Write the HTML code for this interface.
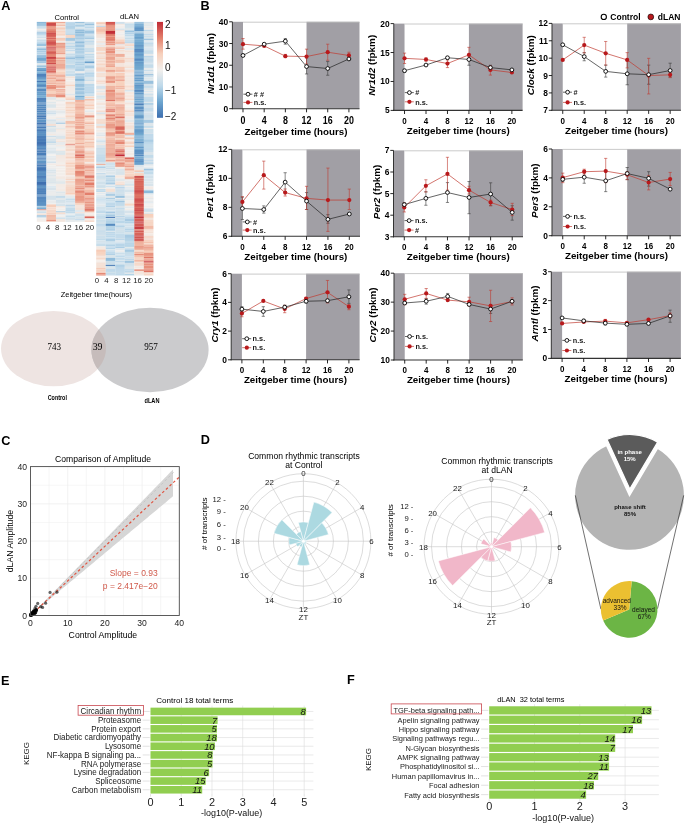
<!DOCTYPE html><html><head><meta charset="utf-8"><style>html,body{margin:0;padding:0;background:#fff;}svg{display:block;will-change:transform;}</style></head><body><svg width="685" height="825" viewBox="0 0 685 825" font-family='"Liberation Sans", sans-serif'>
<rect width="685" height="825" fill="#fff"/>
<text x="1.30" y="10.10" font-size="12.7" font-weight="bold" text-anchor="start" fill="#000">A</text>
<text x="66.80" y="20.00" font-size="7.6" text-anchor="middle" fill="#000">Control</text>
<text x="129.60" y="19.00" font-size="7.6" text-anchor="middle" fill="#000">dLAN</text>
<rect x="36.80" y="21.90" width="9.63" height="1.05" fill="#86b5d7"/>
<rect x="36.80" y="22.90" width="9.63" height="3.05" fill="#9cc3de"/>
<rect x="36.80" y="25.90" width="9.63" height="2.05" fill="#c7ddea"/>
<rect x="36.80" y="27.90" width="9.63" height="1.05" fill="#d4e2eb"/>
<rect x="36.80" y="28.90" width="9.63" height="1.55" fill="#f2eeea"/>
<rect x="36.80" y="30.40" width="9.63" height="2.05" fill="#d6e3eb"/>
<rect x="36.80" y="32.40" width="9.63" height="1.05" fill="#8ebada"/>
<rect x="36.80" y="33.40" width="9.63" height="1.05" fill="#a9cbe3"/>
<rect x="36.80" y="34.40" width="9.63" height="1.05" fill="#b2d1e6"/>
<rect x="36.80" y="35.40" width="9.63" height="1.05" fill="#d0e1eb"/>
<rect x="36.80" y="36.40" width="9.63" height="2.05" fill="#d1e1eb"/>
<rect x="36.80" y="38.40" width="9.63" height="1.05" fill="#e9ebec"/>
<rect x="36.80" y="39.40" width="9.63" height="2.05" fill="#c8ddea"/>
<rect x="36.80" y="41.40" width="9.63" height="2.05" fill="#c1daea"/>
<rect x="36.80" y="43.40" width="9.63" height="3.05" fill="#9bc3de"/>
<rect x="36.80" y="46.40" width="9.63" height="1.05" fill="#eaecec"/>
<rect x="36.80" y="47.40" width="9.63" height="1.05" fill="#accee4"/>
<rect x="36.80" y="48.40" width="9.63" height="2.05" fill="#90bcdb"/>
<rect x="36.80" y="50.40" width="9.63" height="1.05" fill="#b4d2e7"/>
<rect x="36.80" y="51.40" width="9.63" height="1.05" fill="#8ab8d8"/>
<rect x="36.80" y="52.40" width="9.63" height="1.05" fill="#bcd7e9"/>
<rect x="36.80" y="53.40" width="9.63" height="1.05" fill="#98c1dd"/>
<rect x="36.80" y="54.40" width="9.63" height="1.05" fill="#c0daea"/>
<rect x="36.80" y="55.40" width="9.63" height="1.05" fill="#6ea6cf"/>
<rect x="36.80" y="56.40" width="9.63" height="1.05" fill="#7aadd3"/>
<rect x="36.80" y="57.40" width="9.63" height="3.05" fill="#71a8d0"/>
<rect x="36.80" y="60.40" width="9.63" height="1.05" fill="#598fc2"/>
<rect x="36.80" y="61.40" width="9.63" height="2.05" fill="#a2c7e1"/>
<rect x="36.80" y="63.40" width="9.63" height="2.05" fill="#e1e8eb"/>
<rect x="36.80" y="65.40" width="9.63" height="1.55" fill="#92bddb"/>
<rect x="36.80" y="66.90" width="9.63" height="1.05" fill="#c8ddea"/>
<rect x="36.80" y="67.90" width="9.63" height="1.05" fill="#6ca4ce"/>
<rect x="36.80" y="68.90" width="9.63" height="1.05" fill="#6aa2cd"/>
<rect x="36.80" y="69.90" width="9.63" height="1.55" fill="#6096c6"/>
<rect x="36.80" y="71.40" width="9.63" height="1.55" fill="#82b3d6"/>
<rect x="36.80" y="72.90" width="9.63" height="1.05" fill="#76abd2"/>
<rect x="36.80" y="73.90" width="9.63" height="3.05" fill="#4e82bb"/>
<rect x="36.80" y="76.90" width="9.63" height="2.05" fill="#6097c6"/>
<rect x="36.80" y="78.90" width="9.63" height="1.05" fill="#71a8d0"/>
<rect x="36.80" y="79.90" width="9.63" height="1.05" fill="#83b3d6"/>
<rect x="36.80" y="80.90" width="9.63" height="1.05" fill="#3d6fb0"/>
<rect x="36.80" y="81.90" width="9.63" height="2.05" fill="#74aad1"/>
<rect x="36.80" y="83.90" width="9.63" height="1.05" fill="#6198c7"/>
<rect x="36.80" y="84.90" width="9.63" height="2.05" fill="#558abf"/>
<rect x="36.80" y="86.90" width="9.63" height="1.55" fill="#8fbbda"/>
<rect x="36.80" y="88.40" width="9.63" height="3.05" fill="#578cc0"/>
<rect x="36.80" y="91.40" width="9.63" height="1.55" fill="#6299c8"/>
<rect x="36.80" y="92.90" width="9.63" height="1.05" fill="#6ea6cf"/>
<rect x="36.80" y="93.90" width="9.63" height="1.05" fill="#6197c7"/>
<rect x="36.80" y="94.90" width="9.63" height="1.05" fill="#7fb1d5"/>
<rect x="36.80" y="95.90" width="9.63" height="1.05" fill="#71a8d0"/>
<rect x="36.80" y="96.90" width="9.63" height="1.05" fill="#83b3d6"/>
<rect x="36.80" y="97.90" width="9.63" height="1.05" fill="#497cb8"/>
<rect x="36.80" y="98.90" width="9.63" height="2.05" fill="#5084bc"/>
<rect x="36.80" y="100.90" width="9.63" height="1.55" fill="#578cc0"/>
<rect x="36.80" y="102.40" width="9.63" height="1.05" fill="#578cc1"/>
<rect x="36.80" y="103.40" width="9.63" height="1.05" fill="#558abf"/>
<rect x="36.80" y="104.40" width="9.63" height="2.05" fill="#5489bf"/>
<rect x="36.80" y="106.40" width="9.63" height="2.05" fill="#558abf"/>
<rect x="36.80" y="108.40" width="9.63" height="2.05" fill="#5185bc"/>
<rect x="36.80" y="110.40" width="9.63" height="2.05" fill="#5287be"/>
<rect x="36.80" y="112.40" width="9.63" height="2.05" fill="#5a90c2"/>
<rect x="36.80" y="114.40" width="9.63" height="1.05" fill="#497cb7"/>
<rect x="36.80" y="115.40" width="9.63" height="2.05" fill="#477bb7"/>
<rect x="36.80" y="117.40" width="9.63" height="2.05" fill="#5084bc"/>
<rect x="36.80" y="119.40" width="9.63" height="3.05" fill="#5e94c5"/>
<rect x="36.80" y="122.40" width="9.63" height="2.05" fill="#4477b5"/>
<rect x="36.80" y="124.40" width="9.63" height="1.05" fill="#5084bc"/>
<rect x="36.80" y="125.40" width="9.63" height="1.05" fill="#568bc0"/>
<rect x="36.80" y="126.40" width="9.63" height="2.05" fill="#487bb7"/>
<rect x="36.80" y="128.40" width="9.63" height="1.55" fill="#598ec2"/>
<rect x="36.80" y="129.90" width="9.63" height="1.05" fill="#4476b4"/>
<rect x="36.80" y="130.90" width="9.63" height="1.05" fill="#5489bf"/>
<rect x="36.80" y="131.90" width="9.63" height="2.05" fill="#5a8fc2"/>
<rect x="36.80" y="133.90" width="9.63" height="2.05" fill="#598fc2"/>
<rect x="36.80" y="135.90" width="9.63" height="3.05" fill="#497db8"/>
<rect x="36.80" y="138.90" width="9.63" height="3.05" fill="#477ab6"/>
<rect x="36.80" y="141.90" width="9.63" height="3.05" fill="#4072b2"/>
<rect x="36.80" y="144.90" width="9.63" height="1.05" fill="#4679b5"/>
<rect x="36.80" y="145.90" width="9.63" height="2.05" fill="#598ec2"/>
<rect x="36.80" y="147.90" width="9.63" height="1.55" fill="#5388be"/>
<rect x="36.80" y="149.40" width="9.63" height="1.05" fill="#3d6fb0"/>
<rect x="36.80" y="150.40" width="9.63" height="2.05" fill="#4d81ba"/>
<rect x="36.80" y="152.40" width="9.63" height="3.05" fill="#497db8"/>
<rect x="36.80" y="155.40" width="9.63" height="1.05" fill="#4c80ba"/>
<rect x="36.80" y="156.40" width="9.63" height="1.05" fill="#659cca"/>
<rect x="36.80" y="157.40" width="9.63" height="1.05" fill="#568bc0"/>
<rect x="36.80" y="158.40" width="9.63" height="1.05" fill="#4072b2"/>
<rect x="36.80" y="159.40" width="9.63" height="1.05" fill="#5c92c4"/>
<rect x="36.80" y="160.40" width="9.63" height="3.05" fill="#5f95c5"/>
<rect x="36.80" y="163.40" width="9.63" height="1.05" fill="#4073b2"/>
<rect x="36.80" y="164.40" width="9.63" height="2.05" fill="#4e82bb"/>
<rect x="36.80" y="166.40" width="9.63" height="1.55" fill="#497db8"/>
<rect x="36.80" y="167.90" width="9.63" height="3.05" fill="#4376b4"/>
<rect x="36.80" y="170.90" width="9.63" height="2.05" fill="#578cc0"/>
<rect x="36.80" y="172.90" width="9.63" height="3.05" fill="#578dc1"/>
<rect x="36.80" y="175.90" width="9.63" height="1.05" fill="#4578b5"/>
<rect x="36.80" y="176.90" width="9.63" height="1.05" fill="#487bb7"/>
<rect x="36.80" y="177.90" width="9.63" height="2.05" fill="#568bc0"/>
<rect x="36.80" y="179.90" width="9.63" height="2.05" fill="#568bc0"/>
<rect x="36.80" y="181.90" width="9.63" height="3.05" fill="#3d6fb0"/>
<rect x="36.80" y="184.90" width="9.63" height="1.05" fill="#5084bc"/>
<rect x="36.80" y="185.90" width="9.63" height="2.05" fill="#5c92c4"/>
<rect x="36.80" y="187.90" width="9.63" height="1.05" fill="#5185bc"/>
<rect x="36.80" y="188.90" width="9.63" height="2.05" fill="#4e82bb"/>
<rect x="36.80" y="190.90" width="9.63" height="2.05" fill="#4f83bb"/>
<rect x="36.80" y="192.90" width="9.63" height="1.55" fill="#4b7fb9"/>
<rect x="36.80" y="194.40" width="9.63" height="1.05" fill="#5387be"/>
<rect x="36.80" y="195.40" width="9.63" height="1.05" fill="#568bc0"/>
<rect x="36.80" y="196.40" width="9.63" height="1.55" fill="#4e82bb"/>
<rect x="36.80" y="197.90" width="9.63" height="2.05" fill="#5388be"/>
<rect x="36.80" y="199.90" width="9.63" height="3.05" fill="#578cc0"/>
<rect x="36.80" y="202.90" width="9.63" height="3.05" fill="#5c92c4"/>
<rect x="36.80" y="205.90" width="9.63" height="1.05" fill="#b0d0e5"/>
<rect x="36.80" y="206.90" width="9.63" height="1.05" fill="#98c1dd"/>
<rect x="36.80" y="207.90" width="9.63" height="1.55" fill="#79add3"/>
<rect x="36.80" y="209.40" width="9.63" height="1.05" fill="#e58a76"/>
<rect x="36.80" y="210.40" width="9.63" height="1.55" fill="#dbe5eb"/>
<rect x="36.80" y="211.90" width="9.63" height="1.55" fill="#cddfeb"/>
<rect x="36.80" y="213.40" width="9.63" height="2.05" fill="#f4e4db"/>
<rect x="36.80" y="215.40" width="9.63" height="1.05" fill="#8ebada"/>
<rect x="36.80" y="216.40" width="9.63" height="1.05" fill="#a9cce3"/>
<rect x="36.80" y="217.40" width="9.63" height="1.05" fill="#dde6eb"/>
<rect x="36.80" y="218.40" width="9.63" height="3.05" fill="#f2eeeb"/>
<rect x="36.80" y="221.40" width="9.63" height="0.45" fill="#f3e8e1"/>
<rect x="46.38" y="21.90" width="9.63" height="1.05" fill="#e68c78"/>
<rect x="46.38" y="22.90" width="9.63" height="3.05" fill="#ce4d4b"/>
<rect x="46.38" y="25.90" width="9.63" height="1.05" fill="#e7917d"/>
<rect x="46.38" y="26.90" width="9.63" height="2.05" fill="#ea9b87"/>
<rect x="46.38" y="28.90" width="9.63" height="1.05" fill="#e58975"/>
<rect x="46.38" y="29.90" width="9.63" height="1.05" fill="#e3816d"/>
<rect x="46.38" y="30.90" width="9.63" height="2.05" fill="#de7363"/>
<rect x="46.38" y="32.90" width="9.63" height="1.05" fill="#cd4949"/>
<rect x="46.38" y="33.90" width="9.63" height="3.05" fill="#d55d55"/>
<rect x="46.38" y="36.90" width="9.63" height="1.05" fill="#e58975"/>
<rect x="46.38" y="37.90" width="9.63" height="1.05" fill="#d45a54"/>
<rect x="46.38" y="38.90" width="9.63" height="1.05" fill="#e68a76"/>
<rect x="46.38" y="39.90" width="9.63" height="1.05" fill="#dc6e60"/>
<rect x="46.38" y="40.90" width="9.63" height="1.05" fill="#d7635a"/>
<rect x="46.38" y="41.90" width="9.63" height="3.05" fill="#d15450"/>
<rect x="46.38" y="44.90" width="9.63" height="1.55" fill="#e17b69"/>
<rect x="46.38" y="46.40" width="9.63" height="1.05" fill="#da6a5e"/>
<rect x="46.38" y="47.40" width="9.63" height="1.05" fill="#c83f42"/>
<rect x="46.38" y="48.40" width="9.63" height="1.05" fill="#d9665c"/>
<rect x="46.38" y="49.40" width="9.63" height="1.05" fill="#d55f57"/>
<rect x="46.38" y="50.40" width="9.63" height="1.55" fill="#dc7062"/>
<rect x="46.38" y="51.90" width="9.63" height="2.05" fill="#d55d55"/>
<rect x="46.38" y="53.90" width="9.63" height="2.05" fill="#e3826e"/>
<rect x="46.38" y="55.90" width="9.63" height="1.05" fill="#e58672"/>
<rect x="46.38" y="56.90" width="9.63" height="2.05" fill="#c94043"/>
<rect x="46.38" y="58.90" width="9.63" height="1.05" fill="#e27d6a"/>
<rect x="46.38" y="59.90" width="9.63" height="2.05" fill="#db6c5f"/>
<rect x="46.38" y="61.90" width="9.63" height="1.05" fill="#e37f6c"/>
<rect x="46.38" y="62.90" width="9.63" height="1.55" fill="#cf4f4d"/>
<rect x="46.38" y="64.40" width="9.63" height="1.05" fill="#e58773"/>
<rect x="46.38" y="65.40" width="9.63" height="1.05" fill="#e07a68"/>
<rect x="46.38" y="66.40" width="9.63" height="1.05" fill="#d9665c"/>
<rect x="46.38" y="67.40" width="9.63" height="1.05" fill="#cd4949"/>
<rect x="46.38" y="68.40" width="9.63" height="1.05" fill="#dd7062"/>
<rect x="46.38" y="69.40" width="9.63" height="1.05" fill="#cf504d"/>
<rect x="46.38" y="70.40" width="9.63" height="2.05" fill="#da6a5e"/>
<rect x="46.38" y="72.40" width="9.63" height="1.05" fill="#db6d60"/>
<rect x="46.38" y="73.40" width="9.63" height="1.05" fill="#f0b4a0"/>
<rect x="46.38" y="74.40" width="9.63" height="2.05" fill="#eeae9a"/>
<rect x="46.38" y="76.40" width="9.63" height="1.05" fill="#f0b29e"/>
<rect x="46.38" y="77.40" width="9.63" height="2.05" fill="#edaa96"/>
<rect x="46.38" y="79.40" width="9.63" height="3.05" fill="#f3c2ae"/>
<rect x="46.38" y="82.40" width="9.63" height="1.55" fill="#efb09c"/>
<rect x="46.38" y="83.90" width="9.63" height="1.05" fill="#f6d7c7"/>
<rect x="46.38" y="84.90" width="9.63" height="2.05" fill="#e8927e"/>
<rect x="46.38" y="86.90" width="9.63" height="2.05" fill="#e58975"/>
<rect x="46.38" y="88.90" width="9.63" height="2.05" fill="#f3bfab"/>
<rect x="46.38" y="90.90" width="9.63" height="3.05" fill="#f7d2bf"/>
<rect x="46.38" y="93.90" width="9.63" height="3.05" fill="#efb29e"/>
<rect x="46.38" y="96.90" width="9.63" height="3.05" fill="#e1e8eb"/>
<rect x="46.38" y="99.90" width="9.63" height="2.05" fill="#f1efec"/>
<rect x="46.38" y="101.90" width="9.63" height="1.05" fill="#dee7eb"/>
<rect x="46.38" y="102.90" width="9.63" height="1.05" fill="#ededec"/>
<rect x="46.38" y="103.90" width="9.63" height="1.05" fill="#e0e7eb"/>
<rect x="46.38" y="104.90" width="9.63" height="2.05" fill="#dae5eb"/>
<rect x="46.38" y="106.90" width="9.63" height="1.55" fill="#e1e8eb"/>
<rect x="46.38" y="108.40" width="9.63" height="2.05" fill="#f3ece7"/>
<rect x="46.38" y="110.40" width="9.63" height="2.05" fill="#d9e4eb"/>
<rect x="46.38" y="112.40" width="9.63" height="2.05" fill="#cfe0eb"/>
<rect x="46.38" y="114.40" width="9.63" height="1.05" fill="#e6eaec"/>
<rect x="46.38" y="115.40" width="9.63" height="1.05" fill="#e4e9eb"/>
<rect x="46.38" y="116.40" width="9.63" height="3.05" fill="#f2efec"/>
<rect x="46.38" y="119.40" width="9.63" height="1.55" fill="#d3e2eb"/>
<rect x="46.38" y="120.90" width="9.63" height="2.05" fill="#e0e7eb"/>
<rect x="46.38" y="122.90" width="9.63" height="1.05" fill="#dfe7eb"/>
<rect x="46.38" y="123.90" width="9.63" height="2.05" fill="#f5dfd4"/>
<rect x="46.38" y="125.90" width="9.63" height="1.05" fill="#c5dcea"/>
<rect x="46.38" y="126.90" width="9.63" height="1.05" fill="#e5eaec"/>
<rect x="46.38" y="127.90" width="9.63" height="1.05" fill="#e0e7eb"/>
<rect x="46.38" y="128.90" width="9.63" height="3.05" fill="#dae5eb"/>
<rect x="46.38" y="131.90" width="9.63" height="2.05" fill="#ececec"/>
<rect x="46.38" y="133.90" width="9.63" height="1.05" fill="#f3e7e0"/>
<rect x="46.38" y="134.90" width="9.63" height="1.05" fill="#efeeec"/>
<rect x="46.38" y="135.90" width="9.63" height="1.05" fill="#c8ddea"/>
<rect x="46.38" y="136.90" width="9.63" height="1.05" fill="#e7eaec"/>
<rect x="46.38" y="137.90" width="9.63" height="1.05" fill="#e5e9eb"/>
<rect x="46.38" y="138.90" width="9.63" height="1.05" fill="#d6e3eb"/>
<rect x="46.38" y="139.90" width="9.63" height="1.05" fill="#d9e4eb"/>
<rect x="46.38" y="140.90" width="9.63" height="1.05" fill="#ccdfeb"/>
<rect x="46.38" y="141.90" width="9.63" height="1.05" fill="#bcd8e9"/>
<rect x="46.38" y="142.90" width="9.63" height="1.05" fill="#e3e9eb"/>
<rect x="46.38" y="143.90" width="9.63" height="1.55" fill="#dde6eb"/>
<rect x="46.38" y="145.40" width="9.63" height="1.05" fill="#eaecec"/>
<rect x="46.38" y="146.40" width="9.63" height="1.05" fill="#e5eaec"/>
<rect x="46.38" y="147.40" width="9.63" height="2.05" fill="#e1e8eb"/>
<rect x="46.38" y="149.40" width="9.63" height="1.05" fill="#dae5eb"/>
<rect x="46.38" y="150.40" width="9.63" height="3.05" fill="#dae5eb"/>
<rect x="46.38" y="153.40" width="9.63" height="1.05" fill="#dde6eb"/>
<rect x="46.38" y="154.40" width="9.63" height="1.05" fill="#f2eeeb"/>
<rect x="46.38" y="155.40" width="9.63" height="1.05" fill="#efeeec"/>
<rect x="46.38" y="156.40" width="9.63" height="1.05" fill="#dae5eb"/>
<rect x="46.38" y="157.40" width="9.63" height="3.05" fill="#e6eaec"/>
<rect x="46.38" y="160.40" width="9.63" height="1.05" fill="#e8ebec"/>
<rect x="46.38" y="161.40" width="9.63" height="2.05" fill="#d4e2eb"/>
<rect x="46.38" y="163.40" width="9.63" height="2.05" fill="#f3ebe6"/>
<rect x="46.38" y="165.40" width="9.63" height="2.05" fill="#efeeec"/>
<rect x="46.38" y="167.40" width="9.63" height="2.05" fill="#ebecec"/>
<rect x="46.38" y="169.40" width="9.63" height="2.05" fill="#d9e5eb"/>
<rect x="46.38" y="171.40" width="9.63" height="1.55" fill="#dbe5eb"/>
<rect x="46.38" y="172.90" width="9.63" height="2.05" fill="#e7eaec"/>
<rect x="46.38" y="174.90" width="9.63" height="1.05" fill="#dce6eb"/>
<rect x="46.38" y="175.90" width="9.63" height="2.05" fill="#e7eaec"/>
<rect x="46.38" y="177.90" width="9.63" height="1.05" fill="#e0e7eb"/>
<rect x="46.38" y="178.90" width="9.63" height="3.05" fill="#dfe7eb"/>
<rect x="46.38" y="181.90" width="9.63" height="1.05" fill="#d9e4eb"/>
<rect x="46.38" y="182.90" width="9.63" height="1.55" fill="#e5eaec"/>
<rect x="46.38" y="184.40" width="9.63" height="1.05" fill="#e3e9eb"/>
<rect x="46.38" y="185.40" width="9.63" height="1.05" fill="#e9ebec"/>
<rect x="46.38" y="186.40" width="9.63" height="1.05" fill="#cddfeb"/>
<rect x="46.38" y="187.40" width="9.63" height="3.05" fill="#d9e4eb"/>
<rect x="46.38" y="190.40" width="9.63" height="1.55" fill="#e8ebec"/>
<rect x="46.38" y="191.90" width="9.63" height="3.05" fill="#ebecec"/>
<rect x="46.38" y="194.90" width="9.63" height="1.05" fill="#e6eaec"/>
<rect x="46.38" y="195.90" width="9.63" height="2.05" fill="#d3e2eb"/>
<rect x="46.38" y="197.90" width="9.63" height="1.05" fill="#d3e2eb"/>
<rect x="46.38" y="198.90" width="9.63" height="1.55" fill="#d9e4eb"/>
<rect x="46.38" y="200.40" width="9.63" height="3.05" fill="#e9ebec"/>
<rect x="46.38" y="203.40" width="9.63" height="1.05" fill="#eaecec"/>
<rect x="46.38" y="204.40" width="9.63" height="3.05" fill="#f6ceba"/>
<rect x="46.38" y="207.40" width="9.63" height="2.05" fill="#f5dccf"/>
<rect x="46.38" y="209.40" width="9.63" height="3.05" fill="#f6d7c8"/>
<rect x="46.38" y="212.40" width="9.63" height="1.55" fill="#f7ceba"/>
<rect x="46.38" y="213.90" width="9.63" height="1.05" fill="#f6d9ca"/>
<rect x="46.38" y="214.90" width="9.63" height="2.05" fill="#f1b9a5"/>
<rect x="46.38" y="216.90" width="9.63" height="3.05" fill="#f3c1ad"/>
<rect x="46.38" y="219.90" width="9.63" height="1.55" fill="#e8937f"/>
<rect x="46.38" y="221.40" width="9.63" height="0.45" fill="#f6d5c4"/>
<rect x="55.96" y="21.90" width="9.63" height="1.05" fill="#eca28e"/>
<rect x="55.96" y="22.90" width="9.63" height="2.05" fill="#f6d8c8"/>
<rect x="55.96" y="24.90" width="9.63" height="1.05" fill="#f2baa6"/>
<rect x="55.96" y="25.90" width="9.63" height="1.05" fill="#f3e7df"/>
<rect x="55.96" y="26.90" width="9.63" height="1.05" fill="#f5dacc"/>
<rect x="55.96" y="27.90" width="9.63" height="1.05" fill="#f6cbb7"/>
<rect x="55.96" y="28.90" width="9.63" height="1.05" fill="#f6d7c7"/>
<rect x="55.96" y="29.90" width="9.63" height="1.05" fill="#f4e0d5"/>
<rect x="55.96" y="30.90" width="9.63" height="1.55" fill="#f6d6c6"/>
<rect x="55.96" y="32.40" width="9.63" height="1.05" fill="#f7d1bd"/>
<rect x="55.96" y="33.40" width="9.63" height="2.05" fill="#f6d5c4"/>
<rect x="55.96" y="35.40" width="9.63" height="1.05" fill="#f6d6c5"/>
<rect x="55.96" y="36.40" width="9.63" height="1.55" fill="#f3ebe6"/>
<rect x="55.96" y="37.90" width="9.63" height="2.05" fill="#f5cab6"/>
<rect x="55.96" y="39.90" width="9.63" height="1.05" fill="#f7d2c0"/>
<rect x="55.96" y="40.90" width="9.63" height="1.05" fill="#f3eae4"/>
<rect x="55.96" y="41.90" width="9.63" height="1.05" fill="#f4e0d4"/>
<rect x="55.96" y="42.90" width="9.63" height="1.05" fill="#e89581"/>
<rect x="55.96" y="43.90" width="9.63" height="1.05" fill="#eca591"/>
<rect x="55.96" y="44.90" width="9.63" height="1.05" fill="#edaa96"/>
<rect x="55.96" y="45.90" width="9.63" height="2.05" fill="#eba08c"/>
<rect x="55.96" y="47.90" width="9.63" height="1.05" fill="#f0b4a0"/>
<rect x="55.96" y="48.90" width="9.63" height="2.05" fill="#f2bba7"/>
<rect x="55.96" y="50.90" width="9.63" height="1.55" fill="#f1baa6"/>
<rect x="55.96" y="52.40" width="9.63" height="2.05" fill="#eba28e"/>
<rect x="55.96" y="54.40" width="9.63" height="1.05" fill="#f6d4c3"/>
<rect x="55.96" y="55.40" width="9.63" height="1.05" fill="#f7d1bd"/>
<rect x="55.96" y="56.40" width="9.63" height="1.05" fill="#f6d4c2"/>
<rect x="55.96" y="57.40" width="9.63" height="1.55" fill="#e99985"/>
<rect x="55.96" y="58.90" width="9.63" height="1.05" fill="#f6ceba"/>
<rect x="55.96" y="59.90" width="9.63" height="1.05" fill="#eda995"/>
<rect x="55.96" y="60.90" width="9.63" height="3.05" fill="#f1baa6"/>
<rect x="55.96" y="63.90" width="9.63" height="3.05" fill="#eda995"/>
<rect x="55.96" y="66.90" width="9.63" height="1.05" fill="#eca591"/>
<rect x="55.96" y="67.90" width="9.63" height="1.55" fill="#f1b7a3"/>
<rect x="55.96" y="69.40" width="9.63" height="1.05" fill="#f4c2ae"/>
<rect x="55.96" y="70.40" width="9.63" height="1.05" fill="#f6d5c4"/>
<rect x="55.96" y="71.40" width="9.63" height="3.05" fill="#f7d2bf"/>
<rect x="55.96" y="74.40" width="9.63" height="3.05" fill="#f0b29e"/>
<rect x="55.96" y="77.40" width="9.63" height="1.05" fill="#f2bda9"/>
<rect x="55.96" y="78.40" width="9.63" height="1.05" fill="#f1b7a3"/>
<rect x="55.96" y="79.40" width="9.63" height="2.05" fill="#e99884"/>
<rect x="55.96" y="81.40" width="9.63" height="1.05" fill="#f0b5a1"/>
<rect x="55.96" y="82.40" width="9.63" height="2.05" fill="#f3beaa"/>
<rect x="55.96" y="84.40" width="9.63" height="1.05" fill="#f1b7a3"/>
<rect x="55.96" y="85.40" width="9.63" height="1.55" fill="#eca490"/>
<rect x="55.96" y="86.90" width="9.63" height="1.55" fill="#f0b29e"/>
<rect x="55.96" y="88.40" width="9.63" height="1.05" fill="#f5dfd3"/>
<rect x="55.96" y="89.40" width="9.63" height="1.05" fill="#e48672"/>
<rect x="55.96" y="90.40" width="9.63" height="2.05" fill="#f2bda9"/>
<rect x="55.96" y="92.40" width="9.63" height="2.05" fill="#f2bca8"/>
<rect x="55.96" y="94.40" width="9.63" height="3.05" fill="#e78e7a"/>
<rect x="55.96" y="97.40" width="9.63" height="1.05" fill="#f6d4c1"/>
<rect x="55.96" y="98.40" width="9.63" height="1.55" fill="#f1efec"/>
<rect x="55.96" y="99.90" width="9.63" height="1.05" fill="#e4e9eb"/>
<rect x="55.96" y="100.90" width="9.63" height="1.55" fill="#f2eeeb"/>
<rect x="55.96" y="102.40" width="9.63" height="1.05" fill="#f2efec"/>
<rect x="55.96" y="103.40" width="9.63" height="1.55" fill="#f2ece8"/>
<rect x="55.96" y="104.90" width="9.63" height="1.55" fill="#f2edea"/>
<rect x="55.96" y="106.40" width="9.63" height="2.05" fill="#f2ece7"/>
<rect x="55.96" y="108.40" width="9.63" height="2.05" fill="#f3e9e3"/>
<rect x="55.96" y="110.40" width="9.63" height="3.05" fill="#e5e9eb"/>
<rect x="55.96" y="113.40" width="9.63" height="1.05" fill="#e8ebec"/>
<rect x="55.96" y="114.40" width="9.63" height="1.05" fill="#eeedec"/>
<rect x="55.96" y="115.40" width="9.63" height="1.05" fill="#f2efec"/>
<rect x="55.96" y="116.40" width="9.63" height="2.05" fill="#f3ebe6"/>
<rect x="55.96" y="118.40" width="9.63" height="1.05" fill="#d7e4eb"/>
<rect x="55.96" y="119.40" width="9.63" height="1.05" fill="#f4e3d9"/>
<rect x="55.96" y="120.40" width="9.63" height="1.05" fill="#dfe7eb"/>
<rect x="55.96" y="121.40" width="9.63" height="1.55" fill="#d7e3eb"/>
<rect x="55.96" y="122.90" width="9.63" height="1.05" fill="#abcde4"/>
<rect x="55.96" y="123.90" width="9.63" height="1.05" fill="#f2efec"/>
<rect x="55.96" y="124.90" width="9.63" height="3.05" fill="#f2ede9"/>
<rect x="55.96" y="127.90" width="9.63" height="1.05" fill="#e3e9eb"/>
<rect x="55.96" y="128.90" width="9.63" height="1.05" fill="#f4e6dd"/>
<rect x="55.96" y="129.90" width="9.63" height="2.05" fill="#f2ece8"/>
<rect x="55.96" y="131.90" width="9.63" height="2.05" fill="#f0eeec"/>
<rect x="55.96" y="133.90" width="9.63" height="1.05" fill="#eeedec"/>
<rect x="55.96" y="134.90" width="9.63" height="1.05" fill="#eaebec"/>
<rect x="55.96" y="135.90" width="9.63" height="3.05" fill="#dae5eb"/>
<rect x="55.96" y="138.90" width="9.63" height="1.05" fill="#f3e6df"/>
<rect x="55.96" y="139.90" width="9.63" height="1.05" fill="#f3ece7"/>
<rect x="55.96" y="140.90" width="9.63" height="1.05" fill="#f4e4db"/>
<rect x="55.96" y="141.90" width="9.63" height="3.05" fill="#e7eaec"/>
<rect x="55.96" y="144.90" width="9.63" height="1.05" fill="#f3eae4"/>
<rect x="55.96" y="145.90" width="9.63" height="1.55" fill="#eeedec"/>
<rect x="55.96" y="147.40" width="9.63" height="1.05" fill="#e7ebec"/>
<rect x="55.96" y="148.40" width="9.63" height="1.05" fill="#ededec"/>
<rect x="55.96" y="149.40" width="9.63" height="1.55" fill="#f3ebe6"/>
<rect x="55.96" y="150.90" width="9.63" height="2.05" fill="#dee7eb"/>
<rect x="55.96" y="152.90" width="9.63" height="2.05" fill="#dce6eb"/>
<rect x="55.96" y="154.90" width="9.63" height="1.05" fill="#f3e6de"/>
<rect x="55.96" y="155.90" width="9.63" height="3.05" fill="#f3e8e1"/>
<rect x="55.96" y="158.90" width="9.63" height="3.05" fill="#f3eae5"/>
<rect x="55.96" y="161.90" width="9.63" height="1.05" fill="#f3ece7"/>
<rect x="55.96" y="162.90" width="9.63" height="1.55" fill="#f2eeea"/>
<rect x="55.96" y="164.40" width="9.63" height="2.05" fill="#f4e5dd"/>
<rect x="55.96" y="166.40" width="9.63" height="1.05" fill="#eaecec"/>
<rect x="55.96" y="167.40" width="9.63" height="2.05" fill="#f2eeea"/>
<rect x="55.96" y="169.40" width="9.63" height="3.05" fill="#f2ede9"/>
<rect x="55.96" y="172.40" width="9.63" height="3.05" fill="#f2eeea"/>
<rect x="55.96" y="175.40" width="9.63" height="1.55" fill="#f3ece7"/>
<rect x="55.96" y="176.90" width="9.63" height="2.05" fill="#f3e9e3"/>
<rect x="55.96" y="178.90" width="9.63" height="2.05" fill="#ededec"/>
<rect x="55.96" y="180.90" width="9.63" height="1.05" fill="#e4e9eb"/>
<rect x="55.96" y="181.90" width="9.63" height="2.05" fill="#e1e8eb"/>
<rect x="55.96" y="183.90" width="9.63" height="3.05" fill="#f3ebe5"/>
<rect x="55.96" y="186.90" width="9.63" height="2.05" fill="#f3ece7"/>
<rect x="55.96" y="188.90" width="9.63" height="2.05" fill="#f3eae4"/>
<rect x="55.96" y="190.90" width="9.63" height="1.05" fill="#ebecec"/>
<rect x="55.96" y="191.90" width="9.63" height="1.05" fill="#dce6eb"/>
<rect x="55.96" y="192.90" width="9.63" height="1.05" fill="#e7eaec"/>
<rect x="55.96" y="193.90" width="9.63" height="2.05" fill="#e6eaec"/>
<rect x="55.96" y="195.90" width="9.63" height="2.05" fill="#c4dbea"/>
<rect x="55.96" y="197.90" width="9.63" height="2.05" fill="#e1e8eb"/>
<rect x="55.96" y="199.90" width="9.63" height="2.05" fill="#d3e2eb"/>
<rect x="55.96" y="201.90" width="9.63" height="1.55" fill="#d8e4eb"/>
<rect x="55.96" y="203.40" width="9.63" height="1.55" fill="#d9e4eb"/>
<rect x="55.96" y="204.90" width="9.63" height="1.05" fill="#d0e1eb"/>
<rect x="55.96" y="205.90" width="9.63" height="1.55" fill="#f3e7e0"/>
<rect x="55.96" y="207.40" width="9.63" height="1.05" fill="#f3e8e2"/>
<rect x="55.96" y="208.40" width="9.63" height="2.05" fill="#f0eeec"/>
<rect x="55.96" y="210.40" width="9.63" height="1.05" fill="#f2ede9"/>
<rect x="55.96" y="211.40" width="9.63" height="1.05" fill="#98c0dd"/>
<rect x="55.96" y="212.40" width="9.63" height="2.05" fill="#f5ded1"/>
<rect x="55.96" y="214.40" width="9.63" height="1.05" fill="#e2e8eb"/>
<rect x="55.96" y="215.40" width="9.63" height="2.05" fill="#f1efec"/>
<rect x="55.96" y="217.40" width="9.63" height="1.55" fill="#cee0eb"/>
<rect x="55.96" y="218.90" width="9.63" height="2.95" fill="#f3e6de"/>
<rect x="65.54" y="21.90" width="9.63" height="1.05" fill="#bed9ea"/>
<rect x="65.54" y="22.90" width="9.63" height="1.05" fill="#b7d5e8"/>
<rect x="65.54" y="23.90" width="9.63" height="2.05" fill="#bad6e9"/>
<rect x="65.54" y="25.90" width="9.63" height="3.05" fill="#b3d2e6"/>
<rect x="65.54" y="28.90" width="9.63" height="1.55" fill="#c7ddea"/>
<rect x="65.54" y="30.40" width="9.63" height="1.05" fill="#b8d5e8"/>
<rect x="65.54" y="31.40" width="9.63" height="1.05" fill="#bad6e9"/>
<rect x="65.54" y="32.40" width="9.63" height="1.05" fill="#b9d6e8"/>
<rect x="65.54" y="33.40" width="9.63" height="1.55" fill="#b7d4e8"/>
<rect x="65.54" y="34.90" width="9.63" height="3.05" fill="#f6d7c6"/>
<rect x="65.54" y="37.90" width="9.63" height="3.05" fill="#a5c9e2"/>
<rect x="65.54" y="40.90" width="9.63" height="2.05" fill="#dde6eb"/>
<rect x="65.54" y="42.90" width="9.63" height="1.05" fill="#c3dbea"/>
<rect x="65.54" y="43.90" width="9.63" height="2.05" fill="#d8e4eb"/>
<rect x="65.54" y="45.90" width="9.63" height="1.05" fill="#b5d3e7"/>
<rect x="65.54" y="46.90" width="9.63" height="1.05" fill="#cee0eb"/>
<rect x="65.54" y="47.90" width="9.63" height="1.55" fill="#c6dcea"/>
<rect x="65.54" y="49.40" width="9.63" height="1.05" fill="#dae5eb"/>
<rect x="65.54" y="50.40" width="9.63" height="1.05" fill="#aecfe5"/>
<rect x="65.54" y="51.40" width="9.63" height="2.05" fill="#ebecec"/>
<rect x="65.54" y="53.40" width="9.63" height="2.05" fill="#c8ddea"/>
<rect x="65.54" y="55.40" width="9.63" height="2.05" fill="#c3dbea"/>
<rect x="65.54" y="57.40" width="9.63" height="1.55" fill="#91bcdb"/>
<rect x="65.54" y="58.90" width="9.63" height="1.05" fill="#c0daea"/>
<rect x="65.54" y="59.90" width="9.63" height="1.05" fill="#c4dcea"/>
<rect x="65.54" y="60.90" width="9.63" height="1.05" fill="#c3dbea"/>
<rect x="65.54" y="61.90" width="9.63" height="2.05" fill="#c7ddea"/>
<rect x="65.54" y="63.90" width="9.63" height="1.05" fill="#d9e4eb"/>
<rect x="65.54" y="64.90" width="9.63" height="3.05" fill="#b9d6e8"/>
<rect x="65.54" y="67.90" width="9.63" height="1.05" fill="#c5dcea"/>
<rect x="65.54" y="68.90" width="9.63" height="1.55" fill="#d6e3eb"/>
<rect x="65.54" y="70.40" width="9.63" height="3.05" fill="#d0e1eb"/>
<rect x="65.54" y="73.40" width="9.63" height="3.05" fill="#c3dbea"/>
<rect x="65.54" y="76.40" width="9.63" height="2.05" fill="#f4e4db"/>
<rect x="65.54" y="78.40" width="9.63" height="2.05" fill="#f2ece8"/>
<rect x="65.54" y="80.40" width="9.63" height="2.05" fill="#f2eeeb"/>
<rect x="65.54" y="82.40" width="9.63" height="1.05" fill="#f4e3da"/>
<rect x="65.54" y="83.40" width="9.63" height="1.55" fill="#f3e7e0"/>
<rect x="65.54" y="84.90" width="9.63" height="1.05" fill="#f7d3c0"/>
<rect x="65.54" y="85.90" width="9.63" height="2.05" fill="#f3e9e3"/>
<rect x="65.54" y="87.90" width="9.63" height="2.05" fill="#f3ebe6"/>
<rect x="65.54" y="89.90" width="9.63" height="2.05" fill="#f3ece7"/>
<rect x="65.54" y="91.90" width="9.63" height="2.05" fill="#f2eeea"/>
<rect x="65.54" y="93.90" width="9.63" height="1.05" fill="#dde6eb"/>
<rect x="65.54" y="94.90" width="9.63" height="1.55" fill="#f3eae5"/>
<rect x="65.54" y="96.40" width="9.63" height="1.05" fill="#f4e0d4"/>
<rect x="65.54" y="97.40" width="9.63" height="1.05" fill="#f6d5c3"/>
<rect x="65.54" y="98.40" width="9.63" height="1.55" fill="#f6ceba"/>
<rect x="65.54" y="99.90" width="9.63" height="2.05" fill="#f2ede9"/>
<rect x="65.54" y="101.90" width="9.63" height="2.05" fill="#f7d0bc"/>
<rect x="65.54" y="103.90" width="9.63" height="1.05" fill="#f5dbce"/>
<rect x="65.54" y="104.90" width="9.63" height="1.55" fill="#f4e0d4"/>
<rect x="65.54" y="106.40" width="9.63" height="2.05" fill="#f6d4c2"/>
<rect x="65.54" y="108.40" width="9.63" height="1.05" fill="#f5dbcd"/>
<rect x="65.54" y="109.40" width="9.63" height="2.05" fill="#f6d5c3"/>
<rect x="65.54" y="111.40" width="9.63" height="2.05" fill="#f5dacb"/>
<rect x="65.54" y="113.40" width="9.63" height="1.05" fill="#f5dacc"/>
<rect x="65.54" y="114.40" width="9.63" height="1.05" fill="#f4e0d5"/>
<rect x="65.54" y="115.40" width="9.63" height="1.55" fill="#f7d2bf"/>
<rect x="65.54" y="116.90" width="9.63" height="2.05" fill="#f4e0d4"/>
<rect x="65.54" y="118.90" width="9.63" height="2.05" fill="#f3e8e0"/>
<rect x="65.54" y="120.90" width="9.63" height="3.05" fill="#f3c1ad"/>
<rect x="65.54" y="123.90" width="9.63" height="1.05" fill="#f5dcce"/>
<rect x="65.54" y="124.90" width="9.63" height="1.55" fill="#f5dccf"/>
<rect x="65.54" y="126.40" width="9.63" height="1.05" fill="#eeac98"/>
<rect x="65.54" y="127.40" width="9.63" height="1.05" fill="#f6d4c2"/>
<rect x="65.54" y="128.40" width="9.63" height="1.05" fill="#f5dbcc"/>
<rect x="65.54" y="129.40" width="9.63" height="2.05" fill="#f5dcce"/>
<rect x="65.54" y="131.40" width="9.63" height="2.05" fill="#f6d8c8"/>
<rect x="65.54" y="133.40" width="9.63" height="3.05" fill="#f6d9ca"/>
<rect x="65.54" y="136.40" width="9.63" height="3.05" fill="#f7d2be"/>
<rect x="65.54" y="139.40" width="9.63" height="3.05" fill="#f5ddcf"/>
<rect x="65.54" y="142.40" width="9.63" height="2.05" fill="#f6d7c7"/>
<rect x="65.54" y="144.40" width="9.63" height="1.05" fill="#dc6f61"/>
<rect x="65.54" y="145.40" width="9.63" height="3.05" fill="#f5dfd3"/>
<rect x="65.54" y="148.40" width="9.63" height="3.05" fill="#f5dacb"/>
<rect x="65.54" y="151.40" width="9.63" height="1.05" fill="#f4e4db"/>
<rect x="65.54" y="152.40" width="9.63" height="3.05" fill="#f5ded1"/>
<rect x="65.54" y="155.40" width="9.63" height="1.05" fill="#f5dbcd"/>
<rect x="65.54" y="156.40" width="9.63" height="2.05" fill="#f6d4c3"/>
<rect x="65.54" y="158.40" width="9.63" height="1.05" fill="#f6d9ca"/>
<rect x="65.54" y="159.40" width="9.63" height="1.05" fill="#f4e4db"/>
<rect x="65.54" y="160.40" width="9.63" height="1.05" fill="#f5dacb"/>
<rect x="65.54" y="161.40" width="9.63" height="1.05" fill="#f5dcce"/>
<rect x="65.54" y="162.40" width="9.63" height="2.05" fill="#f7d1be"/>
<rect x="65.54" y="164.40" width="9.63" height="3.05" fill="#f6d7c7"/>
<rect x="65.54" y="167.40" width="9.63" height="3.05" fill="#f5dcce"/>
<rect x="65.54" y="170.40" width="9.63" height="1.05" fill="#f7d3c0"/>
<rect x="65.54" y="171.40" width="9.63" height="1.05" fill="#f7d2bf"/>
<rect x="65.54" y="172.40" width="9.63" height="3.05" fill="#f5dacb"/>
<rect x="65.54" y="175.40" width="9.63" height="1.55" fill="#f3e9e3"/>
<rect x="65.54" y="176.90" width="9.63" height="2.05" fill="#f4e4db"/>
<rect x="65.54" y="178.90" width="9.63" height="1.05" fill="#f6d3c1"/>
<rect x="65.54" y="179.90" width="9.63" height="1.05" fill="#f3eae4"/>
<rect x="65.54" y="180.90" width="9.63" height="2.05" fill="#f6d9ca"/>
<rect x="65.54" y="182.90" width="9.63" height="2.05" fill="#f4e2d8"/>
<rect x="65.54" y="184.90" width="9.63" height="2.05" fill="#f5dcce"/>
<rect x="65.54" y="186.90" width="9.63" height="2.05" fill="#f6d7c7"/>
<rect x="65.54" y="188.90" width="9.63" height="2.05" fill="#f6d5c4"/>
<rect x="65.54" y="190.90" width="9.63" height="2.05" fill="#f5d9ca"/>
<rect x="65.54" y="192.90" width="9.63" height="1.55" fill="#f7d0bc"/>
<rect x="65.54" y="194.40" width="9.63" height="1.05" fill="#f5dbcd"/>
<rect x="65.54" y="195.40" width="9.63" height="3.05" fill="#e5eaec"/>
<rect x="65.54" y="198.40" width="9.63" height="2.05" fill="#c7ddea"/>
<rect x="65.54" y="200.40" width="9.63" height="2.05" fill="#d3e2eb"/>
<rect x="65.54" y="202.40" width="9.63" height="1.05" fill="#d4e2eb"/>
<rect x="65.54" y="203.40" width="9.63" height="2.05" fill="#dae5eb"/>
<rect x="65.54" y="205.40" width="9.63" height="1.05" fill="#9fc5e0"/>
<rect x="65.54" y="206.40" width="9.63" height="1.05" fill="#d3e2eb"/>
<rect x="65.54" y="207.40" width="9.63" height="3.05" fill="#c2dbea"/>
<rect x="65.54" y="210.40" width="9.63" height="1.05" fill="#a4c8e1"/>
<rect x="65.54" y="211.40" width="9.63" height="2.05" fill="#c2dbea"/>
<rect x="65.54" y="213.40" width="9.63" height="1.05" fill="#dde6eb"/>
<rect x="65.54" y="214.40" width="9.63" height="1.05" fill="#e5eaec"/>
<rect x="65.54" y="215.40" width="9.63" height="2.05" fill="#c7ddea"/>
<rect x="65.54" y="217.40" width="9.63" height="1.55" fill="#d0e1eb"/>
<rect x="65.54" y="218.90" width="9.63" height="1.05" fill="#d3e2eb"/>
<rect x="65.54" y="219.90" width="9.63" height="1.05" fill="#e7eaec"/>
<rect x="65.54" y="220.90" width="9.63" height="0.95" fill="#e2e8eb"/>
<rect x="75.12" y="21.90" width="9.63" height="1.05" fill="#90bcdb"/>
<rect x="75.12" y="22.90" width="9.63" height="2.05" fill="#c9deea"/>
<rect x="75.12" y="24.90" width="9.63" height="1.05" fill="#a6cae2"/>
<rect x="75.12" y="25.90" width="9.63" height="1.55" fill="#bcd7e9"/>
<rect x="75.12" y="27.40" width="9.63" height="2.05" fill="#d8e4eb"/>
<rect x="75.12" y="29.40" width="9.63" height="2.05" fill="#97c0dd"/>
<rect x="75.12" y="31.40" width="9.63" height="2.05" fill="#8dbad9"/>
<rect x="75.12" y="33.40" width="9.63" height="3.05" fill="#9fc5e0"/>
<rect x="75.12" y="36.40" width="9.63" height="1.05" fill="#9ac2de"/>
<rect x="75.12" y="37.40" width="9.63" height="1.55" fill="#a2c7e1"/>
<rect x="75.12" y="38.90" width="9.63" height="1.55" fill="#bcd8e9"/>
<rect x="75.12" y="40.40" width="9.63" height="1.55" fill="#accde4"/>
<rect x="75.12" y="41.90" width="9.63" height="1.55" fill="#91bddb"/>
<rect x="75.12" y="43.40" width="9.63" height="1.05" fill="#a1c7e0"/>
<rect x="75.12" y="44.40" width="9.63" height="3.05" fill="#a2c7e1"/>
<rect x="75.12" y="47.40" width="9.63" height="2.05" fill="#b2d2e6"/>
<rect x="75.12" y="49.40" width="9.63" height="1.05" fill="#87b6d7"/>
<rect x="75.12" y="50.40" width="9.63" height="3.05" fill="#b0d0e5"/>
<rect x="75.12" y="53.40" width="9.63" height="1.05" fill="#a8cbe3"/>
<rect x="75.12" y="54.40" width="9.63" height="2.05" fill="#b3d2e6"/>
<rect x="75.12" y="56.40" width="9.63" height="1.55" fill="#90bcdb"/>
<rect x="75.12" y="57.90" width="9.63" height="2.05" fill="#b1d1e6"/>
<rect x="75.12" y="59.90" width="9.63" height="2.05" fill="#c2dbea"/>
<rect x="75.12" y="61.90" width="9.63" height="1.55" fill="#aecfe5"/>
<rect x="75.12" y="63.40" width="9.63" height="1.05" fill="#afd0e5"/>
<rect x="75.12" y="64.40" width="9.63" height="1.05" fill="#92bddb"/>
<rect x="75.12" y="65.40" width="9.63" height="1.55" fill="#bdd9ea"/>
<rect x="75.12" y="66.90" width="9.63" height="2.05" fill="#b8d5e8"/>
<rect x="75.12" y="68.90" width="9.63" height="1.05" fill="#a9cce3"/>
<rect x="75.12" y="69.90" width="9.63" height="1.55" fill="#aecfe5"/>
<rect x="75.12" y="71.40" width="9.63" height="2.05" fill="#ebecec"/>
<rect x="75.12" y="73.40" width="9.63" height="1.55" fill="#a6c9e2"/>
<rect x="75.12" y="74.90" width="9.63" height="1.05" fill="#bdd8ea"/>
<rect x="75.12" y="75.90" width="9.63" height="1.05" fill="#b0d0e5"/>
<rect x="75.12" y="76.90" width="9.63" height="2.05" fill="#accde4"/>
<rect x="75.12" y="78.90" width="9.63" height="2.05" fill="#86b6d7"/>
<rect x="75.12" y="80.90" width="9.63" height="3.05" fill="#bbd7e9"/>
<rect x="75.12" y="83.90" width="9.63" height="3.05" fill="#9bc3de"/>
<rect x="75.12" y="86.90" width="9.63" height="1.05" fill="#b9d6e8"/>
<rect x="75.12" y="87.90" width="9.63" height="1.05" fill="#98c1dd"/>
<rect x="75.12" y="88.90" width="9.63" height="1.55" fill="#98c1dd"/>
<rect x="75.12" y="90.40" width="9.63" height="1.55" fill="#a9cbe3"/>
<rect x="75.12" y="91.90" width="9.63" height="1.05" fill="#a0c6e0"/>
<rect x="75.12" y="92.90" width="9.63" height="1.05" fill="#9ac2de"/>
<rect x="75.12" y="93.90" width="9.63" height="2.05" fill="#b7d5e8"/>
<rect x="75.12" y="95.90" width="9.63" height="1.05" fill="#71a8d0"/>
<rect x="75.12" y="96.90" width="9.63" height="3.05" fill="#9fc6e0"/>
<rect x="75.12" y="99.90" width="9.63" height="2.05" fill="#efaf9b"/>
<rect x="75.12" y="101.90" width="9.63" height="2.05" fill="#f4c3af"/>
<rect x="75.12" y="103.90" width="9.63" height="1.05" fill="#f1b7a3"/>
<rect x="75.12" y="104.90" width="9.63" height="1.05" fill="#f2bda9"/>
<rect x="75.12" y="105.90" width="9.63" height="1.05" fill="#f1b9a5"/>
<rect x="75.12" y="106.90" width="9.63" height="1.05" fill="#eca591"/>
<rect x="75.12" y="107.90" width="9.63" height="2.05" fill="#f1b6a2"/>
<rect x="75.12" y="109.90" width="9.63" height="2.05" fill="#f4c4b0"/>
<rect x="75.12" y="111.90" width="9.63" height="2.05" fill="#f3bfab"/>
<rect x="75.12" y="113.90" width="9.63" height="3.05" fill="#efaf9b"/>
<rect x="75.12" y="116.90" width="9.63" height="1.05" fill="#e7917d"/>
<rect x="75.12" y="117.90" width="9.63" height="1.55" fill="#eead99"/>
<rect x="75.12" y="119.40" width="9.63" height="1.55" fill="#efb19d"/>
<rect x="75.12" y="120.90" width="9.63" height="1.05" fill="#f4c2ae"/>
<rect x="75.12" y="121.90" width="9.63" height="1.05" fill="#eca490"/>
<rect x="75.12" y="122.90" width="9.63" height="1.05" fill="#f4c2ae"/>
<rect x="75.12" y="123.90" width="9.63" height="1.05" fill="#eda894"/>
<rect x="75.12" y="124.90" width="9.63" height="1.05" fill="#f4c2ae"/>
<rect x="75.12" y="125.90" width="9.63" height="3.05" fill="#eca38f"/>
<rect x="75.12" y="128.90" width="9.63" height="1.55" fill="#f7d3c0"/>
<rect x="75.12" y="130.40" width="9.63" height="2.05" fill="#e68e7a"/>
<rect x="75.12" y="132.40" width="9.63" height="2.05" fill="#e68c78"/>
<rect x="75.12" y="134.40" width="9.63" height="1.05" fill="#eca38f"/>
<rect x="75.12" y="135.40" width="9.63" height="1.05" fill="#f3c0ac"/>
<rect x="75.12" y="136.40" width="9.63" height="1.05" fill="#edaa96"/>
<rect x="75.12" y="137.40" width="9.63" height="1.55" fill="#f0b5a1"/>
<rect x="75.12" y="138.90" width="9.63" height="1.05" fill="#f0b6a2"/>
<rect x="75.12" y="139.90" width="9.63" height="3.05" fill="#f6ccb8"/>
<rect x="75.12" y="142.90" width="9.63" height="1.55" fill="#eeae9a"/>
<rect x="75.12" y="144.40" width="9.63" height="1.05" fill="#f6cdb9"/>
<rect x="75.12" y="145.40" width="9.63" height="3.05" fill="#f0b5a1"/>
<rect x="75.12" y="148.40" width="9.63" height="1.05" fill="#f1b9a5"/>
<rect x="75.12" y="149.40" width="9.63" height="1.05" fill="#eda894"/>
<rect x="75.12" y="150.40" width="9.63" height="3.05" fill="#ea9e8a"/>
<rect x="75.12" y="153.40" width="9.63" height="1.05" fill="#eb9f8b"/>
<rect x="75.12" y="154.40" width="9.63" height="2.05" fill="#da6a5e"/>
<rect x="75.12" y="156.40" width="9.63" height="2.05" fill="#e4836f"/>
<rect x="75.12" y="158.40" width="9.63" height="2.05" fill="#f2bba7"/>
<rect x="75.12" y="160.40" width="9.63" height="1.05" fill="#efb29e"/>
<rect x="75.12" y="161.40" width="9.63" height="1.55" fill="#f3c0ac"/>
<rect x="75.12" y="162.90" width="9.63" height="2.05" fill="#f2bba7"/>
<rect x="75.12" y="164.90" width="9.63" height="2.05" fill="#e89581"/>
<rect x="75.12" y="166.90" width="9.63" height="2.05" fill="#e78f7b"/>
<rect x="75.12" y="168.90" width="9.63" height="1.05" fill="#f0b4a0"/>
<rect x="75.12" y="169.90" width="9.63" height="1.05" fill="#f2bca8"/>
<rect x="75.12" y="170.90" width="9.63" height="3.05" fill="#e48571"/>
<rect x="75.12" y="173.90" width="9.63" height="2.05" fill="#e78f7b"/>
<rect x="75.12" y="175.90" width="9.63" height="1.05" fill="#efb09c"/>
<rect x="75.12" y="176.90" width="9.63" height="1.05" fill="#f5c8b4"/>
<rect x="75.12" y="177.90" width="9.63" height="1.05" fill="#f4c3af"/>
<rect x="75.12" y="178.90" width="9.63" height="1.05" fill="#ea9b87"/>
<rect x="75.12" y="179.90" width="9.63" height="2.05" fill="#ea9e8a"/>
<rect x="75.12" y="181.90" width="9.63" height="2.05" fill="#eca591"/>
<rect x="75.12" y="183.90" width="9.63" height="1.55" fill="#eeab97"/>
<rect x="75.12" y="185.40" width="9.63" height="2.05" fill="#eda793"/>
<rect x="75.12" y="187.40" width="9.63" height="2.05" fill="#e7907c"/>
<rect x="75.12" y="189.40" width="9.63" height="1.05" fill="#eeab97"/>
<rect x="75.12" y="190.40" width="9.63" height="1.55" fill="#e4836f"/>
<rect x="75.12" y="191.90" width="9.63" height="1.05" fill="#e58975"/>
<rect x="75.12" y="192.90" width="9.63" height="3.05" fill="#eda692"/>
<rect x="75.12" y="195.90" width="9.63" height="3.05" fill="#e99783"/>
<rect x="75.12" y="198.90" width="9.63" height="2.05" fill="#e99884"/>
<rect x="75.12" y="200.90" width="9.63" height="2.05" fill="#edaa96"/>
<rect x="75.12" y="202.90" width="9.63" height="2.05" fill="#f7d3c1"/>
<rect x="75.12" y="204.90" width="9.63" height="3.05" fill="#f4e5dc"/>
<rect x="75.12" y="207.90" width="9.63" height="2.05" fill="#f4e2d8"/>
<rect x="75.12" y="209.90" width="9.63" height="1.55" fill="#e1e8eb"/>
<rect x="75.12" y="211.40" width="9.63" height="1.05" fill="#d4e2eb"/>
<rect x="75.12" y="212.40" width="9.63" height="1.05" fill="#f5dccf"/>
<rect x="75.12" y="213.40" width="9.63" height="2.05" fill="#d0e1eb"/>
<rect x="75.12" y="215.40" width="9.63" height="1.05" fill="#b9d6e8"/>
<rect x="75.12" y="216.40" width="9.63" height="3.05" fill="#d8e4eb"/>
<rect x="75.12" y="219.40" width="9.63" height="1.05" fill="#adcee4"/>
<rect x="75.12" y="220.40" width="9.63" height="1.45" fill="#e8ebec"/>
<rect x="84.70" y="21.90" width="9.63" height="1.05" fill="#cbdfeb"/>
<rect x="84.70" y="22.90" width="9.63" height="1.05" fill="#c2daea"/>
<rect x="84.70" y="23.90" width="9.63" height="1.55" fill="#9bc3de"/>
<rect x="84.70" y="25.40" width="9.63" height="1.05" fill="#c7ddea"/>
<rect x="84.70" y="26.40" width="9.63" height="2.05" fill="#bcd8e9"/>
<rect x="84.70" y="28.40" width="9.63" height="2.05" fill="#cfe0eb"/>
<rect x="84.70" y="30.40" width="9.63" height="3.05" fill="#9dc4df"/>
<rect x="84.70" y="33.40" width="9.63" height="1.05" fill="#a8cbe3"/>
<rect x="84.70" y="34.40" width="9.63" height="2.05" fill="#cee0eb"/>
<rect x="84.70" y="36.40" width="9.63" height="1.05" fill="#a9cce3"/>
<rect x="84.70" y="37.40" width="9.63" height="2.05" fill="#a7cae2"/>
<rect x="84.70" y="39.40" width="9.63" height="1.55" fill="#d7e4eb"/>
<rect x="84.70" y="40.90" width="9.63" height="1.05" fill="#bdd9ea"/>
<rect x="84.70" y="41.90" width="9.63" height="3.05" fill="#cfe0eb"/>
<rect x="84.70" y="44.90" width="9.63" height="3.05" fill="#e1e8eb"/>
<rect x="84.70" y="47.90" width="9.63" height="3.05" fill="#cbdfeb"/>
<rect x="84.70" y="50.90" width="9.63" height="1.05" fill="#bed9ea"/>
<rect x="84.70" y="51.90" width="9.63" height="2.05" fill="#e3e9eb"/>
<rect x="84.70" y="53.90" width="9.63" height="1.55" fill="#bfdaea"/>
<rect x="84.70" y="55.40" width="9.63" height="3.05" fill="#c9deea"/>
<rect x="84.70" y="58.40" width="9.63" height="3.05" fill="#c3dbea"/>
<rect x="84.70" y="61.40" width="9.63" height="2.05" fill="#689fcb"/>
<rect x="84.70" y="63.40" width="9.63" height="1.05" fill="#d3e2eb"/>
<rect x="84.70" y="64.40" width="9.63" height="1.05" fill="#c8ddea"/>
<rect x="84.70" y="65.40" width="9.63" height="3.05" fill="#abcde4"/>
<rect x="84.70" y="68.40" width="9.63" height="1.05" fill="#c6dcea"/>
<rect x="84.70" y="69.40" width="9.63" height="3.05" fill="#d9e4eb"/>
<rect x="84.70" y="72.40" width="9.63" height="1.55" fill="#b5d3e7"/>
<rect x="84.70" y="73.90" width="9.63" height="1.05" fill="#c3dbea"/>
<rect x="84.70" y="74.90" width="9.63" height="2.05" fill="#bed9ea"/>
<rect x="84.70" y="76.90" width="9.63" height="3.05" fill="#d8e4eb"/>
<rect x="84.70" y="79.90" width="9.63" height="1.05" fill="#c4dcea"/>
<rect x="84.70" y="80.90" width="9.63" height="3.05" fill="#e8ebec"/>
<rect x="84.70" y="83.90" width="9.63" height="2.05" fill="#bcd8e9"/>
<rect x="84.70" y="85.90" width="9.63" height="1.05" fill="#c5dcea"/>
<rect x="84.70" y="86.90" width="9.63" height="2.05" fill="#bdd9ea"/>
<rect x="84.70" y="88.90" width="9.63" height="3.05" fill="#bfd9ea"/>
<rect x="84.70" y="91.90" width="9.63" height="1.55" fill="#b7d5e8"/>
<rect x="84.70" y="93.40" width="9.63" height="1.05" fill="#bdd8ea"/>
<rect x="84.70" y="94.40" width="9.63" height="1.55" fill="#c6ddea"/>
<rect x="84.70" y="95.90" width="9.63" height="1.05" fill="#f3e7e0"/>
<rect x="84.70" y="96.90" width="9.63" height="1.05" fill="#f6d4c2"/>
<rect x="84.70" y="97.90" width="9.63" height="1.05" fill="#e6eaec"/>
<rect x="84.70" y="98.90" width="9.63" height="1.55" fill="#f3c1ad"/>
<rect x="84.70" y="100.40" width="9.63" height="1.05" fill="#f5c7b3"/>
<rect x="84.70" y="101.40" width="9.63" height="2.05" fill="#f4e0d5"/>
<rect x="84.70" y="103.40" width="9.63" height="1.05" fill="#f6d8c9"/>
<rect x="84.70" y="104.40" width="9.63" height="2.05" fill="#f6cdb9"/>
<rect x="84.70" y="106.40" width="9.63" height="1.05" fill="#f5dbcd"/>
<rect x="84.70" y="107.40" width="9.63" height="2.05" fill="#f6d4c2"/>
<rect x="84.70" y="109.40" width="9.63" height="1.05" fill="#f1efec"/>
<rect x="84.70" y="110.40" width="9.63" height="2.05" fill="#e6eaec"/>
<rect x="84.70" y="112.40" width="9.63" height="3.05" fill="#f4e5dd"/>
<rect x="84.70" y="115.40" width="9.63" height="1.55" fill="#e68c78"/>
<rect x="84.70" y="116.90" width="9.63" height="1.05" fill="#f2bda9"/>
<rect x="84.70" y="117.90" width="9.63" height="1.05" fill="#f5ded2"/>
<rect x="84.70" y="118.90" width="9.63" height="1.55" fill="#f5dbcd"/>
<rect x="84.70" y="120.40" width="9.63" height="1.05" fill="#f5ddd0"/>
<rect x="84.70" y="121.40" width="9.63" height="1.55" fill="#f7ceba"/>
<rect x="84.70" y="122.90" width="9.63" height="1.05" fill="#efb09c"/>
<rect x="84.70" y="123.90" width="9.63" height="1.05" fill="#f4e0d5"/>
<rect x="84.70" y="124.90" width="9.63" height="1.05" fill="#f7ceba"/>
<rect x="84.70" y="125.90" width="9.63" height="3.05" fill="#f6d8c9"/>
<rect x="84.70" y="128.90" width="9.63" height="2.05" fill="#f6cdb9"/>
<rect x="84.70" y="130.90" width="9.63" height="1.55" fill="#f5c9b5"/>
<rect x="84.70" y="132.40" width="9.63" height="2.05" fill="#eba28e"/>
<rect x="84.70" y="134.40" width="9.63" height="1.05" fill="#f3bfab"/>
<rect x="84.70" y="135.40" width="9.63" height="2.05" fill="#f5dbcd"/>
<rect x="84.70" y="137.40" width="9.63" height="1.05" fill="#f6cdb9"/>
<rect x="84.70" y="138.40" width="9.63" height="2.05" fill="#f5c9b5"/>
<rect x="84.70" y="140.40" width="9.63" height="1.55" fill="#f5dccf"/>
<rect x="84.70" y="141.90" width="9.63" height="1.05" fill="#f2beaa"/>
<rect x="84.70" y="142.90" width="9.63" height="3.05" fill="#f6d3c1"/>
<rect x="84.70" y="145.90" width="9.63" height="1.55" fill="#f5c9b5"/>
<rect x="84.70" y="147.40" width="9.63" height="1.05" fill="#f6ccb8"/>
<rect x="84.70" y="148.40" width="9.63" height="1.05" fill="#f4e1d7"/>
<rect x="84.70" y="149.40" width="9.63" height="2.05" fill="#f4e2d8"/>
<rect x="84.70" y="151.40" width="9.63" height="1.05" fill="#f3bfab"/>
<rect x="84.70" y="152.40" width="9.63" height="1.55" fill="#f3c1ad"/>
<rect x="84.70" y="153.90" width="9.63" height="1.05" fill="#f7d1be"/>
<rect x="84.70" y="154.90" width="9.63" height="1.05" fill="#f6d9ca"/>
<rect x="84.70" y="155.90" width="9.63" height="2.05" fill="#f4c5b1"/>
<rect x="84.70" y="157.90" width="9.63" height="1.05" fill="#f5ded1"/>
<rect x="84.70" y="158.90" width="9.63" height="3.05" fill="#f7cfbb"/>
<rect x="84.70" y="161.90" width="9.63" height="1.55" fill="#f3eae5"/>
<rect x="84.70" y="163.40" width="9.63" height="1.05" fill="#f7d1be"/>
<rect x="84.70" y="164.40" width="9.63" height="1.05" fill="#efae9a"/>
<rect x="84.70" y="165.40" width="9.63" height="2.05" fill="#eb9e8a"/>
<rect x="84.70" y="167.40" width="9.63" height="1.05" fill="#e27c6a"/>
<rect x="84.70" y="168.40" width="9.63" height="1.05" fill="#f1b6a2"/>
<rect x="84.70" y="169.40" width="9.63" height="2.05" fill="#eead99"/>
<rect x="84.70" y="171.40" width="9.63" height="1.05" fill="#f2bba7"/>
<rect x="84.70" y="172.40" width="9.63" height="1.05" fill="#eda793"/>
<rect x="84.70" y="173.40" width="9.63" height="1.05" fill="#f1b9a5"/>
<rect x="84.70" y="174.40" width="9.63" height="1.05" fill="#f0b5a1"/>
<rect x="84.70" y="175.40" width="9.63" height="1.55" fill="#dd7163"/>
<rect x="84.70" y="176.90" width="9.63" height="1.55" fill="#e48470"/>
<rect x="84.70" y="178.40" width="9.63" height="1.05" fill="#eeab97"/>
<rect x="84.70" y="179.40" width="9.63" height="2.05" fill="#e7907c"/>
<rect x="84.70" y="181.40" width="9.63" height="1.05" fill="#efb19d"/>
<rect x="84.70" y="182.40" width="9.63" height="3.05" fill="#e27d6a"/>
<rect x="84.70" y="185.40" width="9.63" height="2.05" fill="#ea9b87"/>
<rect x="84.70" y="187.40" width="9.63" height="1.05" fill="#eda692"/>
<rect x="84.70" y="188.40" width="9.63" height="1.05" fill="#f5c9b5"/>
<rect x="84.70" y="189.40" width="9.63" height="3.05" fill="#f2bba7"/>
<rect x="84.70" y="192.40" width="9.63" height="3.05" fill="#e37f6c"/>
<rect x="84.70" y="195.40" width="9.63" height="2.05" fill="#f2baa6"/>
<rect x="84.70" y="197.40" width="9.63" height="2.05" fill="#ea9b87"/>
<rect x="84.70" y="199.40" width="9.63" height="1.05" fill="#e68a76"/>
<rect x="84.70" y="200.40" width="9.63" height="1.05" fill="#eba08c"/>
<rect x="84.70" y="201.40" width="9.63" height="2.05" fill="#e99985"/>
<rect x="84.70" y="203.40" width="9.63" height="2.05" fill="#eba28e"/>
<rect x="84.70" y="205.40" width="9.63" height="1.05" fill="#e07a68"/>
<rect x="84.70" y="206.40" width="9.63" height="2.05" fill="#e99884"/>
<rect x="84.70" y="208.40" width="9.63" height="1.55" fill="#dd7263"/>
<rect x="84.70" y="209.90" width="9.63" height="1.05" fill="#e27d6a"/>
<rect x="84.70" y="210.90" width="9.63" height="1.55" fill="#f1baa6"/>
<rect x="84.70" y="212.40" width="9.63" height="1.05" fill="#f4e3d9"/>
<rect x="84.70" y="213.40" width="9.63" height="1.05" fill="#f2ece8"/>
<rect x="84.70" y="214.40" width="9.63" height="2.05" fill="#f3e6de"/>
<rect x="84.70" y="216.40" width="9.63" height="2.05" fill="#d8655b"/>
<rect x="84.70" y="218.40" width="9.63" height="2.05" fill="#f2eeea"/>
<rect x="84.70" y="220.40" width="9.63" height="1.45" fill="#f6d6c6"/>
<rect x="96.20" y="21.90" width="9.58" height="1.05" fill="#f6d6c5"/>
<rect x="96.20" y="22.90" width="9.58" height="1.05" fill="#f5c9b5"/>
<rect x="96.20" y="23.90" width="9.58" height="2.05" fill="#f4e3d9"/>
<rect x="96.20" y="25.90" width="9.58" height="1.05" fill="#c1daea"/>
<rect x="96.20" y="26.90" width="9.58" height="2.05" fill="#f5c7b3"/>
<rect x="96.20" y="28.90" width="9.58" height="3.05" fill="#f3c0ac"/>
<rect x="96.20" y="31.90" width="9.58" height="2.05" fill="#f7d1bd"/>
<rect x="96.20" y="33.90" width="9.58" height="1.05" fill="#f5ded2"/>
<rect x="96.20" y="34.90" width="9.58" height="2.05" fill="#f4e2d8"/>
<rect x="96.20" y="36.90" width="9.58" height="1.55" fill="#f4e5dc"/>
<rect x="96.20" y="38.40" width="9.58" height="1.55" fill="#f3ebe5"/>
<rect x="96.20" y="39.90" width="9.58" height="1.05" fill="#f2eeea"/>
<rect x="96.20" y="40.90" width="9.58" height="2.05" fill="#f4e5dc"/>
<rect x="96.20" y="42.90" width="9.58" height="2.05" fill="#e9ebec"/>
<rect x="96.20" y="44.90" width="9.58" height="1.05" fill="#f4e5dc"/>
<rect x="96.20" y="45.90" width="9.58" height="1.05" fill="#e9ebec"/>
<rect x="96.20" y="46.90" width="9.58" height="1.05" fill="#f6d5c4"/>
<rect x="96.20" y="47.90" width="9.58" height="1.05" fill="#f6d5c4"/>
<rect x="96.20" y="48.90" width="9.58" height="2.05" fill="#f6d6c5"/>
<rect x="96.20" y="50.90" width="9.58" height="1.05" fill="#f3ebe5"/>
<rect x="96.20" y="51.90" width="9.58" height="1.05" fill="#f5dccf"/>
<rect x="96.20" y="52.90" width="9.58" height="1.05" fill="#f6d4c2"/>
<rect x="96.20" y="53.90" width="9.58" height="2.05" fill="#f4e5dd"/>
<rect x="96.20" y="55.90" width="9.58" height="2.05" fill="#f4e1d7"/>
<rect x="96.20" y="57.90" width="9.58" height="1.05" fill="#f6d4c3"/>
<rect x="96.20" y="58.90" width="9.58" height="1.05" fill="#f3e8e1"/>
<rect x="96.20" y="59.90" width="9.58" height="1.05" fill="#f4e2d7"/>
<rect x="96.20" y="60.90" width="9.58" height="1.55" fill="#f5ded1"/>
<rect x="96.20" y="62.40" width="9.58" height="1.05" fill="#f4e1d6"/>
<rect x="96.20" y="63.40" width="9.58" height="1.55" fill="#f6d5c4"/>
<rect x="96.20" y="64.90" width="9.58" height="1.05" fill="#f4e1d6"/>
<rect x="96.20" y="65.90" width="9.58" height="1.05" fill="#f4e3d9"/>
<rect x="96.20" y="66.90" width="9.58" height="1.05" fill="#f6d7c7"/>
<rect x="96.20" y="67.90" width="9.58" height="3.05" fill="#f7d2c0"/>
<rect x="96.20" y="70.90" width="9.58" height="1.05" fill="#f5ddd0"/>
<rect x="96.20" y="71.90" width="9.58" height="1.05" fill="#eeedec"/>
<rect x="96.20" y="72.90" width="9.58" height="3.05" fill="#f4e1d6"/>
<rect x="96.20" y="75.90" width="9.58" height="1.05" fill="#f5dcce"/>
<rect x="96.20" y="76.90" width="9.58" height="1.55" fill="#f3ebe6"/>
<rect x="96.20" y="78.40" width="9.58" height="1.05" fill="#f3e6de"/>
<rect x="96.20" y="79.40" width="9.58" height="1.05" fill="#f4e5dd"/>
<rect x="96.20" y="80.40" width="9.58" height="2.05" fill="#f5dacc"/>
<rect x="96.20" y="82.40" width="9.58" height="1.55" fill="#f4e0d4"/>
<rect x="96.20" y="83.90" width="9.58" height="2.05" fill="#f0eeec"/>
<rect x="96.20" y="85.90" width="9.58" height="3.05" fill="#d7e3eb"/>
<rect x="96.20" y="88.90" width="9.58" height="1.55" fill="#f3e9e3"/>
<rect x="96.20" y="90.40" width="9.58" height="2.05" fill="#e4e9eb"/>
<rect x="96.20" y="92.40" width="9.58" height="3.05" fill="#f3e6de"/>
<rect x="96.20" y="95.40" width="9.58" height="1.55" fill="#d9e5eb"/>
<rect x="96.20" y="96.90" width="9.58" height="2.05" fill="#e0e8eb"/>
<rect x="96.20" y="98.90" width="9.58" height="1.55" fill="#f3e6de"/>
<rect x="96.20" y="100.40" width="9.58" height="2.05" fill="#efeeec"/>
<rect x="96.20" y="102.40" width="9.58" height="3.05" fill="#f4e5dc"/>
<rect x="96.20" y="105.40" width="9.58" height="1.55" fill="#f0eeec"/>
<rect x="96.20" y="106.90" width="9.58" height="1.05" fill="#f3e8e1"/>
<rect x="96.20" y="107.90" width="9.58" height="1.55" fill="#f2eeea"/>
<rect x="96.20" y="109.40" width="9.58" height="1.05" fill="#f2ece8"/>
<rect x="96.20" y="110.40" width="9.58" height="2.05" fill="#f5ddd1"/>
<rect x="96.20" y="112.40" width="9.58" height="1.55" fill="#d7e3eb"/>
<rect x="96.20" y="113.90" width="9.58" height="1.05" fill="#f4e3d9"/>
<rect x="96.20" y="114.90" width="9.58" height="1.05" fill="#f3e9e3"/>
<rect x="96.20" y="115.90" width="9.58" height="3.05" fill="#f1efec"/>
<rect x="96.20" y="118.90" width="9.58" height="3.05" fill="#f5ded1"/>
<rect x="96.20" y="121.90" width="9.58" height="2.05" fill="#f5dcce"/>
<rect x="96.20" y="123.90" width="9.58" height="2.05" fill="#e2e8eb"/>
<rect x="96.20" y="125.90" width="9.58" height="2.05" fill="#f6d7c7"/>
<rect x="96.20" y="127.90" width="9.58" height="1.55" fill="#eeedec"/>
<rect x="96.20" y="129.40" width="9.58" height="2.05" fill="#f2ede8"/>
<rect x="96.20" y="131.40" width="9.58" height="1.05" fill="#f3e9e2"/>
<rect x="96.20" y="132.40" width="9.58" height="2.05" fill="#e6eaec"/>
<rect x="96.20" y="134.40" width="9.58" height="2.05" fill="#dfe7eb"/>
<rect x="96.20" y="136.40" width="9.58" height="1.05" fill="#f3eae4"/>
<rect x="96.20" y="137.40" width="9.58" height="1.05" fill="#f4e2d7"/>
<rect x="96.20" y="138.40" width="9.58" height="1.05" fill="#e6eaec"/>
<rect x="96.20" y="139.40" width="9.58" height="1.05" fill="#dfe7eb"/>
<rect x="96.20" y="140.40" width="9.58" height="1.55" fill="#cee0eb"/>
<rect x="96.20" y="141.90" width="9.58" height="2.05" fill="#e5eaec"/>
<rect x="96.20" y="143.90" width="9.58" height="1.05" fill="#f3e8e2"/>
<rect x="96.20" y="144.90" width="9.58" height="1.05" fill="#dbe5eb"/>
<rect x="96.20" y="145.90" width="9.58" height="2.05" fill="#dae5eb"/>
<rect x="96.20" y="147.90" width="9.58" height="1.05" fill="#c8ddea"/>
<rect x="96.20" y="148.90" width="9.58" height="2.05" fill="#cee0eb"/>
<rect x="96.20" y="150.90" width="9.58" height="3.05" fill="#cee0eb"/>
<rect x="96.20" y="153.90" width="9.58" height="1.05" fill="#cadeea"/>
<rect x="96.20" y="154.90" width="9.58" height="2.05" fill="#c5dcea"/>
<rect x="96.20" y="156.90" width="9.58" height="3.05" fill="#c3dbea"/>
<rect x="96.20" y="159.90" width="9.58" height="2.05" fill="#bfd9ea"/>
<rect x="96.20" y="161.90" width="9.58" height="2.05" fill="#d6e3eb"/>
<rect x="96.20" y="163.90" width="9.58" height="1.05" fill="#eeab97"/>
<rect x="96.20" y="164.90" width="9.58" height="1.55" fill="#e1e8eb"/>
<rect x="96.20" y="166.40" width="9.58" height="2.05" fill="#afcfe5"/>
<rect x="96.20" y="168.40" width="9.58" height="2.05" fill="#dbe5eb"/>
<rect x="96.20" y="170.40" width="9.58" height="1.05" fill="#d6e3eb"/>
<rect x="96.20" y="171.40" width="9.58" height="1.05" fill="#d8e4eb"/>
<rect x="96.20" y="172.40" width="9.58" height="1.05" fill="#e8ebec"/>
<rect x="96.20" y="173.40" width="9.58" height="1.05" fill="#a9cbe3"/>
<rect x="96.20" y="174.40" width="9.58" height="1.55" fill="#dae5eb"/>
<rect x="96.20" y="175.90" width="9.58" height="3.05" fill="#d0e1eb"/>
<rect x="96.20" y="178.90" width="9.58" height="1.55" fill="#dae5eb"/>
<rect x="96.20" y="180.40" width="9.58" height="1.05" fill="#d3e2eb"/>
<rect x="96.20" y="181.40" width="9.58" height="3.05" fill="#d0e1eb"/>
<rect x="96.20" y="184.40" width="9.58" height="1.55" fill="#d1e1eb"/>
<rect x="96.20" y="185.90" width="9.58" height="2.05" fill="#cee0eb"/>
<rect x="96.20" y="187.90" width="9.58" height="1.05" fill="#f1efec"/>
<rect x="96.20" y="188.90" width="9.58" height="1.55" fill="#c5dcea"/>
<rect x="96.20" y="190.40" width="9.58" height="1.55" fill="#bad7e9"/>
<rect x="96.20" y="191.90" width="9.58" height="1.55" fill="#f0eeec"/>
<rect x="96.20" y="193.40" width="9.58" height="1.05" fill="#d4e2eb"/>
<rect x="96.20" y="194.40" width="9.58" height="1.05" fill="#f1eeec"/>
<rect x="96.20" y="195.40" width="9.58" height="1.05" fill="#d1e1eb"/>
<rect x="96.20" y="196.40" width="9.58" height="2.05" fill="#d9e4eb"/>
<rect x="96.20" y="198.40" width="9.58" height="1.05" fill="#c4dcea"/>
<rect x="96.20" y="199.40" width="9.58" height="1.05" fill="#c0daea"/>
<rect x="96.20" y="200.40" width="9.58" height="1.05" fill="#cadeea"/>
<rect x="96.20" y="201.40" width="9.58" height="1.05" fill="#cee0eb"/>
<rect x="96.20" y="202.40" width="9.58" height="1.05" fill="#d3e2eb"/>
<rect x="96.20" y="203.40" width="9.58" height="1.05" fill="#d6e3eb"/>
<rect x="96.20" y="204.40" width="9.58" height="2.05" fill="#e2e8eb"/>
<rect x="96.20" y="206.40" width="9.58" height="3.05" fill="#d2e2eb"/>
<rect x="96.20" y="209.40" width="9.58" height="1.05" fill="#c3dbea"/>
<rect x="96.20" y="210.40" width="9.58" height="1.55" fill="#c0daea"/>
<rect x="96.20" y="211.90" width="9.58" height="1.55" fill="#bfdaea"/>
<rect x="96.20" y="213.40" width="9.58" height="1.05" fill="#dee7eb"/>
<rect x="96.20" y="214.40" width="9.58" height="1.05" fill="#bbd7e9"/>
<rect x="96.20" y="215.40" width="9.58" height="1.55" fill="#c2dbea"/>
<rect x="96.20" y="216.90" width="9.58" height="2.05" fill="#c7ddea"/>
<rect x="96.20" y="218.90" width="9.58" height="1.05" fill="#d5e3eb"/>
<rect x="96.20" y="219.90" width="9.58" height="2.05" fill="#c9deea"/>
<rect x="96.20" y="221.90" width="9.58" height="2.05" fill="#d1e1eb"/>
<rect x="96.20" y="223.90" width="9.58" height="2.05" fill="#bfd9ea"/>
<rect x="96.20" y="225.90" width="9.58" height="1.05" fill="#cadeea"/>
<rect x="96.20" y="226.90" width="9.58" height="3.05" fill="#d3e2eb"/>
<rect x="96.20" y="229.90" width="9.58" height="1.05" fill="#cbdeea"/>
<rect x="96.20" y="230.90" width="9.58" height="1.05" fill="#c8ddea"/>
<rect x="96.20" y="231.90" width="9.58" height="3.05" fill="#cddfeb"/>
<rect x="96.20" y="234.90" width="9.58" height="1.05" fill="#d5e3eb"/>
<rect x="96.20" y="235.90" width="9.58" height="3.05" fill="#ccdfeb"/>
<rect x="96.20" y="238.90" width="9.58" height="1.55" fill="#c2dbea"/>
<rect x="96.20" y="240.40" width="9.58" height="2.05" fill="#d5e3eb"/>
<rect x="96.20" y="242.40" width="9.58" height="1.05" fill="#c8ddea"/>
<rect x="96.20" y="243.40" width="9.58" height="3.05" fill="#c7ddea"/>
<rect x="96.20" y="246.40" width="9.58" height="2.05" fill="#f3e9e2"/>
<rect x="96.20" y="248.40" width="9.58" height="1.55" fill="#f4e1d6"/>
<rect x="96.20" y="249.90" width="9.58" height="2.05" fill="#f6cbb7"/>
<rect x="96.20" y="251.90" width="9.58" height="1.05" fill="#f7d1bd"/>
<rect x="96.20" y="252.90" width="9.58" height="2.05" fill="#f7d3c0"/>
<rect x="96.20" y="254.90" width="9.58" height="1.55" fill="#f5dbce"/>
<rect x="96.20" y="256.40" width="9.58" height="1.05" fill="#f4e0d4"/>
<rect x="96.20" y="257.40" width="9.58" height="2.05" fill="#f6d9ca"/>
<rect x="96.20" y="259.40" width="9.58" height="1.05" fill="#f5dfd3"/>
<rect x="96.20" y="260.40" width="9.58" height="1.05" fill="#f2efec"/>
<rect x="96.20" y="261.40" width="9.58" height="1.55" fill="#f3e8e1"/>
<rect x="96.20" y="262.90" width="9.58" height="2.05" fill="#f4e1d7"/>
<rect x="96.20" y="264.90" width="9.58" height="3.05" fill="#f4e1d6"/>
<rect x="96.20" y="267.90" width="9.58" height="1.05" fill="#f5c8b4"/>
<rect x="96.20" y="268.90" width="9.58" height="1.05" fill="#f6d9ca"/>
<rect x="96.20" y="269.90" width="9.58" height="1.05" fill="#f7d2bf"/>
<rect x="96.20" y="270.90" width="9.58" height="2.05" fill="#f6d7c8"/>
<rect x="96.20" y="272.90" width="9.58" height="1.55" fill="#e58a76"/>
<rect x="96.20" y="274.40" width="9.58" height="1.15" fill="#e89480"/>
<rect x="105.73" y="21.90" width="9.58" height="2.05" fill="#d25651"/>
<rect x="105.73" y="23.90" width="9.58" height="1.05" fill="#d9675c"/>
<rect x="105.73" y="24.90" width="9.58" height="2.05" fill="#e8937f"/>
<rect x="105.73" y="26.90" width="9.58" height="2.05" fill="#ea9a86"/>
<rect x="105.73" y="28.90" width="9.58" height="2.05" fill="#e99985"/>
<rect x="105.73" y="30.90" width="9.58" height="3.05" fill="#c22e37"/>
<rect x="105.73" y="33.90" width="9.58" height="2.05" fill="#df7766"/>
<rect x="105.73" y="35.90" width="9.58" height="1.05" fill="#ea9c88"/>
<rect x="105.73" y="36.90" width="9.58" height="2.05" fill="#e4836f"/>
<rect x="105.73" y="38.90" width="9.58" height="1.05" fill="#de7364"/>
<rect x="105.73" y="39.90" width="9.58" height="1.55" fill="#e68a76"/>
<rect x="105.73" y="41.40" width="9.58" height="2.05" fill="#e89480"/>
<rect x="105.73" y="43.40" width="9.58" height="2.05" fill="#ea9b87"/>
<rect x="105.73" y="45.40" width="9.58" height="2.05" fill="#f6d6c5"/>
<rect x="105.73" y="47.40" width="9.58" height="1.05" fill="#e89480"/>
<rect x="105.73" y="48.40" width="9.58" height="2.05" fill="#e89480"/>
<rect x="105.73" y="50.40" width="9.58" height="3.05" fill="#e78f7b"/>
<rect x="105.73" y="53.40" width="9.58" height="1.55" fill="#eda793"/>
<rect x="105.73" y="54.90" width="9.58" height="2.05" fill="#f1b7a3"/>
<rect x="105.73" y="56.90" width="9.58" height="3.05" fill="#eca38f"/>
<rect x="105.73" y="59.90" width="9.58" height="1.05" fill="#f3c0ac"/>
<rect x="105.73" y="60.90" width="9.58" height="1.05" fill="#eda793"/>
<rect x="105.73" y="61.90" width="9.58" height="1.05" fill="#efb09c"/>
<rect x="105.73" y="62.90" width="9.58" height="1.05" fill="#f4c2ae"/>
<rect x="105.73" y="63.90" width="9.58" height="2.05" fill="#efb29e"/>
<rect x="105.73" y="65.90" width="9.58" height="1.05" fill="#ea9c88"/>
<rect x="105.73" y="66.90" width="9.58" height="3.05" fill="#f7d1bd"/>
<rect x="105.73" y="69.90" width="9.58" height="2.05" fill="#eca490"/>
<rect x="105.73" y="71.90" width="9.58" height="1.05" fill="#f7cfbb"/>
<rect x="105.73" y="72.90" width="9.58" height="3.05" fill="#f6d4c2"/>
<rect x="105.73" y="75.90" width="9.58" height="1.05" fill="#efaf9b"/>
<rect x="105.73" y="76.90" width="9.58" height="2.05" fill="#eb9f8b"/>
<rect x="105.73" y="78.90" width="9.58" height="2.05" fill="#f0b39f"/>
<rect x="105.73" y="80.90" width="9.58" height="2.05" fill="#e7917d"/>
<rect x="105.73" y="82.90" width="9.58" height="1.05" fill="#f7d3c1"/>
<rect x="105.73" y="83.90" width="9.58" height="2.05" fill="#f6d5c4"/>
<rect x="105.73" y="85.90" width="9.58" height="1.05" fill="#efb19d"/>
<rect x="105.73" y="86.90" width="9.58" height="3.05" fill="#f0b5a1"/>
<rect x="105.73" y="89.90" width="9.58" height="2.05" fill="#e58874"/>
<rect x="105.73" y="91.90" width="9.58" height="1.05" fill="#eda692"/>
<rect x="105.73" y="92.90" width="9.58" height="3.05" fill="#ea9a86"/>
<rect x="105.73" y="95.90" width="9.58" height="1.05" fill="#ea9d89"/>
<rect x="105.73" y="96.90" width="9.58" height="3.05" fill="#eca490"/>
<rect x="105.73" y="99.90" width="9.58" height="1.55" fill="#df7565"/>
<rect x="105.73" y="101.40" width="9.58" height="1.55" fill="#f6cab6"/>
<rect x="105.73" y="102.90" width="9.58" height="1.05" fill="#f4c4b0"/>
<rect x="105.73" y="103.90" width="9.58" height="1.05" fill="#f2bda9"/>
<rect x="105.73" y="104.90" width="9.58" height="1.55" fill="#f1b9a5"/>
<rect x="105.73" y="106.40" width="9.58" height="3.05" fill="#f2bba7"/>
<rect x="105.73" y="109.40" width="9.58" height="1.05" fill="#d45a54"/>
<rect x="105.73" y="110.40" width="9.58" height="2.05" fill="#e68d79"/>
<rect x="105.73" y="112.40" width="9.58" height="1.05" fill="#f6cbb7"/>
<rect x="105.73" y="113.40" width="9.58" height="1.05" fill="#f4c2ae"/>
<rect x="105.73" y="114.40" width="9.58" height="1.55" fill="#e07867"/>
<rect x="105.73" y="115.90" width="9.58" height="2.05" fill="#eeac98"/>
<rect x="105.73" y="117.90" width="9.58" height="1.05" fill="#e17a68"/>
<rect x="105.73" y="118.90" width="9.58" height="2.05" fill="#eda793"/>
<rect x="105.73" y="120.90" width="9.58" height="1.05" fill="#f4c5b1"/>
<rect x="105.73" y="121.90" width="9.58" height="2.05" fill="#efb09c"/>
<rect x="105.73" y="123.90" width="9.58" height="3.05" fill="#e99a86"/>
<rect x="105.73" y="126.90" width="9.58" height="1.05" fill="#e8937f"/>
<rect x="105.73" y="127.90" width="9.58" height="1.05" fill="#eeac98"/>
<rect x="105.73" y="128.90" width="9.58" height="2.05" fill="#f3beaa"/>
<rect x="105.73" y="130.90" width="9.58" height="1.05" fill="#f6ccb8"/>
<rect x="105.73" y="131.90" width="9.58" height="1.05" fill="#eca490"/>
<rect x="105.73" y="132.90" width="9.58" height="2.05" fill="#e99884"/>
<rect x="105.73" y="134.90" width="9.58" height="1.55" fill="#eca591"/>
<rect x="105.73" y="136.40" width="9.58" height="1.05" fill="#f0b5a1"/>
<rect x="105.73" y="137.40" width="9.58" height="1.55" fill="#f2bda9"/>
<rect x="105.73" y="138.90" width="9.58" height="1.05" fill="#f3bfab"/>
<rect x="105.73" y="139.90" width="9.58" height="1.05" fill="#f0b29e"/>
<rect x="105.73" y="140.90" width="9.58" height="1.05" fill="#f0b4a0"/>
<rect x="105.73" y="141.90" width="9.58" height="1.05" fill="#eeac98"/>
<rect x="105.73" y="142.90" width="9.58" height="1.05" fill="#f2bba7"/>
<rect x="105.73" y="143.90" width="9.58" height="2.05" fill="#eeac98"/>
<rect x="105.73" y="145.90" width="9.58" height="2.05" fill="#f0b39f"/>
<rect x="105.73" y="147.90" width="9.58" height="2.05" fill="#eead99"/>
<rect x="105.73" y="149.90" width="9.58" height="3.05" fill="#efb09c"/>
<rect x="105.73" y="152.90" width="9.58" height="3.05" fill="#eca38f"/>
<rect x="105.73" y="155.90" width="9.58" height="2.05" fill="#efb19d"/>
<rect x="105.73" y="157.90" width="9.58" height="2.05" fill="#f7d1bd"/>
<rect x="105.73" y="159.90" width="9.58" height="1.55" fill="#ea9c88"/>
<rect x="105.73" y="161.40" width="9.58" height="1.05" fill="#f3beaa"/>
<rect x="105.73" y="162.40" width="9.58" height="3.05" fill="#d0e1eb"/>
<rect x="105.73" y="165.40" width="9.58" height="1.55" fill="#ccdfeb"/>
<rect x="105.73" y="166.90" width="9.58" height="1.05" fill="#dce6eb"/>
<rect x="105.73" y="167.90" width="9.58" height="1.55" fill="#cadeea"/>
<rect x="105.73" y="169.40" width="9.58" height="2.05" fill="#dbe5eb"/>
<rect x="105.73" y="171.40" width="9.58" height="3.05" fill="#dee7eb"/>
<rect x="105.73" y="174.40" width="9.58" height="1.05" fill="#e0e7eb"/>
<rect x="105.73" y="175.40" width="9.58" height="2.05" fill="#adcee4"/>
<rect x="105.73" y="177.40" width="9.58" height="3.05" fill="#c5dcea"/>
<rect x="105.73" y="180.40" width="9.58" height="1.05" fill="#a0c6e0"/>
<rect x="105.73" y="181.40" width="9.58" height="2.05" fill="#c0daea"/>
<rect x="105.73" y="183.40" width="9.58" height="1.05" fill="#89b7d8"/>
<rect x="105.73" y="184.40" width="9.58" height="1.05" fill="#d4e2eb"/>
<rect x="105.73" y="185.40" width="9.58" height="1.05" fill="#e4e9eb"/>
<rect x="105.73" y="186.40" width="9.58" height="1.05" fill="#bcd8e9"/>
<rect x="105.73" y="187.40" width="9.58" height="1.55" fill="#f2eeea"/>
<rect x="105.73" y="188.90" width="9.58" height="3.05" fill="#f4e1d6"/>
<rect x="105.73" y="191.90" width="9.58" height="1.05" fill="#d6e3eb"/>
<rect x="105.73" y="192.90" width="9.58" height="1.05" fill="#d4e2eb"/>
<rect x="105.73" y="193.90" width="9.58" height="2.05" fill="#abcde4"/>
<rect x="105.73" y="195.90" width="9.58" height="2.05" fill="#dfe7eb"/>
<rect x="105.73" y="197.90" width="9.58" height="1.55" fill="#adcee4"/>
<rect x="105.73" y="199.40" width="9.58" height="2.05" fill="#cbdfeb"/>
<rect x="105.73" y="201.40" width="9.58" height="1.05" fill="#c5dcea"/>
<rect x="105.73" y="202.40" width="9.58" height="3.05" fill="#bfd9ea"/>
<rect x="105.73" y="205.40" width="9.58" height="2.05" fill="#b0d0e5"/>
<rect x="105.73" y="207.40" width="9.58" height="3.05" fill="#cfe0eb"/>
<rect x="105.73" y="210.40" width="9.58" height="1.05" fill="#d3e2eb"/>
<rect x="105.73" y="211.40" width="9.58" height="1.05" fill="#adcee4"/>
<rect x="105.73" y="212.40" width="9.58" height="1.05" fill="#85b4d7"/>
<rect x="105.73" y="213.40" width="9.58" height="1.05" fill="#cee0eb"/>
<rect x="105.73" y="214.40" width="9.58" height="1.55" fill="#a1c7e0"/>
<rect x="105.73" y="215.90" width="9.58" height="1.05" fill="#bdd8ea"/>
<rect x="105.73" y="216.90" width="9.58" height="1.05" fill="#3d6fb0"/>
<rect x="105.73" y="217.90" width="9.58" height="1.05" fill="#cfe0eb"/>
<rect x="105.73" y="218.90" width="9.58" height="2.05" fill="#bcd8e9"/>
<rect x="105.73" y="220.90" width="9.58" height="2.05" fill="#b4d3e7"/>
<rect x="105.73" y="222.90" width="9.58" height="1.05" fill="#aacce3"/>
<rect x="105.73" y="223.90" width="9.58" height="2.05" fill="#578cc0"/>
<rect x="105.73" y="225.90" width="9.58" height="3.05" fill="#b6d4e7"/>
<rect x="105.73" y="228.90" width="9.58" height="1.55" fill="#aecfe5"/>
<rect x="105.73" y="230.40" width="9.58" height="1.05" fill="#abcde4"/>
<rect x="105.73" y="231.40" width="9.58" height="1.05" fill="#dee7eb"/>
<rect x="105.73" y="232.40" width="9.58" height="1.05" fill="#9bc3de"/>
<rect x="105.73" y="233.40" width="9.58" height="1.05" fill="#c2dbea"/>
<rect x="105.73" y="234.40" width="9.58" height="1.05" fill="#a8cbe3"/>
<rect x="105.73" y="235.40" width="9.58" height="2.05" fill="#bed9ea"/>
<rect x="105.73" y="237.40" width="9.58" height="1.05" fill="#c6ddea"/>
<rect x="105.73" y="238.40" width="9.58" height="3.05" fill="#aecfe5"/>
<rect x="105.73" y="241.40" width="9.58" height="1.05" fill="#c5dcea"/>
<rect x="105.73" y="242.40" width="9.58" height="1.05" fill="#c5dcea"/>
<rect x="105.73" y="243.40" width="9.58" height="1.55" fill="#c5dcea"/>
<rect x="105.73" y="244.90" width="9.58" height="1.55" fill="#b3d2e6"/>
<rect x="105.73" y="246.40" width="9.58" height="1.05" fill="#bdd8ea"/>
<rect x="105.73" y="247.40" width="9.58" height="2.05" fill="#b7d5e8"/>
<rect x="105.73" y="249.40" width="9.58" height="1.05" fill="#dce6eb"/>
<rect x="105.73" y="250.40" width="9.58" height="1.05" fill="#bdd8ea"/>
<rect x="105.73" y="251.40" width="9.58" height="2.05" fill="#c0daea"/>
<rect x="105.73" y="253.40" width="9.58" height="1.55" fill="#abcde4"/>
<rect x="105.73" y="254.90" width="9.58" height="3.05" fill="#d9e5eb"/>
<rect x="105.73" y="257.90" width="9.58" height="3.05" fill="#90bcdb"/>
<rect x="105.73" y="260.90" width="9.58" height="1.05" fill="#c7ddea"/>
<rect x="105.73" y="261.90" width="9.58" height="3.05" fill="#cadeea"/>
<rect x="105.73" y="264.90" width="9.58" height="1.05" fill="#4376b4"/>
<rect x="105.73" y="265.90" width="9.58" height="1.05" fill="#cee0eb"/>
<rect x="105.73" y="266.90" width="9.58" height="2.05" fill="#dae5eb"/>
<rect x="105.73" y="268.90" width="9.58" height="1.05" fill="#bed9ea"/>
<rect x="105.73" y="269.90" width="9.58" height="2.05" fill="#bfdaea"/>
<rect x="105.73" y="271.90" width="9.58" height="1.05" fill="#d0e1eb"/>
<rect x="105.73" y="272.90" width="9.58" height="1.05" fill="#c4dbea"/>
<rect x="105.73" y="273.90" width="9.58" height="1.05" fill="#c7ddea"/>
<rect x="105.73" y="274.90" width="9.58" height="0.65" fill="#d1e1eb"/>
<rect x="115.26" y="21.90" width="9.58" height="2.05" fill="#d0e0eb"/>
<rect x="115.26" y="23.90" width="9.58" height="1.55" fill="#f3e9e3"/>
<rect x="115.26" y="25.40" width="9.58" height="3.05" fill="#f2eeeb"/>
<rect x="115.26" y="28.40" width="9.58" height="2.05" fill="#dae5eb"/>
<rect x="115.26" y="30.40" width="9.58" height="1.05" fill="#f5ddd0"/>
<rect x="115.26" y="31.40" width="9.58" height="2.05" fill="#f2efec"/>
<rect x="115.26" y="33.40" width="9.58" height="2.05" fill="#eeedec"/>
<rect x="115.26" y="35.40" width="9.58" height="1.05" fill="#f3e9e3"/>
<rect x="115.26" y="36.40" width="9.58" height="2.05" fill="#f3e9e2"/>
<rect x="115.26" y="38.40" width="9.58" height="1.05" fill="#f4e0d5"/>
<rect x="115.26" y="39.40" width="9.58" height="2.05" fill="#f7d3c0"/>
<rect x="115.26" y="41.40" width="9.58" height="2.05" fill="#f3c1ad"/>
<rect x="115.26" y="43.40" width="9.58" height="1.05" fill="#efb09c"/>
<rect x="115.26" y="44.40" width="9.58" height="1.05" fill="#dfe7eb"/>
<rect x="115.26" y="45.40" width="9.58" height="2.05" fill="#f4e0d5"/>
<rect x="115.26" y="47.40" width="9.58" height="1.55" fill="#f3c2ae"/>
<rect x="115.26" y="48.90" width="9.58" height="1.05" fill="#efeeec"/>
<rect x="115.26" y="49.90" width="9.58" height="1.05" fill="#f5ddd1"/>
<rect x="115.26" y="50.90" width="9.58" height="1.05" fill="#f4e4da"/>
<rect x="115.26" y="51.90" width="9.58" height="2.05" fill="#f3e8e1"/>
<rect x="115.26" y="53.90" width="9.58" height="3.05" fill="#efaf9b"/>
<rect x="115.26" y="56.90" width="9.58" height="1.05" fill="#f5ddd0"/>
<rect x="115.26" y="57.90" width="9.58" height="2.05" fill="#f6d5c4"/>
<rect x="115.26" y="59.90" width="9.58" height="2.05" fill="#f3c0ac"/>
<rect x="115.26" y="61.90" width="9.58" height="1.05" fill="#f3c0ac"/>
<rect x="115.26" y="62.90" width="9.58" height="3.05" fill="#f4e5dd"/>
<rect x="115.26" y="65.90" width="9.58" height="1.05" fill="#f4e3da"/>
<rect x="115.26" y="66.90" width="9.58" height="3.05" fill="#f6cab6"/>
<rect x="115.26" y="69.90" width="9.58" height="2.05" fill="#f2bca8"/>
<rect x="115.26" y="71.90" width="9.58" height="1.05" fill="#f4e5dd"/>
<rect x="115.26" y="72.90" width="9.58" height="1.05" fill="#f6cab6"/>
<rect x="115.26" y="73.90" width="9.58" height="2.05" fill="#f7d0bc"/>
<rect x="115.26" y="75.90" width="9.58" height="2.05" fill="#f2baa6"/>
<rect x="115.26" y="77.90" width="9.58" height="1.55" fill="#f5c7b3"/>
<rect x="115.26" y="79.40" width="9.58" height="1.55" fill="#eb9f8b"/>
<rect x="115.26" y="80.90" width="9.58" height="1.05" fill="#f7cfbb"/>
<rect x="115.26" y="81.90" width="9.58" height="1.05" fill="#f7d1bd"/>
<rect x="115.26" y="82.90" width="9.58" height="3.05" fill="#f7d1bd"/>
<rect x="115.26" y="85.90" width="9.58" height="1.55" fill="#f1b7a3"/>
<rect x="115.26" y="87.40" width="9.58" height="2.05" fill="#f1b9a5"/>
<rect x="115.26" y="89.40" width="9.58" height="3.05" fill="#f6d5c3"/>
<rect x="115.26" y="92.40" width="9.58" height="3.05" fill="#f0b29e"/>
<rect x="115.26" y="95.40" width="9.58" height="1.05" fill="#efb09c"/>
<rect x="115.26" y="96.40" width="9.58" height="1.05" fill="#eeac98"/>
<rect x="115.26" y="97.40" width="9.58" height="1.55" fill="#eba08c"/>
<rect x="115.26" y="98.90" width="9.58" height="1.05" fill="#f0b39f"/>
<rect x="115.26" y="99.90" width="9.58" height="1.05" fill="#f0b39f"/>
<rect x="115.26" y="100.90" width="9.58" height="1.55" fill="#f6d4c2"/>
<rect x="115.26" y="102.40" width="9.58" height="1.05" fill="#f7d1bd"/>
<rect x="115.26" y="103.40" width="9.58" height="1.05" fill="#f5dacc"/>
<rect x="115.26" y="104.40" width="9.58" height="1.05" fill="#eda894"/>
<rect x="115.26" y="105.40" width="9.58" height="1.05" fill="#eb9f8b"/>
<rect x="115.26" y="106.40" width="9.58" height="1.55" fill="#eead99"/>
<rect x="115.26" y="107.90" width="9.58" height="2.05" fill="#f0b4a0"/>
<rect x="115.26" y="109.90" width="9.58" height="1.05" fill="#f1baa6"/>
<rect x="115.26" y="110.90" width="9.58" height="3.05" fill="#f3c1ad"/>
<rect x="115.26" y="113.90" width="9.58" height="1.05" fill="#eca38f"/>
<rect x="115.26" y="114.90" width="9.58" height="1.55" fill="#f1b9a5"/>
<rect x="115.26" y="116.40" width="9.58" height="2.05" fill="#dd7263"/>
<rect x="115.26" y="118.40" width="9.58" height="1.05" fill="#f1b6a2"/>
<rect x="115.26" y="119.40" width="9.58" height="1.55" fill="#eeae9a"/>
<rect x="115.26" y="120.90" width="9.58" height="1.05" fill="#eba28e"/>
<rect x="115.26" y="121.90" width="9.58" height="2.05" fill="#eda995"/>
<rect x="115.26" y="123.90" width="9.58" height="2.05" fill="#eeae9a"/>
<rect x="115.26" y="125.90" width="9.58" height="1.05" fill="#e48470"/>
<rect x="115.26" y="126.90" width="9.58" height="3.05" fill="#d9675c"/>
<rect x="115.26" y="129.90" width="9.58" height="1.05" fill="#eda793"/>
<rect x="115.26" y="130.90" width="9.58" height="1.05" fill="#e27e6b"/>
<rect x="115.26" y="131.90" width="9.58" height="2.05" fill="#dd7062"/>
<rect x="115.26" y="133.90" width="9.58" height="1.05" fill="#f5c8b4"/>
<rect x="115.26" y="134.90" width="9.58" height="2.05" fill="#f2beaa"/>
<rect x="115.26" y="136.90" width="9.58" height="1.05" fill="#f1b6a2"/>
<rect x="115.26" y="137.90" width="9.58" height="2.05" fill="#f6d6c5"/>
<rect x="115.26" y="139.90" width="9.58" height="1.55" fill="#eda793"/>
<rect x="115.26" y="141.40" width="9.58" height="1.55" fill="#e48470"/>
<rect x="115.26" y="142.90" width="9.58" height="1.55" fill="#e68a76"/>
<rect x="115.26" y="144.40" width="9.58" height="1.05" fill="#f7cfbb"/>
<rect x="115.26" y="145.40" width="9.58" height="1.05" fill="#eeaa96"/>
<rect x="115.26" y="146.40" width="9.58" height="3.05" fill="#f4c2ae"/>
<rect x="115.26" y="149.40" width="9.58" height="1.05" fill="#d66158"/>
<rect x="115.26" y="150.40" width="9.58" height="2.05" fill="#df7666"/>
<rect x="115.26" y="152.40" width="9.58" height="2.05" fill="#e7907c"/>
<rect x="115.26" y="154.40" width="9.58" height="2.05" fill="#c02a35"/>
<rect x="115.26" y="156.40" width="9.58" height="2.05" fill="#eead99"/>
<rect x="115.26" y="158.40" width="9.58" height="2.05" fill="#f0b39f"/>
<rect x="115.26" y="160.40" width="9.58" height="1.05" fill="#e58874"/>
<rect x="115.26" y="161.40" width="9.58" height="1.05" fill="#f4c4b0"/>
<rect x="115.26" y="162.40" width="9.58" height="1.55" fill="#e58874"/>
<rect x="115.26" y="163.90" width="9.58" height="3.05" fill="#eb9f8b"/>
<rect x="115.26" y="166.90" width="9.58" height="2.05" fill="#f3ebe5"/>
<rect x="115.26" y="168.90" width="9.58" height="3.05" fill="#dbe5eb"/>
<rect x="115.26" y="171.90" width="9.58" height="3.05" fill="#d8e4eb"/>
<rect x="115.26" y="174.90" width="9.58" height="1.55" fill="#f2ece8"/>
<rect x="115.26" y="176.40" width="9.58" height="1.05" fill="#f4e0d5"/>
<rect x="115.26" y="177.40" width="9.58" height="1.05" fill="#f3e8e2"/>
<rect x="115.26" y="178.40" width="9.58" height="3.05" fill="#e2e8eb"/>
<rect x="115.26" y="181.40" width="9.58" height="2.05" fill="#f4e4db"/>
<rect x="115.26" y="183.40" width="9.58" height="2.05" fill="#f5ddd0"/>
<rect x="115.26" y="185.40" width="9.58" height="1.05" fill="#b6d4e7"/>
<rect x="115.26" y="186.40" width="9.58" height="1.05" fill="#d2e2eb"/>
<rect x="115.26" y="187.40" width="9.58" height="1.05" fill="#9ec4df"/>
<rect x="115.26" y="188.40" width="9.58" height="1.55" fill="#d0e0eb"/>
<rect x="115.26" y="189.90" width="9.58" height="2.05" fill="#ccdfeb"/>
<rect x="115.26" y="191.90" width="9.58" height="2.05" fill="#d1e1eb"/>
<rect x="115.26" y="193.90" width="9.58" height="2.05" fill="#ccdfeb"/>
<rect x="115.26" y="195.90" width="9.58" height="2.05" fill="#99c2de"/>
<rect x="115.26" y="197.90" width="9.58" height="1.05" fill="#ececec"/>
<rect x="115.26" y="198.90" width="9.58" height="2.05" fill="#d1e1eb"/>
<rect x="115.26" y="200.90" width="9.58" height="1.05" fill="#99c2de"/>
<rect x="115.26" y="201.90" width="9.58" height="2.05" fill="#bfd9ea"/>
<rect x="115.26" y="203.90" width="9.58" height="2.05" fill="#c2dbea"/>
<rect x="115.26" y="205.90" width="9.58" height="2.05" fill="#d9e4eb"/>
<rect x="115.26" y="207.90" width="9.58" height="1.05" fill="#c3dbea"/>
<rect x="115.26" y="208.90" width="9.58" height="2.05" fill="#d0e1eb"/>
<rect x="115.26" y="210.90" width="9.58" height="3.05" fill="#cbdeea"/>
<rect x="115.26" y="213.90" width="9.58" height="1.05" fill="#c8ddea"/>
<rect x="115.26" y="214.90" width="9.58" height="1.05" fill="#dae5eb"/>
<rect x="115.26" y="215.90" width="9.58" height="1.05" fill="#b3d2e6"/>
<rect x="115.26" y="216.90" width="9.58" height="1.05" fill="#d4e2eb"/>
<rect x="115.26" y="217.90" width="9.58" height="1.05" fill="#c0daea"/>
<rect x="115.26" y="218.90" width="9.58" height="1.55" fill="#c8ddea"/>
<rect x="115.26" y="220.40" width="9.58" height="3.05" fill="#bbd7e9"/>
<rect x="115.26" y="223.40" width="9.58" height="1.05" fill="#cde0eb"/>
<rect x="115.26" y="224.40" width="9.58" height="1.05" fill="#c8ddea"/>
<rect x="115.26" y="225.40" width="9.58" height="1.55" fill="#b2d1e6"/>
<rect x="115.26" y="226.90" width="9.58" height="2.05" fill="#cee0eb"/>
<rect x="115.26" y="228.90" width="9.58" height="1.05" fill="#d4e2eb"/>
<rect x="115.26" y="229.90" width="9.58" height="2.05" fill="#d0e1eb"/>
<rect x="115.26" y="231.90" width="9.58" height="1.55" fill="#cde0eb"/>
<rect x="115.26" y="233.40" width="9.58" height="1.55" fill="#c3dbea"/>
<rect x="115.26" y="234.90" width="9.58" height="2.05" fill="#c3dbea"/>
<rect x="115.26" y="236.90" width="9.58" height="1.05" fill="#c1daea"/>
<rect x="115.26" y="237.90" width="9.58" height="1.05" fill="#cfe0eb"/>
<rect x="115.26" y="238.90" width="9.58" height="1.55" fill="#bdd8ea"/>
<rect x="115.26" y="240.40" width="9.58" height="1.05" fill="#dee7eb"/>
<rect x="115.26" y="241.40" width="9.58" height="1.05" fill="#d4e2eb"/>
<rect x="115.26" y="242.40" width="9.58" height="1.05" fill="#cadeea"/>
<rect x="115.26" y="243.40" width="9.58" height="3.05" fill="#b8d5e8"/>
<rect x="115.26" y="246.40" width="9.58" height="2.05" fill="#accee4"/>
<rect x="115.26" y="248.40" width="9.58" height="2.05" fill="#dfe7eb"/>
<rect x="115.26" y="250.40" width="9.58" height="2.05" fill="#ececec"/>
<rect x="115.26" y="252.40" width="9.58" height="2.05" fill="#ccdfeb"/>
<rect x="115.26" y="254.40" width="9.58" height="1.05" fill="#cfe0eb"/>
<rect x="115.26" y="255.40" width="9.58" height="2.05" fill="#c1daea"/>
<rect x="115.26" y="257.40" width="9.58" height="1.05" fill="#d0e1eb"/>
<rect x="115.26" y="258.40" width="9.58" height="1.05" fill="#aacce3"/>
<rect x="115.26" y="259.40" width="9.58" height="1.05" fill="#bcd8e9"/>
<rect x="115.26" y="260.40" width="9.58" height="1.05" fill="#d7e4eb"/>
<rect x="115.26" y="261.40" width="9.58" height="1.05" fill="#a4c9e1"/>
<rect x="115.26" y="262.40" width="9.58" height="1.05" fill="#d6e3eb"/>
<rect x="115.26" y="263.40" width="9.58" height="1.55" fill="#cadeea"/>
<rect x="115.26" y="264.90" width="9.58" height="2.05" fill="#b1d1e6"/>
<rect x="115.26" y="266.90" width="9.58" height="1.05" fill="#bad6e9"/>
<rect x="115.26" y="267.90" width="9.58" height="2.05" fill="#bed9ea"/>
<rect x="115.26" y="269.90" width="9.58" height="2.05" fill="#c1daea"/>
<rect x="115.26" y="271.90" width="9.58" height="2.05" fill="#c5dcea"/>
<rect x="115.26" y="273.90" width="9.58" height="1.55" fill="#bfdaea"/>
<rect x="115.26" y="275.40" width="9.58" height="0.15" fill="#cee0eb"/>
<rect x="124.79" y="21.90" width="9.58" height="1.55" fill="#eeedec"/>
<rect x="124.79" y="23.40" width="9.58" height="1.55" fill="#c6ddea"/>
<rect x="124.79" y="24.90" width="9.58" height="3.05" fill="#cee0eb"/>
<rect x="124.79" y="27.90" width="9.58" height="1.05" fill="#d9e5eb"/>
<rect x="124.79" y="28.90" width="9.58" height="1.55" fill="#dde6eb"/>
<rect x="124.79" y="30.40" width="9.58" height="2.05" fill="#9cc3df"/>
<rect x="124.79" y="32.40" width="9.58" height="2.05" fill="#b5d3e7"/>
<rect x="124.79" y="34.40" width="9.58" height="2.05" fill="#c0daea"/>
<rect x="124.79" y="36.40" width="9.58" height="1.05" fill="#cee0eb"/>
<rect x="124.79" y="37.40" width="9.58" height="2.05" fill="#c5dcea"/>
<rect x="124.79" y="39.40" width="9.58" height="3.05" fill="#cadeea"/>
<rect x="124.79" y="42.40" width="9.58" height="1.05" fill="#a6cae2"/>
<rect x="124.79" y="43.40" width="9.58" height="1.55" fill="#f5ded2"/>
<rect x="124.79" y="44.90" width="9.58" height="1.05" fill="#f6d7c6"/>
<rect x="124.79" y="45.90" width="9.58" height="1.05" fill="#e6eaec"/>
<rect x="124.79" y="46.90" width="9.58" height="1.05" fill="#f4e5dc"/>
<rect x="124.79" y="47.90" width="9.58" height="2.05" fill="#e0e7eb"/>
<rect x="124.79" y="49.90" width="9.58" height="1.05" fill="#f3e8e2"/>
<rect x="124.79" y="50.90" width="9.58" height="1.05" fill="#f5dfd3"/>
<rect x="124.79" y="51.90" width="9.58" height="3.05" fill="#f3e9e3"/>
<rect x="124.79" y="54.90" width="9.58" height="1.05" fill="#f3ece7"/>
<rect x="124.79" y="55.90" width="9.58" height="2.05" fill="#f3e9e3"/>
<rect x="124.79" y="57.90" width="9.58" height="1.05" fill="#f6d8c8"/>
<rect x="124.79" y="58.90" width="9.58" height="2.05" fill="#f4e2d8"/>
<rect x="124.79" y="60.90" width="9.58" height="1.05" fill="#f5ded1"/>
<rect x="124.79" y="61.90" width="9.58" height="1.05" fill="#f3e9e3"/>
<rect x="124.79" y="62.90" width="9.58" height="2.05" fill="#f3ebe6"/>
<rect x="124.79" y="64.90" width="9.58" height="1.05" fill="#f3e8e0"/>
<rect x="124.79" y="65.90" width="9.58" height="1.05" fill="#f4e6dd"/>
<rect x="124.79" y="66.90" width="9.58" height="1.05" fill="#f5ddd0"/>
<rect x="124.79" y="67.90" width="9.58" height="1.05" fill="#f1efec"/>
<rect x="124.79" y="68.90" width="9.58" height="1.55" fill="#f3e8e2"/>
<rect x="124.79" y="70.40" width="9.58" height="1.05" fill="#f7d1be"/>
<rect x="124.79" y="71.40" width="9.58" height="1.05" fill="#f6d9ca"/>
<rect x="124.79" y="72.40" width="9.58" height="1.05" fill="#f4e3d9"/>
<rect x="124.79" y="73.40" width="9.58" height="1.05" fill="#f3e7e0"/>
<rect x="124.79" y="74.40" width="9.58" height="1.55" fill="#f3e8e2"/>
<rect x="124.79" y="75.90" width="9.58" height="1.05" fill="#f3e6de"/>
<rect x="124.79" y="76.90" width="9.58" height="1.05" fill="#f3ece7"/>
<rect x="124.79" y="77.90" width="9.58" height="2.05" fill="#f3eae4"/>
<rect x="124.79" y="79.90" width="9.58" height="3.05" fill="#f3e7e0"/>
<rect x="124.79" y="82.90" width="9.58" height="1.55" fill="#f3e8e1"/>
<rect x="124.79" y="84.40" width="9.58" height="1.05" fill="#f4e5dd"/>
<rect x="124.79" y="85.40" width="9.58" height="2.05" fill="#f5ddd0"/>
<rect x="124.79" y="87.40" width="9.58" height="1.05" fill="#f5dccf"/>
<rect x="124.79" y="88.40" width="9.58" height="2.05" fill="#f4e3d9"/>
<rect x="124.79" y="90.40" width="9.58" height="1.05" fill="#c5dcea"/>
<rect x="124.79" y="91.40" width="9.58" height="1.05" fill="#e9ebec"/>
<rect x="124.79" y="92.40" width="9.58" height="1.05" fill="#f4e0d5"/>
<rect x="124.79" y="93.40" width="9.58" height="1.05" fill="#f4e1d7"/>
<rect x="124.79" y="94.40" width="9.58" height="1.05" fill="#f3e9e3"/>
<rect x="124.79" y="95.40" width="9.58" height="1.05" fill="#f5dfd3"/>
<rect x="124.79" y="96.40" width="9.58" height="1.05" fill="#f5ded2"/>
<rect x="124.79" y="97.40" width="9.58" height="1.05" fill="#f3e8e1"/>
<rect x="124.79" y="98.40" width="9.58" height="2.05" fill="#f5ded1"/>
<rect x="124.79" y="100.40" width="9.58" height="1.05" fill="#f2eeea"/>
<rect x="124.79" y="101.40" width="9.58" height="1.05" fill="#e5e9eb"/>
<rect x="124.79" y="102.40" width="9.58" height="2.05" fill="#f4e4dc"/>
<rect x="124.79" y="104.40" width="9.58" height="1.05" fill="#f3e6de"/>
<rect x="124.79" y="105.40" width="9.58" height="1.05" fill="#f3ebe6"/>
<rect x="124.79" y="106.40" width="9.58" height="2.05" fill="#f2eeea"/>
<rect x="124.79" y="108.40" width="9.58" height="1.05" fill="#f3e7df"/>
<rect x="124.79" y="109.40" width="9.58" height="1.05" fill="#f4e4dc"/>
<rect x="124.79" y="110.40" width="9.58" height="2.05" fill="#f6d9c9"/>
<rect x="124.79" y="112.40" width="9.58" height="3.05" fill="#f4e5dd"/>
<rect x="124.79" y="115.40" width="9.58" height="1.05" fill="#f6d9c9"/>
<rect x="124.79" y="116.40" width="9.58" height="3.05" fill="#f2ece8"/>
<rect x="124.79" y="119.40" width="9.58" height="3.05" fill="#e6eaec"/>
<rect x="124.79" y="122.40" width="9.58" height="2.05" fill="#f4e4dc"/>
<rect x="124.79" y="124.40" width="9.58" height="1.55" fill="#f3e6df"/>
<rect x="124.79" y="125.90" width="9.58" height="1.05" fill="#f5dfd4"/>
<rect x="124.79" y="126.90" width="9.58" height="2.05" fill="#f4e2d8"/>
<rect x="124.79" y="128.90" width="9.58" height="3.05" fill="#f3e9e2"/>
<rect x="124.79" y="131.90" width="9.58" height="1.05" fill="#f4e1d7"/>
<rect x="124.79" y="132.90" width="9.58" height="2.05" fill="#f0b29e"/>
<rect x="124.79" y="134.90" width="9.58" height="1.55" fill="#d4e2eb"/>
<rect x="124.79" y="136.40" width="9.58" height="1.05" fill="#f3e7e0"/>
<rect x="124.79" y="137.40" width="9.58" height="2.05" fill="#f6cbb7"/>
<rect x="124.79" y="139.40" width="9.58" height="1.05" fill="#f4e5dc"/>
<rect x="124.79" y="140.40" width="9.58" height="1.05" fill="#f3eae4"/>
<rect x="124.79" y="141.40" width="9.58" height="3.05" fill="#f6d7c8"/>
<rect x="124.79" y="144.40" width="9.58" height="1.05" fill="#f3e9e2"/>
<rect x="124.79" y="145.40" width="9.58" height="2.05" fill="#f7d2bf"/>
<rect x="124.79" y="147.40" width="9.58" height="3.05" fill="#f2eeea"/>
<rect x="124.79" y="150.40" width="9.58" height="2.05" fill="#f2efeb"/>
<rect x="124.79" y="152.40" width="9.58" height="3.05" fill="#f3ebe6"/>
<rect x="124.79" y="155.40" width="9.58" height="2.05" fill="#f2ede9"/>
<rect x="124.79" y="157.40" width="9.58" height="2.05" fill="#da695d"/>
<rect x="124.79" y="159.40" width="9.58" height="3.05" fill="#eca490"/>
<rect x="124.79" y="162.40" width="9.58" height="1.05" fill="#f2bba7"/>
<rect x="124.79" y="163.40" width="9.58" height="2.05" fill="#f1baa6"/>
<rect x="124.79" y="165.40" width="9.58" height="2.05" fill="#eca38f"/>
<rect x="124.79" y="167.40" width="9.58" height="1.05" fill="#f6cab6"/>
<rect x="124.79" y="168.40" width="9.58" height="2.05" fill="#efb09c"/>
<rect x="124.79" y="170.40" width="9.58" height="1.05" fill="#f3c0ac"/>
<rect x="124.79" y="171.40" width="9.58" height="2.05" fill="#f6d7c7"/>
<rect x="124.79" y="173.40" width="9.58" height="3.05" fill="#f6d5c4"/>
<rect x="124.79" y="176.40" width="9.58" height="3.05" fill="#efaf9b"/>
<rect x="124.79" y="179.40" width="9.58" height="1.05" fill="#e3e9eb"/>
<rect x="124.79" y="180.40" width="9.58" height="3.05" fill="#e7eaec"/>
<rect x="124.79" y="183.40" width="9.58" height="1.55" fill="#d8e4eb"/>
<rect x="124.79" y="184.90" width="9.58" height="1.05" fill="#dbe5eb"/>
<rect x="124.79" y="185.90" width="9.58" height="1.55" fill="#f2eeeb"/>
<rect x="124.79" y="187.40" width="9.58" height="1.05" fill="#d3e2eb"/>
<rect x="124.79" y="188.40" width="9.58" height="1.05" fill="#e1e8eb"/>
<rect x="124.79" y="189.40" width="9.58" height="3.05" fill="#d5e3eb"/>
<rect x="124.79" y="192.40" width="9.58" height="1.05" fill="#e4e9eb"/>
<rect x="124.79" y="193.40" width="9.58" height="1.05" fill="#e2e8eb"/>
<rect x="124.79" y="194.40" width="9.58" height="1.05" fill="#f2ede9"/>
<rect x="124.79" y="195.40" width="9.58" height="3.05" fill="#e2e8eb"/>
<rect x="124.79" y="198.40" width="9.58" height="1.55" fill="#e1e8eb"/>
<rect x="124.79" y="199.90" width="9.58" height="3.05" fill="#f2eeea"/>
<rect x="124.79" y="202.90" width="9.58" height="1.05" fill="#f3e6de"/>
<rect x="124.79" y="203.90" width="9.58" height="1.05" fill="#f6d5c3"/>
<rect x="124.79" y="204.90" width="9.58" height="1.55" fill="#f4e1d6"/>
<rect x="124.79" y="206.40" width="9.58" height="2.05" fill="#e6eaec"/>
<rect x="124.79" y="208.40" width="9.58" height="2.05" fill="#f2ede9"/>
<rect x="124.79" y="210.40" width="9.58" height="3.05" fill="#d6e3eb"/>
<rect x="124.79" y="213.40" width="9.58" height="1.05" fill="#e5e9eb"/>
<rect x="124.79" y="214.40" width="9.58" height="1.05" fill="#d8e4eb"/>
<rect x="124.79" y="215.40" width="9.58" height="1.05" fill="#c6dcea"/>
<rect x="124.79" y="216.40" width="9.58" height="2.05" fill="#c1daea"/>
<rect x="124.79" y="218.40" width="9.58" height="3.05" fill="#a7cae2"/>
<rect x="124.79" y="221.40" width="9.58" height="2.05" fill="#b4d3e7"/>
<rect x="124.79" y="223.40" width="9.58" height="1.05" fill="#c7ddea"/>
<rect x="124.79" y="224.40" width="9.58" height="2.05" fill="#d3e2eb"/>
<rect x="124.79" y="226.40" width="9.58" height="2.05" fill="#d2e1eb"/>
<rect x="124.79" y="228.40" width="9.58" height="2.05" fill="#b6d4e7"/>
<rect x="124.79" y="230.40" width="9.58" height="1.55" fill="#bbd7e9"/>
<rect x="124.79" y="231.90" width="9.58" height="1.05" fill="#d5e3eb"/>
<rect x="124.79" y="232.90" width="9.58" height="1.05" fill="#d8e4eb"/>
<rect x="124.79" y="233.90" width="9.58" height="1.05" fill="#c7ddea"/>
<rect x="124.79" y="234.90" width="9.58" height="3.05" fill="#a8cbe3"/>
<rect x="124.79" y="237.90" width="9.58" height="3.05" fill="#b3d2e6"/>
<rect x="124.79" y="240.90" width="9.58" height="2.05" fill="#c2dbea"/>
<rect x="124.79" y="242.90" width="9.58" height="2.05" fill="#b9d6e8"/>
<rect x="124.79" y="244.90" width="9.58" height="1.05" fill="#b5d4e7"/>
<rect x="124.79" y="245.90" width="9.58" height="1.05" fill="#b7d4e7"/>
<rect x="124.79" y="246.90" width="9.58" height="1.05" fill="#e3e9eb"/>
<rect x="124.79" y="247.90" width="9.58" height="1.05" fill="#d0e1eb"/>
<rect x="124.79" y="248.90" width="9.58" height="1.05" fill="#c0daea"/>
<rect x="124.79" y="249.90" width="9.58" height="2.05" fill="#a6cae2"/>
<rect x="124.79" y="251.90" width="9.58" height="2.05" fill="#c4dcea"/>
<rect x="124.79" y="253.90" width="9.58" height="1.55" fill="#cadeea"/>
<rect x="124.79" y="255.40" width="9.58" height="1.05" fill="#b5d3e7"/>
<rect x="124.79" y="256.40" width="9.58" height="1.55" fill="#ccdfeb"/>
<rect x="124.79" y="257.90" width="9.58" height="1.05" fill="#d5e3eb"/>
<rect x="124.79" y="258.90" width="9.58" height="1.05" fill="#b8d5e8"/>
<rect x="124.79" y="259.90" width="9.58" height="1.05" fill="#d1e1eb"/>
<rect x="124.79" y="260.90" width="9.58" height="2.05" fill="#9ec5df"/>
<rect x="124.79" y="262.90" width="9.58" height="3.05" fill="#d1e1eb"/>
<rect x="124.79" y="265.90" width="9.58" height="1.05" fill="#d7e4eb"/>
<rect x="124.79" y="266.90" width="9.58" height="2.05" fill="#dee6eb"/>
<rect x="124.79" y="268.90" width="9.58" height="1.55" fill="#c7ddea"/>
<rect x="124.79" y="270.40" width="9.58" height="1.55" fill="#b8d5e8"/>
<rect x="124.79" y="271.90" width="9.58" height="1.05" fill="#ccdfeb"/>
<rect x="124.79" y="272.90" width="9.58" height="1.05" fill="#e6eaec"/>
<rect x="124.79" y="273.90" width="9.58" height="1.05" fill="#afd0e5"/>
<rect x="124.79" y="274.90" width="9.58" height="0.65" fill="#c6dcea"/>
<rect x="134.32" y="21.90" width="9.58" height="2.05" fill="#9dc4df"/>
<rect x="134.32" y="23.90" width="9.58" height="2.05" fill="#7fb1d5"/>
<rect x="134.32" y="25.90" width="9.58" height="1.05" fill="#73a9d1"/>
<rect x="134.32" y="26.90" width="9.58" height="1.05" fill="#669dca"/>
<rect x="134.32" y="27.90" width="9.58" height="2.05" fill="#5f95c6"/>
<rect x="134.32" y="29.90" width="9.58" height="1.55" fill="#6299c8"/>
<rect x="134.32" y="31.40" width="9.58" height="1.05" fill="#afcfe5"/>
<rect x="134.32" y="32.40" width="9.58" height="1.55" fill="#92bddb"/>
<rect x="134.32" y="33.90" width="9.58" height="3.05" fill="#74aad1"/>
<rect x="134.32" y="36.90" width="9.58" height="2.05" fill="#68a0cb"/>
<rect x="134.32" y="38.90" width="9.58" height="1.05" fill="#85b5d7"/>
<rect x="134.32" y="39.90" width="9.58" height="2.05" fill="#77acd2"/>
<rect x="134.32" y="41.90" width="9.58" height="3.05" fill="#6ea6cf"/>
<rect x="134.32" y="44.90" width="9.58" height="1.05" fill="#5f95c5"/>
<rect x="134.32" y="45.90" width="9.58" height="1.05" fill="#649ac8"/>
<rect x="134.32" y="46.90" width="9.58" height="2.05" fill="#6ea6cf"/>
<rect x="134.32" y="48.90" width="9.58" height="2.05" fill="#5489bf"/>
<rect x="134.32" y="50.90" width="9.58" height="1.05" fill="#5185bd"/>
<rect x="134.32" y="51.90" width="9.58" height="2.05" fill="#69a0cc"/>
<rect x="134.32" y="53.90" width="9.58" height="2.05" fill="#6299c8"/>
<rect x="134.32" y="55.90" width="9.58" height="2.05" fill="#70a7d0"/>
<rect x="134.32" y="57.90" width="9.58" height="1.05" fill="#649bc9"/>
<rect x="134.32" y="58.90" width="9.58" height="2.05" fill="#568bc0"/>
<rect x="134.32" y="60.90" width="9.58" height="1.05" fill="#73a9d1"/>
<rect x="134.32" y="61.90" width="9.58" height="2.05" fill="#649ac8"/>
<rect x="134.32" y="63.90" width="9.58" height="3.05" fill="#6ba3cd"/>
<rect x="134.32" y="66.90" width="9.58" height="1.05" fill="#6aa2cd"/>
<rect x="134.32" y="67.90" width="9.58" height="1.05" fill="#6ca3cd"/>
<rect x="134.32" y="68.90" width="9.58" height="1.55" fill="#7aaed3"/>
<rect x="134.32" y="70.40" width="9.58" height="1.05" fill="#7eb0d5"/>
<rect x="134.32" y="71.40" width="9.58" height="1.05" fill="#73a9d1"/>
<rect x="134.32" y="72.40" width="9.58" height="1.05" fill="#649bc9"/>
<rect x="134.32" y="73.40" width="9.58" height="1.05" fill="#7cafd4"/>
<rect x="134.32" y="74.40" width="9.58" height="2.05" fill="#669dca"/>
<rect x="134.32" y="76.40" width="9.58" height="1.05" fill="#639ac8"/>
<rect x="134.32" y="77.40" width="9.58" height="2.05" fill="#6ba2cd"/>
<rect x="134.32" y="79.40" width="9.58" height="2.05" fill="#669dca"/>
<rect x="134.32" y="81.40" width="9.58" height="1.05" fill="#7eb0d4"/>
<rect x="134.32" y="82.40" width="9.58" height="2.05" fill="#70a7d0"/>
<rect x="134.32" y="84.40" width="9.58" height="1.55" fill="#5a90c2"/>
<rect x="134.32" y="85.90" width="9.58" height="3.05" fill="#689fcb"/>
<rect x="134.32" y="88.90" width="9.58" height="1.05" fill="#76abd2"/>
<rect x="134.32" y="89.90" width="9.58" height="1.05" fill="#4e82bb"/>
<rect x="134.32" y="90.90" width="9.58" height="1.55" fill="#5e94c5"/>
<rect x="134.32" y="92.40" width="9.58" height="2.05" fill="#649ac8"/>
<rect x="134.32" y="94.40" width="9.58" height="1.05" fill="#659cc9"/>
<rect x="134.32" y="95.40" width="9.58" height="1.05" fill="#70a7d0"/>
<rect x="134.32" y="96.40" width="9.58" height="1.05" fill="#689fcb"/>
<rect x="134.32" y="97.40" width="9.58" height="1.05" fill="#5b91c3"/>
<rect x="134.32" y="98.40" width="9.58" height="2.05" fill="#6ca4ce"/>
<rect x="134.32" y="100.40" width="9.58" height="2.05" fill="#74aad1"/>
<rect x="134.32" y="102.40" width="9.58" height="1.05" fill="#69a0cc"/>
<rect x="134.32" y="103.40" width="9.58" height="2.05" fill="#4e82ba"/>
<rect x="134.32" y="105.40" width="9.58" height="1.05" fill="#75abd1"/>
<rect x="134.32" y="106.40" width="9.58" height="3.05" fill="#5d93c4"/>
<rect x="134.32" y="109.40" width="9.58" height="2.05" fill="#5b90c3"/>
<rect x="134.32" y="111.40" width="9.58" height="1.05" fill="#6096c6"/>
<rect x="134.32" y="112.40" width="9.58" height="1.05" fill="#7fb1d5"/>
<rect x="134.32" y="113.40" width="9.58" height="1.05" fill="#75abd1"/>
<rect x="134.32" y="114.40" width="9.58" height="1.55" fill="#6ba2cd"/>
<rect x="134.32" y="115.90" width="9.58" height="1.05" fill="#5f95c5"/>
<rect x="134.32" y="116.90" width="9.58" height="1.55" fill="#649bc9"/>
<rect x="134.32" y="118.40" width="9.58" height="1.05" fill="#69a1cc"/>
<rect x="134.32" y="119.40" width="9.58" height="3.05" fill="#8ab8d8"/>
<rect x="134.32" y="122.40" width="9.58" height="1.05" fill="#669dca"/>
<rect x="134.32" y="123.40" width="9.58" height="1.05" fill="#5f95c6"/>
<rect x="134.32" y="124.40" width="9.58" height="1.05" fill="#7bafd4"/>
<rect x="134.32" y="125.40" width="9.58" height="3.05" fill="#7aadd3"/>
<rect x="134.32" y="128.40" width="9.58" height="1.55" fill="#689fcb"/>
<rect x="134.32" y="129.90" width="9.58" height="3.05" fill="#639ac8"/>
<rect x="134.32" y="132.90" width="9.58" height="2.05" fill="#6ba3cd"/>
<rect x="134.32" y="134.90" width="9.58" height="1.55" fill="#87b6d8"/>
<rect x="134.32" y="136.40" width="9.58" height="1.05" fill="#6da4ce"/>
<rect x="134.32" y="137.40" width="9.58" height="1.05" fill="#6da5cf"/>
<rect x="134.32" y="138.40" width="9.58" height="3.05" fill="#7db0d4"/>
<rect x="134.32" y="141.40" width="9.58" height="2.05" fill="#5d93c4"/>
<rect x="134.32" y="143.40" width="9.58" height="1.05" fill="#75abd1"/>
<rect x="134.32" y="144.40" width="9.58" height="1.05" fill="#77abd2"/>
<rect x="134.32" y="145.40" width="9.58" height="1.05" fill="#79add3"/>
<rect x="134.32" y="146.40" width="9.58" height="2.05" fill="#659cc9"/>
<rect x="134.32" y="148.40" width="9.58" height="1.55" fill="#6aa2cd"/>
<rect x="134.32" y="149.90" width="9.58" height="3.05" fill="#5a90c3"/>
<rect x="134.32" y="152.90" width="9.58" height="1.55" fill="#5c92c4"/>
<rect x="134.32" y="154.40" width="9.58" height="2.05" fill="#578cc0"/>
<rect x="134.32" y="156.40" width="9.58" height="2.05" fill="#78add3"/>
<rect x="134.32" y="158.40" width="9.58" height="1.55" fill="#5f95c5"/>
<rect x="134.32" y="159.90" width="9.58" height="1.05" fill="#6399c8"/>
<rect x="134.32" y="160.90" width="9.58" height="1.05" fill="#568bc0"/>
<rect x="134.32" y="161.90" width="9.58" height="3.05" fill="#69a0cc"/>
<rect x="134.32" y="164.90" width="9.58" height="2.05" fill="#dbe5eb"/>
<rect x="134.32" y="166.90" width="9.58" height="3.05" fill="#e6eaec"/>
<rect x="134.32" y="169.90" width="9.58" height="1.05" fill="#f6d6c5"/>
<rect x="134.32" y="170.90" width="9.58" height="1.05" fill="#f4c3af"/>
<rect x="134.32" y="171.90" width="9.58" height="1.05" fill="#dfe7eb"/>
<rect x="134.32" y="172.90" width="9.58" height="1.05" fill="#f6d6c5"/>
<rect x="134.32" y="173.90" width="9.58" height="2.05" fill="#f6d3c1"/>
<rect x="134.32" y="175.90" width="9.58" height="2.05" fill="#d0524f"/>
<rect x="134.32" y="177.90" width="9.58" height="1.05" fill="#e3806c"/>
<rect x="134.32" y="178.90" width="9.58" height="1.05" fill="#d35a53"/>
<rect x="134.32" y="179.90" width="9.58" height="1.05" fill="#de7364"/>
<rect x="134.32" y="180.90" width="9.58" height="2.05" fill="#d76258"/>
<rect x="134.32" y="182.90" width="9.58" height="3.05" fill="#da6b5e"/>
<rect x="134.32" y="185.90" width="9.58" height="2.05" fill="#d8655a"/>
<rect x="134.32" y="187.90" width="9.58" height="2.05" fill="#d76359"/>
<rect x="134.32" y="189.90" width="9.58" height="1.05" fill="#cf504d"/>
<rect x="134.32" y="190.90" width="9.58" height="1.05" fill="#cb4546"/>
<rect x="134.32" y="191.90" width="9.58" height="2.05" fill="#d35953"/>
<rect x="134.32" y="193.90" width="9.58" height="2.05" fill="#dc6f61"/>
<rect x="134.32" y="195.90" width="9.58" height="2.05" fill="#dc6f61"/>
<rect x="134.32" y="197.90" width="9.58" height="1.05" fill="#d45a54"/>
<rect x="134.32" y="198.90" width="9.58" height="3.05" fill="#d0504d"/>
<rect x="134.32" y="201.90" width="9.58" height="1.05" fill="#d35852"/>
<rect x="134.32" y="202.90" width="9.58" height="1.05" fill="#db6c5f"/>
<rect x="134.32" y="203.90" width="9.58" height="1.05" fill="#c94144"/>
<rect x="134.32" y="204.90" width="9.58" height="2.05" fill="#d15450"/>
<rect x="134.32" y="206.90" width="9.58" height="1.05" fill="#da695d"/>
<rect x="134.32" y="207.90" width="9.58" height="2.05" fill="#d35953"/>
<rect x="134.32" y="209.90" width="9.58" height="1.05" fill="#c94043"/>
<rect x="134.32" y="210.90" width="9.58" height="1.05" fill="#d8645a"/>
<rect x="134.32" y="211.90" width="9.58" height="2.05" fill="#d45a54"/>
<rect x="134.32" y="213.90" width="9.58" height="1.55" fill="#dc6f61"/>
<rect x="134.32" y="215.40" width="9.58" height="1.05" fill="#cc4747"/>
<rect x="134.32" y="216.40" width="9.58" height="2.05" fill="#c4343b"/>
<rect x="134.32" y="218.40" width="9.58" height="3.05" fill="#d45c55"/>
<rect x="134.32" y="221.40" width="9.58" height="1.05" fill="#cd4949"/>
<rect x="134.32" y="222.40" width="9.58" height="1.05" fill="#c94043"/>
<rect x="134.32" y="223.40" width="9.58" height="3.05" fill="#d45a54"/>
<rect x="134.32" y="226.40" width="9.58" height="3.05" fill="#c73c41"/>
<rect x="134.32" y="229.40" width="9.58" height="1.05" fill="#e48470"/>
<rect x="134.32" y="230.40" width="9.58" height="2.05" fill="#d45b54"/>
<rect x="134.32" y="232.40" width="9.58" height="3.05" fill="#d8645a"/>
<rect x="134.32" y="235.40" width="9.58" height="1.05" fill="#c83f42"/>
<rect x="134.32" y="236.40" width="9.58" height="2.05" fill="#d15550"/>
<rect x="134.32" y="238.40" width="9.58" height="1.55" fill="#d1534f"/>
<rect x="134.32" y="239.90" width="9.58" height="1.05" fill="#cf504d"/>
<rect x="134.32" y="240.90" width="9.58" height="1.05" fill="#eca490"/>
<rect x="134.32" y="241.90" width="9.58" height="2.05" fill="#efb09c"/>
<rect x="134.32" y="243.90" width="9.58" height="2.05" fill="#f0b5a1"/>
<rect x="134.32" y="245.90" width="9.58" height="2.05" fill="#ea9c88"/>
<rect x="134.32" y="247.90" width="9.58" height="1.05" fill="#eba08c"/>
<rect x="134.32" y="248.90" width="9.58" height="1.55" fill="#f0b6a2"/>
<rect x="134.32" y="250.40" width="9.58" height="1.55" fill="#f6d9c9"/>
<rect x="134.32" y="251.90" width="9.58" height="1.05" fill="#f0b5a1"/>
<rect x="134.32" y="252.90" width="9.58" height="1.05" fill="#f5c8b4"/>
<rect x="134.32" y="253.90" width="9.58" height="1.05" fill="#e48571"/>
<rect x="134.32" y="254.90" width="9.58" height="2.05" fill="#f2bca8"/>
<rect x="134.32" y="256.90" width="9.58" height="2.05" fill="#f6d3c1"/>
<rect x="134.32" y="258.90" width="9.58" height="1.05" fill="#f6d9c9"/>
<rect x="134.32" y="259.90" width="9.58" height="1.05" fill="#f0b4a0"/>
<rect x="134.32" y="260.90" width="9.58" height="1.05" fill="#f4c5b1"/>
<rect x="134.32" y="261.90" width="9.58" height="1.05" fill="#f4e2d7"/>
<rect x="134.32" y="262.90" width="9.58" height="2.05" fill="#f6d9c9"/>
<rect x="134.32" y="264.90" width="9.58" height="1.05" fill="#f5dccf"/>
<rect x="134.32" y="265.90" width="9.58" height="1.05" fill="#f3ebe6"/>
<rect x="134.32" y="266.90" width="9.58" height="1.55" fill="#f3e8e1"/>
<rect x="134.32" y="268.40" width="9.58" height="1.05" fill="#f3ebe6"/>
<rect x="134.32" y="269.40" width="9.58" height="1.55" fill="#e68b77"/>
<rect x="134.32" y="270.90" width="9.58" height="3.05" fill="#f4e5dc"/>
<rect x="134.32" y="273.90" width="9.58" height="1.05" fill="#f3eae5"/>
<rect x="134.32" y="274.90" width="9.58" height="0.65" fill="#ebecec"/>
<rect x="143.85" y="21.90" width="9.58" height="1.05" fill="#d4e2eb"/>
<rect x="143.85" y="22.90" width="9.58" height="2.05" fill="#e3e9eb"/>
<rect x="143.85" y="24.90" width="9.58" height="1.05" fill="#dee7eb"/>
<rect x="143.85" y="25.90" width="9.58" height="1.05" fill="#ededec"/>
<rect x="143.85" y="26.90" width="9.58" height="1.05" fill="#e5eaec"/>
<rect x="143.85" y="27.90" width="9.58" height="1.05" fill="#f2ece7"/>
<rect x="143.85" y="28.90" width="9.58" height="1.05" fill="#efeeec"/>
<rect x="143.85" y="29.90" width="9.58" height="1.05" fill="#b8d5e8"/>
<rect x="143.85" y="30.90" width="9.58" height="3.05" fill="#dfe7eb"/>
<rect x="143.85" y="33.90" width="9.58" height="1.05" fill="#bed9ea"/>
<rect x="143.85" y="34.90" width="9.58" height="1.05" fill="#dae5eb"/>
<rect x="143.85" y="35.90" width="9.58" height="1.05" fill="#c7ddea"/>
<rect x="143.85" y="36.90" width="9.58" height="1.05" fill="#dbe5eb"/>
<rect x="143.85" y="37.90" width="9.58" height="1.05" fill="#cee0eb"/>
<rect x="143.85" y="38.90" width="9.58" height="1.55" fill="#a1c6e0"/>
<rect x="143.85" y="40.40" width="9.58" height="1.05" fill="#e2e8eb"/>
<rect x="143.85" y="41.40" width="9.58" height="1.05" fill="#d3e2eb"/>
<rect x="143.85" y="42.40" width="9.58" height="1.55" fill="#c3dbea"/>
<rect x="143.85" y="43.90" width="9.58" height="2.05" fill="#cee0eb"/>
<rect x="143.85" y="45.90" width="9.58" height="1.55" fill="#d9e4eb"/>
<rect x="143.85" y="47.40" width="9.58" height="1.05" fill="#d8e4eb"/>
<rect x="143.85" y="48.40" width="9.58" height="1.05" fill="#d0e0eb"/>
<rect x="143.85" y="49.40" width="9.58" height="1.55" fill="#cfe0eb"/>
<rect x="143.85" y="50.90" width="9.58" height="1.05" fill="#c5dcea"/>
<rect x="143.85" y="51.90" width="9.58" height="2.05" fill="#c9deea"/>
<rect x="143.85" y="53.90" width="9.58" height="2.05" fill="#e8ebec"/>
<rect x="143.85" y="55.90" width="9.58" height="1.05" fill="#bad6e9"/>
<rect x="143.85" y="56.90" width="9.58" height="2.05" fill="#cddfeb"/>
<rect x="143.85" y="58.90" width="9.58" height="3.05" fill="#c8ddea"/>
<rect x="143.85" y="61.90" width="9.58" height="1.55" fill="#d2e1eb"/>
<rect x="143.85" y="63.40" width="9.58" height="1.55" fill="#cddfeb"/>
<rect x="143.85" y="64.90" width="9.58" height="2.05" fill="#c3dbea"/>
<rect x="143.85" y="66.90" width="9.58" height="1.05" fill="#c5dcea"/>
<rect x="143.85" y="67.90" width="9.58" height="2.05" fill="#e7ebec"/>
<rect x="143.85" y="69.90" width="9.58" height="1.55" fill="#cadeea"/>
<rect x="143.85" y="71.40" width="9.58" height="3.05" fill="#dfe7eb"/>
<rect x="143.85" y="74.40" width="9.58" height="1.05" fill="#73a9d1"/>
<rect x="143.85" y="75.40" width="9.58" height="2.05" fill="#cddfeb"/>
<rect x="143.85" y="77.40" width="9.58" height="2.05" fill="#dee7eb"/>
<rect x="143.85" y="79.40" width="9.58" height="1.55" fill="#d8e4eb"/>
<rect x="143.85" y="80.90" width="9.58" height="3.05" fill="#99c1dd"/>
<rect x="143.85" y="83.90" width="9.58" height="2.05" fill="#d4e2eb"/>
<rect x="143.85" y="85.90" width="9.58" height="2.05" fill="#c5dcea"/>
<rect x="143.85" y="87.90" width="9.58" height="2.05" fill="#dde6eb"/>
<rect x="143.85" y="89.90" width="9.58" height="1.55" fill="#eaecec"/>
<rect x="143.85" y="91.40" width="9.58" height="1.05" fill="#c6dcea"/>
<rect x="143.85" y="92.40" width="9.58" height="1.05" fill="#f3ece7"/>
<rect x="143.85" y="93.40" width="9.58" height="1.55" fill="#cddfeb"/>
<rect x="143.85" y="94.90" width="9.58" height="2.05" fill="#dee6eb"/>
<rect x="143.85" y="96.90" width="9.58" height="1.05" fill="#c3dbea"/>
<rect x="143.85" y="97.90" width="9.58" height="1.05" fill="#c3dbea"/>
<rect x="143.85" y="98.90" width="9.58" height="3.05" fill="#c0daea"/>
<rect x="143.85" y="101.90" width="9.58" height="1.05" fill="#e2e8eb"/>
<rect x="143.85" y="102.90" width="9.58" height="2.05" fill="#b1d1e6"/>
<rect x="143.85" y="104.90" width="9.58" height="3.05" fill="#d2e1eb"/>
<rect x="143.85" y="107.90" width="9.58" height="1.05" fill="#c1daea"/>
<rect x="143.85" y="108.90" width="9.58" height="2.05" fill="#c3dbea"/>
<rect x="143.85" y="110.90" width="9.58" height="1.55" fill="#d3e2eb"/>
<rect x="143.85" y="112.40" width="9.58" height="1.55" fill="#d4e2eb"/>
<rect x="143.85" y="113.90" width="9.58" height="1.05" fill="#d4e2eb"/>
<rect x="143.85" y="114.90" width="9.58" height="3.05" fill="#cee0eb"/>
<rect x="143.85" y="117.90" width="9.58" height="2.05" fill="#d5e3eb"/>
<rect x="143.85" y="119.90" width="9.58" height="3.05" fill="#a6c9e2"/>
<rect x="143.85" y="122.90" width="9.58" height="3.05" fill="#dee6eb"/>
<rect x="143.85" y="125.90" width="9.58" height="2.05" fill="#c6ddea"/>
<rect x="143.85" y="127.90" width="9.58" height="1.05" fill="#f2efec"/>
<rect x="143.85" y="128.90" width="9.58" height="3.05" fill="#cde0eb"/>
<rect x="143.85" y="131.90" width="9.58" height="1.05" fill="#cddfeb"/>
<rect x="143.85" y="132.90" width="9.58" height="1.05" fill="#d7e3eb"/>
<rect x="143.85" y="133.90" width="9.58" height="3.05" fill="#bfd9ea"/>
<rect x="143.85" y="136.90" width="9.58" height="2.05" fill="#c0daea"/>
<rect x="143.85" y="138.90" width="9.58" height="1.05" fill="#b9d6e8"/>
<rect x="143.85" y="139.90" width="9.58" height="2.05" fill="#abcde4"/>
<rect x="143.85" y="141.90" width="9.58" height="2.05" fill="#bbd7e9"/>
<rect x="143.85" y="143.90" width="9.58" height="1.05" fill="#c1daea"/>
<rect x="143.85" y="144.90" width="9.58" height="3.05" fill="#c4dcea"/>
<rect x="143.85" y="147.90" width="9.58" height="1.05" fill="#c1daea"/>
<rect x="143.85" y="148.90" width="9.58" height="1.05" fill="#bed9ea"/>
<rect x="143.85" y="149.90" width="9.58" height="1.05" fill="#c9deea"/>
<rect x="143.85" y="150.90" width="9.58" height="1.05" fill="#c6dcea"/>
<rect x="143.85" y="151.90" width="9.58" height="3.05" fill="#dbe5eb"/>
<rect x="143.85" y="154.90" width="9.58" height="3.05" fill="#c2dbea"/>
<rect x="143.85" y="157.90" width="9.58" height="2.05" fill="#d9e4eb"/>
<rect x="143.85" y="159.90" width="9.58" height="1.05" fill="#bfdaea"/>
<rect x="143.85" y="160.90" width="9.58" height="1.05" fill="#d6e3eb"/>
<rect x="143.85" y="161.90" width="9.58" height="1.05" fill="#c8ddea"/>
<rect x="143.85" y="162.90" width="9.58" height="1.05" fill="#b7d4e8"/>
<rect x="143.85" y="163.90" width="9.58" height="1.55" fill="#dee6eb"/>
<rect x="143.85" y="165.40" width="9.58" height="1.05" fill="#e2e8eb"/>
<rect x="143.85" y="166.40" width="9.58" height="1.05" fill="#eeedec"/>
<rect x="143.85" y="167.40" width="9.58" height="1.55" fill="#d8e4eb"/>
<rect x="143.85" y="168.90" width="9.58" height="1.55" fill="#9ec4df"/>
<rect x="143.85" y="170.40" width="9.58" height="1.05" fill="#b4d3e7"/>
<rect x="143.85" y="171.40" width="9.58" height="3.05" fill="#c2dbea"/>
<rect x="143.85" y="174.40" width="9.58" height="1.05" fill="#cfe0eb"/>
<rect x="143.85" y="175.40" width="9.58" height="3.05" fill="#d3e2eb"/>
<rect x="143.85" y="178.40" width="9.58" height="3.05" fill="#d8e4eb"/>
<rect x="143.85" y="181.40" width="9.58" height="2.05" fill="#dce6eb"/>
<rect x="143.85" y="183.40" width="9.58" height="3.05" fill="#d8e4eb"/>
<rect x="143.85" y="186.40" width="9.58" height="3.05" fill="#f3ebe6"/>
<rect x="143.85" y="189.40" width="9.58" height="1.05" fill="#d7e4eb"/>
<rect x="143.85" y="190.40" width="9.58" height="3.05" fill="#8dbada"/>
<rect x="143.85" y="193.40" width="9.58" height="1.05" fill="#dce6eb"/>
<rect x="143.85" y="194.40" width="9.58" height="1.05" fill="#e1e8eb"/>
<rect x="143.85" y="195.40" width="9.58" height="1.05" fill="#eeedec"/>
<rect x="143.85" y="196.40" width="9.58" height="1.05" fill="#e4e9eb"/>
<rect x="143.85" y="197.40" width="9.58" height="1.05" fill="#f3e6de"/>
<rect x="143.85" y="198.40" width="9.58" height="1.05" fill="#d9e5eb"/>
<rect x="143.85" y="199.40" width="9.58" height="1.05" fill="#f2eeeb"/>
<rect x="143.85" y="200.40" width="9.58" height="2.05" fill="#e8ebec"/>
<rect x="143.85" y="202.40" width="9.58" height="1.05" fill="#dae5eb"/>
<rect x="143.85" y="203.40" width="9.58" height="1.05" fill="#f2eeeb"/>
<rect x="143.85" y="204.40" width="9.58" height="1.05" fill="#eeedec"/>
<rect x="143.85" y="205.40" width="9.58" height="2.05" fill="#f0eeec"/>
<rect x="143.85" y="207.40" width="9.58" height="1.05" fill="#f1efec"/>
<rect x="143.85" y="208.40" width="9.58" height="1.55" fill="#d1e1eb"/>
<rect x="143.85" y="209.90" width="9.58" height="2.05" fill="#cee0eb"/>
<rect x="143.85" y="211.90" width="9.58" height="1.05" fill="#f2eeeb"/>
<rect x="143.85" y="212.90" width="9.58" height="1.05" fill="#dce6eb"/>
<rect x="143.85" y="213.90" width="9.58" height="3.05" fill="#f7d0bc"/>
<rect x="143.85" y="216.90" width="9.58" height="1.05" fill="#f6d5c4"/>
<rect x="143.85" y="217.90" width="9.58" height="2.05" fill="#f4e5dc"/>
<rect x="143.85" y="219.90" width="9.58" height="2.05" fill="#f6d7c7"/>
<rect x="143.85" y="221.90" width="9.58" height="2.05" fill="#f6d4c3"/>
<rect x="143.85" y="223.90" width="9.58" height="2.05" fill="#f6d6c5"/>
<rect x="143.85" y="225.90" width="9.58" height="3.05" fill="#f2bba7"/>
<rect x="143.85" y="228.90" width="9.58" height="1.55" fill="#f5ded1"/>
<rect x="143.85" y="230.40" width="9.58" height="1.05" fill="#f5dbcd"/>
<rect x="143.85" y="231.40" width="9.58" height="2.05" fill="#f4e1d6"/>
<rect x="143.85" y="233.40" width="9.58" height="1.55" fill="#f3eae4"/>
<rect x="143.85" y="234.90" width="9.58" height="1.05" fill="#f3e8e1"/>
<rect x="143.85" y="235.90" width="9.58" height="1.05" fill="#f6d8c8"/>
<rect x="143.85" y="236.90" width="9.58" height="1.05" fill="#f6d8c8"/>
<rect x="143.85" y="237.90" width="9.58" height="2.05" fill="#f4e0d5"/>
<rect x="143.85" y="239.90" width="9.58" height="1.55" fill="#f7d3c1"/>
<rect x="143.85" y="241.40" width="9.58" height="2.05" fill="#f4c3af"/>
<rect x="143.85" y="243.40" width="9.58" height="1.05" fill="#f6d7c6"/>
<rect x="143.85" y="244.40" width="9.58" height="2.05" fill="#f0b5a1"/>
<rect x="143.85" y="246.40" width="9.58" height="1.55" fill="#eb9e8a"/>
<rect x="143.85" y="247.90" width="9.58" height="2.05" fill="#efb09c"/>
<rect x="143.85" y="249.90" width="9.58" height="1.05" fill="#f3bfab"/>
<rect x="143.85" y="250.90" width="9.58" height="1.05" fill="#f7ceba"/>
<rect x="143.85" y="251.90" width="9.58" height="1.05" fill="#f5c7b3"/>
<rect x="143.85" y="252.90" width="9.58" height="3.05" fill="#e89480"/>
<rect x="143.85" y="255.90" width="9.58" height="1.05" fill="#eeab97"/>
<rect x="143.85" y="256.90" width="9.58" height="1.55" fill="#df7766"/>
<rect x="143.85" y="258.40" width="9.58" height="1.05" fill="#eda894"/>
<rect x="143.85" y="259.40" width="9.58" height="1.05" fill="#e68c78"/>
<rect x="143.85" y="260.40" width="9.58" height="1.05" fill="#e4836f"/>
<rect x="143.85" y="261.40" width="9.58" height="1.05" fill="#c02a35"/>
<rect x="143.85" y="262.40" width="9.58" height="1.05" fill="#e58975"/>
<rect x="143.85" y="263.40" width="9.58" height="2.05" fill="#e7917d"/>
<rect x="143.85" y="265.40" width="9.58" height="3.05" fill="#e7907c"/>
<rect x="143.85" y="268.40" width="9.58" height="1.05" fill="#e68c78"/>
<rect x="143.85" y="269.40" width="9.58" height="1.05" fill="#e3816d"/>
<rect x="143.85" y="270.40" width="9.58" height="2.05" fill="#de7363"/>
<rect x="143.85" y="272.40" width="9.58" height="1.05" fill="#f5dacb"/>
<rect x="143.85" y="273.40" width="9.58" height="2.05" fill="#f6d7c7"/>
<rect x="143.85" y="275.40" width="9.58" height="0.15" fill="#f5dacb"/>
<defs><linearGradient id="cb" x1="0" y1="0" x2="0" y2="1"><stop offset="0.000" stop-color="#c02a35"/><stop offset="0.167" stop-color="#e3806c"/><stop offset="0.333" stop-color="#f7d0bc"/><stop offset="0.500" stop-color="#f2efec"/><stop offset="0.667" stop-color="#bed9ea"/><stop offset="0.833" stop-color="#6ea6cf"/><stop offset="1.000" stop-color="#3d6fb0"/></linearGradient></defs>
<rect x="157.00" y="21.90" width="6.00" height="95.90" fill="url(#cb)"/>
<text x="165.00" y="28.00" font-size="10" text-anchor="start" fill="#111">2</text>
<text x="165.00" y="49.10" font-size="10" text-anchor="start" fill="#111">1</text>
<text x="165.00" y="70.90" font-size="10" text-anchor="start" fill="#111">0</text>
<text x="165.00" y="93.50" font-size="10" text-anchor="start" fill="#111">−1</text>
<text x="165.00" y="120.10" font-size="10" text-anchor="start" fill="#111">−2</text>
<text x="38.40" y="229.60" font-size="7.8" text-anchor="middle" fill="#222">0</text>
<text x="47.90" y="229.60" font-size="7.8" text-anchor="middle" fill="#222">4</text>
<text x="57.10" y="229.60" font-size="7.8" text-anchor="middle" fill="#222">8</text>
<text x="67.30" y="229.60" font-size="7.8" text-anchor="middle" fill="#222">12</text>
<text x="78.80" y="229.60" font-size="7.8" text-anchor="middle" fill="#222">16</text>
<text x="89.80" y="229.60" font-size="7.8" text-anchor="middle" fill="#222">20</text>
<text x="96.80" y="283.40" font-size="7.8" text-anchor="middle" fill="#222">0</text>
<text x="106.40" y="283.40" font-size="7.8" text-anchor="middle" fill="#222">4</text>
<text x="116.20" y="283.40" font-size="7.8" text-anchor="middle" fill="#222">8</text>
<text x="126.40" y="283.40" font-size="7.8" text-anchor="middle" fill="#222">12</text>
<text x="137.50" y="283.40" font-size="7.8" text-anchor="middle" fill="#222">16</text>
<text x="148.80" y="283.40" font-size="7.8" text-anchor="middle" fill="#222">20</text>
<text x="96.40" y="296.70" font-size="7.46" text-anchor="middle" fill="#000">Zeitgeber time(hours)</text>
<defs><clipPath id="vl"><ellipse cx="53.5" cy="348.6" rx="52.5" ry="37.7"/></clipPath></defs>
<ellipse cx="53.5" cy="348.6" rx="52.5" ry="37.7" fill="#eee4e2"/>
<ellipse cx="150" cy="350" rx="58.6" ry="42.2" fill="#cbcbcd"/>
<ellipse cx="150" cy="350" rx="58.6" ry="42.2" fill="#c6bcbb" clip-path="url(#vl)"/>
<text x="54.2" y="349.9" font-size="10.6" font-family="'Liberation Serif', serif" text-anchor="middle" textLength="13.6" lengthAdjust="spacingAndGlyphs">743</text>
<text x="97.6" y="349.9" font-size="10.6" font-family="'Liberation Serif', serif" text-anchor="middle" textLength="9.8" lengthAdjust="spacingAndGlyphs">39</text>
<text x="151.1" y="349.9" font-size="10.6" font-family="'Liberation Serif', serif" text-anchor="middle" textLength="13.6" lengthAdjust="spacingAndGlyphs">957</text>
<text x="57.30" y="399.80" font-size="6.8" font-weight="bold" text-anchor="middle" fill="#000" textLength="19.20" lengthAdjust="spacingAndGlyphs">Control</text>
<text x="152.00" y="403.00" font-size="6.8" font-weight="bold" text-anchor="middle" fill="#000" textLength="15.00" lengthAdjust="spacingAndGlyphs">dLAN</text>
<text x="200.40" y="10.10" font-size="12.7" font-weight="bold" text-anchor="start" fill="#000">B</text>
<rect x="232.40" y="21.80" width="10.59" height="86.90" fill="#a19fa5"/>
<rect x="306.54" y="21.80" width="52.96" height="86.90" fill="#a19fa5"/>
<line x1="242.99" y1="22.20" x2="359.50" y2="22.20" stroke="#bdbdbd" stroke-width="0.8"/>
<line x1="242.99" y1="56.56" x2="242.99" y2="53.95" stroke="#3a3a3a" stroke-width="0.6"/>
<line x1="241.39" y1="56.56" x2="244.59" y2="56.56" stroke="#3a3a3a" stroke-width="0.6"/>
<line x1="241.39" y1="53.95" x2="244.59" y2="53.95" stroke="#3a3a3a" stroke-width="0.6"/>
<line x1="285.36" y1="44.18" x2="285.36" y2="38.53" stroke="#3a3a3a" stroke-width="0.6"/>
<line x1="283.76" y1="44.18" x2="286.96" y2="44.18" stroke="#3a3a3a" stroke-width="0.6"/>
<line x1="283.76" y1="38.53" x2="286.96" y2="38.53" stroke="#3a3a3a" stroke-width="0.6"/>
<line x1="306.54" y1="73.94" x2="306.54" y2="57.86" stroke="#3a3a3a" stroke-width="0.6"/>
<line x1="304.94" y1="73.94" x2="308.14" y2="73.94" stroke="#3a3a3a" stroke-width="0.6"/>
<line x1="304.94" y1="57.86" x2="308.14" y2="57.86" stroke="#3a3a3a" stroke-width="0.6"/>
<line x1="327.73" y1="75.24" x2="327.73" y2="61.56" stroke="#3a3a3a" stroke-width="0.6"/>
<line x1="326.12" y1="75.24" x2="329.33" y2="75.24" stroke="#3a3a3a" stroke-width="0.6"/>
<line x1="326.12" y1="61.56" x2="329.33" y2="61.56" stroke="#3a3a3a" stroke-width="0.6"/>
<line x1="348.91" y1="59.82" x2="348.91" y2="57.86" stroke="#3a3a3a" stroke-width="0.6"/>
<line x1="347.31" y1="59.82" x2="350.51" y2="59.82" stroke="#3a3a3a" stroke-width="0.6"/>
<line x1="347.31" y1="57.86" x2="350.51" y2="57.86" stroke="#3a3a3a" stroke-width="0.6"/>
<line x1="242.99" y1="49.17" x2="242.99" y2="38.53" stroke="#c0392f" stroke-width="0.6"/>
<line x1="241.39" y1="49.17" x2="244.59" y2="49.17" stroke="#c0392f" stroke-width="0.6"/>
<line x1="241.39" y1="38.53" x2="244.59" y2="38.53" stroke="#c0392f" stroke-width="0.6"/>
<line x1="285.36" y1="57.65" x2="285.36" y2="54.39" stroke="#c0392f" stroke-width="0.6"/>
<line x1="283.76" y1="57.65" x2="286.96" y2="57.65" stroke="#c0392f" stroke-width="0.6"/>
<line x1="283.76" y1="54.39" x2="286.96" y2="54.39" stroke="#c0392f" stroke-width="0.6"/>
<line x1="306.54" y1="63.95" x2="306.54" y2="49.17" stroke="#c0392f" stroke-width="0.6"/>
<line x1="304.94" y1="63.95" x2="308.14" y2="63.95" stroke="#c0392f" stroke-width="0.6"/>
<line x1="304.94" y1="49.17" x2="308.14" y2="49.17" stroke="#c0392f" stroke-width="0.6"/>
<line x1="327.73" y1="60.25" x2="327.73" y2="44.18" stroke="#c0392f" stroke-width="0.6"/>
<line x1="326.12" y1="60.25" x2="329.33" y2="60.25" stroke="#c0392f" stroke-width="0.6"/>
<line x1="326.12" y1="44.18" x2="329.33" y2="44.18" stroke="#c0392f" stroke-width="0.6"/>
<line x1="348.91" y1="58.95" x2="348.91" y2="52.21" stroke="#c0392f" stroke-width="0.6"/>
<line x1="347.31" y1="58.95" x2="350.51" y2="58.95" stroke="#c0392f" stroke-width="0.6"/>
<line x1="347.31" y1="52.21" x2="350.51" y2="52.21" stroke="#c0392f" stroke-width="0.6"/>
<polyline points="242.99,44.18 264.18,45.91 285.36,56.13 306.54,56.56 327.73,52.21 348.91,55.47" fill="none" stroke="#c0392f" stroke-width="0.7"/>
<polyline points="242.99,55.47 264.18,44.18 285.36,41.14 306.54,66.55 327.73,68.51 348.91,58.95" fill="none" stroke="#222" stroke-width="0.7"/>
<circle cx="242.99" cy="44.18" r="2.1" fill="#b8191c"/>
<circle cx="264.18" cy="45.91" r="2.1" fill="#b8191c"/>
<circle cx="285.36" cy="56.13" r="2.1" fill="#b8191c"/>
<circle cx="306.54" cy="56.56" r="2.1" fill="#b8191c"/>
<circle cx="327.73" cy="52.21" r="2.1" fill="#b8191c"/>
<circle cx="348.91" cy="55.47" r="2.1" fill="#b8191c"/>
<circle cx="242.99" cy="55.47" r="1.9" fill="#fff" stroke="#000" stroke-width="0.9"/>
<circle cx="264.18" cy="44.18" r="1.9" fill="#fff" stroke="#000" stroke-width="0.9"/>
<circle cx="285.36" cy="41.14" r="1.9" fill="#fff" stroke="#000" stroke-width="0.9"/>
<circle cx="306.54" cy="66.55" r="1.9" fill="#fff" stroke="#000" stroke-width="0.9"/>
<circle cx="327.73" cy="68.51" r="1.9" fill="#fff" stroke="#000" stroke-width="0.9"/>
<circle cx="348.91" cy="58.95" r="1.9" fill="#fff" stroke="#000" stroke-width="0.9"/>
<line x1="232.40" y1="21.80" x2="232.40" y2="109.20" stroke="#333" stroke-width="1"/>
<line x1="231.90" y1="108.70" x2="359.50" y2="108.70" stroke="#333" stroke-width="1.1"/>
<line x1="229.20" y1="108.70" x2="232.40" y2="108.70" stroke="#111" stroke-width="0.9"/>
<text x="228.20" y="111.70" font-size="8.4" font-weight="bold" text-anchor="end" fill="#000">0</text>
<line x1="229.20" y1="86.97" x2="232.40" y2="86.97" stroke="#111" stroke-width="0.9"/>
<text x="228.20" y="89.97" font-size="8.4" font-weight="bold" text-anchor="end" fill="#000">10</text>
<line x1="229.20" y1="65.25" x2="232.40" y2="65.25" stroke="#111" stroke-width="0.9"/>
<text x="228.20" y="68.25" font-size="8.4" font-weight="bold" text-anchor="end" fill="#000">20</text>
<line x1="229.20" y1="43.52" x2="232.40" y2="43.52" stroke="#111" stroke-width="0.9"/>
<text x="228.20" y="46.52" font-size="8.4" font-weight="bold" text-anchor="end" fill="#000">30</text>
<line x1="229.20" y1="21.80" x2="232.40" y2="21.80" stroke="#111" stroke-width="0.9"/>
<text x="228.20" y="24.80" font-size="8.4" font-weight="bold" text-anchor="end" fill="#000">40</text>
<line x1="242.99" y1="108.70" x2="242.99" y2="112.30" stroke="#111" stroke-width="0.9"/>
<text x="242.99" y="123.80" font-size="10.2" font-weight="bold" text-anchor="middle" fill="#000" textLength="4.93" lengthAdjust="spacingAndGlyphs">0</text>
<line x1="264.18" y1="108.70" x2="264.18" y2="112.30" stroke="#111" stroke-width="0.9"/>
<text x="264.18" y="123.80" font-size="10.2" font-weight="bold" text-anchor="middle" fill="#000" textLength="4.93" lengthAdjust="spacingAndGlyphs">4</text>
<line x1="285.36" y1="108.70" x2="285.36" y2="112.30" stroke="#111" stroke-width="0.9"/>
<text x="285.36" y="123.80" font-size="10.2" font-weight="bold" text-anchor="middle" fill="#000" textLength="4.93" lengthAdjust="spacingAndGlyphs">8</text>
<line x1="306.54" y1="108.70" x2="306.54" y2="112.30" stroke="#111" stroke-width="0.9"/>
<text x="306.54" y="123.80" font-size="10.2" font-weight="bold" text-anchor="middle" fill="#000" textLength="9.87" lengthAdjust="spacingAndGlyphs">12</text>
<line x1="327.73" y1="108.70" x2="327.73" y2="112.30" stroke="#111" stroke-width="0.9"/>
<text x="327.73" y="123.80" font-size="10.2" font-weight="bold" text-anchor="middle" fill="#000" textLength="9.87" lengthAdjust="spacingAndGlyphs">16</text>
<line x1="348.91" y1="108.70" x2="348.91" y2="112.30" stroke="#111" stroke-width="0.9"/>
<text x="348.91" y="123.80" font-size="10.2" font-weight="bold" text-anchor="middle" fill="#000" textLength="9.87" lengthAdjust="spacingAndGlyphs">20</text>
<text x="295.95" y="134.60" font-size="9.6" font-weight="bold" text-anchor="middle" fill="#000" textLength="103.00" lengthAdjust="spacingAndGlyphs">Zeitgeber time (hours)</text>
<text x="214.04" y="63.55" font-size="9.3" font-weight="bold" text-anchor="middle" textLength="61.05" lengthAdjust="spacingAndGlyphs" transform="rotate(-90 214.04 63.55)"><tspan font-style="italic">Nr1d1</tspan> (fpkm)</text>
<line x1="243.40" y1="94.20" x2="252.40" y2="94.20" stroke="#222" stroke-width="0.7"/>
<circle cx="248.00" cy="94.20" r="1.9" fill="#fff" stroke="#000" stroke-width="0.9"/>
<text x="253.80" y="96.90" font-size="7.3" font-weight="bold" text-anchor="start" fill="#1a1a1a"># #</text>
<line x1="243.40" y1="102.40" x2="252.40" y2="102.40" stroke="#c0392f" stroke-width="0.7"/>
<circle cx="248.00" cy="102.40" r="2.1" fill="#b8191c"/>
<text x="253.80" y="105.10" font-size="7.3" font-weight="bold" text-anchor="start" fill="#1a1a1a">n.s.</text>
<rect x="393.80" y="23.60" width="10.73" height="86.80" fill="#a19fa5"/>
<rect x="468.93" y="23.60" width="53.67" height="86.80" fill="#a19fa5"/>
<line x1="404.53" y1="24.00" x2="522.60" y2="24.00" stroke="#bdbdbd" stroke-width="0.8"/>
<line x1="404.53" y1="72.21" x2="404.53" y2="69.31" stroke="#3a3a3a" stroke-width="0.6"/>
<line x1="402.93" y1="72.21" x2="406.13" y2="72.21" stroke="#3a3a3a" stroke-width="0.6"/>
<line x1="402.93" y1="69.31" x2="406.13" y2="69.31" stroke="#3a3a3a" stroke-width="0.6"/>
<line x1="447.47" y1="59.48" x2="447.47" y2="56.58" stroke="#3a3a3a" stroke-width="0.6"/>
<line x1="445.87" y1="59.48" x2="449.07" y2="59.48" stroke="#3a3a3a" stroke-width="0.6"/>
<line x1="445.87" y1="56.58" x2="449.07" y2="56.58" stroke="#3a3a3a" stroke-width="0.6"/>
<line x1="468.93" y1="65.26" x2="468.93" y2="56.01" stroke="#3a3a3a" stroke-width="0.6"/>
<line x1="467.33" y1="65.26" x2="470.53" y2="65.26" stroke="#3a3a3a" stroke-width="0.6"/>
<line x1="467.33" y1="56.01" x2="470.53" y2="56.01" stroke="#3a3a3a" stroke-width="0.6"/>
<line x1="490.40" y1="69.89" x2="490.40" y2="65.26" stroke="#3a3a3a" stroke-width="0.6"/>
<line x1="488.80" y1="69.89" x2="492.00" y2="69.89" stroke="#3a3a3a" stroke-width="0.6"/>
<line x1="488.80" y1="65.26" x2="492.00" y2="65.26" stroke="#3a3a3a" stroke-width="0.6"/>
<line x1="404.53" y1="63.53" x2="404.53" y2="53.11" stroke="#c0392f" stroke-width="0.6"/>
<line x1="402.93" y1="63.53" x2="406.13" y2="63.53" stroke="#c0392f" stroke-width="0.6"/>
<line x1="402.93" y1="53.11" x2="406.13" y2="53.11" stroke="#c0392f" stroke-width="0.6"/>
<line x1="426.00" y1="61.21" x2="426.00" y2="57.74" stroke="#c0392f" stroke-width="0.6"/>
<line x1="424.40" y1="61.21" x2="427.60" y2="61.21" stroke="#c0392f" stroke-width="0.6"/>
<line x1="424.40" y1="57.74" x2="427.60" y2="57.74" stroke="#c0392f" stroke-width="0.6"/>
<line x1="447.47" y1="67.58" x2="447.47" y2="60.06" stroke="#c0392f" stroke-width="0.6"/>
<line x1="445.87" y1="67.58" x2="449.07" y2="67.58" stroke="#c0392f" stroke-width="0.6"/>
<line x1="445.87" y1="60.06" x2="449.07" y2="60.06" stroke="#c0392f" stroke-width="0.6"/>
<line x1="468.93" y1="60.63" x2="468.93" y2="47.33" stroke="#c0392f" stroke-width="0.6"/>
<line x1="467.33" y1="60.63" x2="470.53" y2="60.63" stroke="#c0392f" stroke-width="0.6"/>
<line x1="467.33" y1="47.33" x2="470.53" y2="47.33" stroke="#c0392f" stroke-width="0.6"/>
<line x1="490.40" y1="75.10" x2="490.40" y2="65.84" stroke="#c0392f" stroke-width="0.6"/>
<line x1="488.80" y1="75.10" x2="492.00" y2="75.10" stroke="#c0392f" stroke-width="0.6"/>
<line x1="488.80" y1="65.84" x2="492.00" y2="65.84" stroke="#c0392f" stroke-width="0.6"/>
<polyline points="404.53,58.32 426.00,59.48 447.47,63.53 468.93,54.85 490.40,69.89 511.87,72.50" fill="none" stroke="#c0392f" stroke-width="0.7"/>
<polyline points="404.53,70.70 426.00,65.03 447.47,57.74 468.93,59.48 490.40,67.58 511.87,69.89" fill="none" stroke="#222" stroke-width="0.7"/>
<circle cx="404.53" cy="58.32" r="2.1" fill="#b8191c"/>
<circle cx="426.00" cy="59.48" r="2.1" fill="#b8191c"/>
<circle cx="447.47" cy="63.53" r="2.1" fill="#b8191c"/>
<circle cx="468.93" cy="54.85" r="2.1" fill="#b8191c"/>
<circle cx="490.40" cy="69.89" r="2.1" fill="#b8191c"/>
<circle cx="511.87" cy="72.50" r="2.1" fill="#b8191c"/>
<circle cx="404.53" cy="70.70" r="1.9" fill="#fff" stroke="#000" stroke-width="0.9"/>
<circle cx="426.00" cy="65.03" r="1.9" fill="#fff" stroke="#000" stroke-width="0.9"/>
<circle cx="447.47" cy="57.74" r="1.9" fill="#fff" stroke="#000" stroke-width="0.9"/>
<circle cx="468.93" cy="59.48" r="1.9" fill="#fff" stroke="#000" stroke-width="0.9"/>
<circle cx="490.40" cy="67.58" r="1.9" fill="#fff" stroke="#000" stroke-width="0.9"/>
<circle cx="511.87" cy="69.89" r="1.9" fill="#fff" stroke="#000" stroke-width="0.9"/>
<line x1="393.80" y1="23.60" x2="393.80" y2="110.90" stroke="#333" stroke-width="1"/>
<line x1="393.30" y1="110.40" x2="522.60" y2="110.40" stroke="#333" stroke-width="1.1"/>
<line x1="390.60" y1="110.40" x2="393.80" y2="110.40" stroke="#111" stroke-width="0.9"/>
<text x="389.60" y="113.40" font-size="8.4" font-weight="bold" text-anchor="end" fill="#000">5</text>
<line x1="390.60" y1="81.47" x2="393.80" y2="81.47" stroke="#111" stroke-width="0.9"/>
<text x="389.60" y="84.47" font-size="8.4" font-weight="bold" text-anchor="end" fill="#000">10</text>
<line x1="390.60" y1="52.53" x2="393.80" y2="52.53" stroke="#111" stroke-width="0.9"/>
<text x="389.60" y="55.53" font-size="8.4" font-weight="bold" text-anchor="end" fill="#000">15</text>
<line x1="390.60" y1="23.60" x2="393.80" y2="23.60" stroke="#111" stroke-width="0.9"/>
<text x="389.60" y="26.60" font-size="8.4" font-weight="bold" text-anchor="end" fill="#000">20</text>
<line x1="404.53" y1="110.40" x2="404.53" y2="114.00" stroke="#111" stroke-width="0.9"/>
<text x="404.53" y="123.80" font-size="9.3" font-weight="bold" text-anchor="middle" fill="#000" textLength="4.45" lengthAdjust="spacingAndGlyphs">0</text>
<line x1="426.00" y1="110.40" x2="426.00" y2="114.00" stroke="#111" stroke-width="0.9"/>
<text x="426.00" y="123.80" font-size="9.3" font-weight="bold" text-anchor="middle" fill="#000" textLength="4.45" lengthAdjust="spacingAndGlyphs">4</text>
<line x1="447.47" y1="110.40" x2="447.47" y2="114.00" stroke="#111" stroke-width="0.9"/>
<text x="447.47" y="123.80" font-size="9.3" font-weight="bold" text-anchor="middle" fill="#000" textLength="4.45" lengthAdjust="spacingAndGlyphs">8</text>
<line x1="468.93" y1="110.40" x2="468.93" y2="114.00" stroke="#111" stroke-width="0.9"/>
<text x="468.93" y="123.80" font-size="9.3" font-weight="bold" text-anchor="middle" fill="#000" textLength="8.90" lengthAdjust="spacingAndGlyphs">12</text>
<line x1="490.40" y1="110.40" x2="490.40" y2="114.00" stroke="#111" stroke-width="0.9"/>
<text x="490.40" y="123.80" font-size="9.3" font-weight="bold" text-anchor="middle" fill="#000" textLength="8.90" lengthAdjust="spacingAndGlyphs">16</text>
<line x1="511.87" y1="110.40" x2="511.87" y2="114.00" stroke="#111" stroke-width="0.9"/>
<text x="511.87" y="123.80" font-size="9.3" font-weight="bold" text-anchor="middle" fill="#000" textLength="8.90" lengthAdjust="spacingAndGlyphs">20</text>
<text x="458.20" y="133.80" font-size="9.6" font-weight="bold" text-anchor="middle" fill="#000" textLength="103.00" lengthAdjust="spacingAndGlyphs">Zeitgeber time (hours)</text>
<text x="375.44" y="65.30" font-size="9.3" font-weight="bold" text-anchor="middle" textLength="61.05" lengthAdjust="spacingAndGlyphs" transform="rotate(-90 375.44 65.30)"><tspan font-style="italic">Nr1d2</tspan> (fpkm)</text>
<line x1="404.80" y1="92.60" x2="413.80" y2="92.60" stroke="#222" stroke-width="0.7"/>
<circle cx="409.40" cy="92.60" r="1.9" fill="#fff" stroke="#000" stroke-width="0.9"/>
<text x="415.20" y="95.30" font-size="7.3" font-weight="bold" text-anchor="start" fill="#1a1a1a">#</text>
<line x1="404.80" y1="101.80" x2="413.80" y2="101.80" stroke="#c0392f" stroke-width="0.7"/>
<circle cx="409.40" cy="101.80" r="2.1" fill="#b8191c"/>
<text x="415.20" y="104.50" font-size="7.3" font-weight="bold" text-anchor="start" fill="#1a1a1a">n.s.</text>
<rect x="552.00" y="23.40" width="10.74" height="86.90" fill="#a19fa5"/>
<rect x="627.19" y="23.40" width="53.71" height="86.90" fill="#a19fa5"/>
<line x1="562.74" y1="23.80" x2="680.90" y2="23.80" stroke="#bdbdbd" stroke-width="0.8"/>
<line x1="584.23" y1="60.77" x2="584.23" y2="52.60" stroke="#3a3a3a" stroke-width="0.6"/>
<line x1="582.62" y1="60.77" x2="585.83" y2="60.77" stroke="#3a3a3a" stroke-width="0.6"/>
<line x1="582.62" y1="52.60" x2="585.83" y2="52.60" stroke="#3a3a3a" stroke-width="0.6"/>
<line x1="605.71" y1="77.10" x2="605.71" y2="65.11" stroke="#3a3a3a" stroke-width="0.6"/>
<line x1="604.11" y1="77.10" x2="607.31" y2="77.10" stroke="#3a3a3a" stroke-width="0.6"/>
<line x1="604.11" y1="65.11" x2="607.31" y2="65.11" stroke="#3a3a3a" stroke-width="0.6"/>
<line x1="627.19" y1="84.75" x2="627.19" y2="60.25" stroke="#3a3a3a" stroke-width="0.6"/>
<line x1="625.59" y1="84.75" x2="628.79" y2="84.75" stroke="#3a3a3a" stroke-width="0.6"/>
<line x1="625.59" y1="60.25" x2="628.79" y2="60.25" stroke="#3a3a3a" stroke-width="0.6"/>
<line x1="648.67" y1="84.23" x2="648.67" y2="65.11" stroke="#3a3a3a" stroke-width="0.6"/>
<line x1="647.07" y1="84.23" x2="650.27" y2="84.23" stroke="#3a3a3a" stroke-width="0.6"/>
<line x1="647.07" y1="65.11" x2="650.27" y2="65.11" stroke="#3a3a3a" stroke-width="0.6"/>
<line x1="670.16" y1="77.10" x2="670.16" y2="63.20" stroke="#3a3a3a" stroke-width="0.6"/>
<line x1="668.56" y1="77.10" x2="671.76" y2="77.10" stroke="#3a3a3a" stroke-width="0.6"/>
<line x1="668.56" y1="63.20" x2="671.76" y2="63.20" stroke="#3a3a3a" stroke-width="0.6"/>
<line x1="584.23" y1="52.95" x2="584.23" y2="37.30" stroke="#c0392f" stroke-width="0.6"/>
<line x1="582.62" y1="52.95" x2="585.83" y2="52.95" stroke="#c0392f" stroke-width="0.6"/>
<line x1="582.62" y1="37.30" x2="585.83" y2="37.30" stroke="#c0392f" stroke-width="0.6"/>
<line x1="605.71" y1="65.11" x2="605.71" y2="41.48" stroke="#c0392f" stroke-width="0.6"/>
<line x1="604.11" y1="65.11" x2="607.31" y2="65.11" stroke="#c0392f" stroke-width="0.6"/>
<line x1="604.11" y1="41.48" x2="607.31" y2="41.48" stroke="#c0392f" stroke-width="0.6"/>
<line x1="627.19" y1="67.89" x2="627.19" y2="52.60" stroke="#c0392f" stroke-width="0.6"/>
<line x1="625.59" y1="67.89" x2="628.79" y2="67.89" stroke="#c0392f" stroke-width="0.6"/>
<line x1="625.59" y1="52.60" x2="628.79" y2="52.60" stroke="#c0392f" stroke-width="0.6"/>
<line x1="648.67" y1="93.96" x2="648.67" y2="58.33" stroke="#c0392f" stroke-width="0.6"/>
<line x1="647.07" y1="93.96" x2="650.27" y2="93.96" stroke="#c0392f" stroke-width="0.6"/>
<line x1="647.07" y1="58.33" x2="650.27" y2="58.33" stroke="#c0392f" stroke-width="0.6"/>
<line x1="670.16" y1="77.63" x2="670.16" y2="72.24" stroke="#c0392f" stroke-width="0.6"/>
<line x1="668.56" y1="77.63" x2="671.76" y2="77.63" stroke="#c0392f" stroke-width="0.6"/>
<line x1="668.56" y1="72.24" x2="671.76" y2="72.24" stroke="#c0392f" stroke-width="0.6"/>
<polyline points="562.74,59.90 584.23,45.12 605.71,53.29 627.19,59.90 648.67,75.54 670.16,74.84" fill="none" stroke="#c0392f" stroke-width="0.7"/>
<polyline points="562.74,44.78 584.23,56.60 605.71,71.37 627.19,73.80 648.67,74.67 670.16,70.50" fill="none" stroke="#222" stroke-width="0.7"/>
<circle cx="562.74" cy="59.90" r="2.1" fill="#b8191c"/>
<circle cx="584.23" cy="45.12" r="2.1" fill="#b8191c"/>
<circle cx="605.71" cy="53.29" r="2.1" fill="#b8191c"/>
<circle cx="627.19" cy="59.90" r="2.1" fill="#b8191c"/>
<circle cx="648.67" cy="75.54" r="2.1" fill="#b8191c"/>
<circle cx="670.16" cy="74.84" r="2.1" fill="#b8191c"/>
<circle cx="562.74" cy="44.78" r="1.9" fill="#fff" stroke="#000" stroke-width="0.9"/>
<circle cx="584.23" cy="56.60" r="1.9" fill="#fff" stroke="#000" stroke-width="0.9"/>
<circle cx="605.71" cy="71.37" r="1.9" fill="#fff" stroke="#000" stroke-width="0.9"/>
<circle cx="627.19" cy="73.80" r="1.9" fill="#fff" stroke="#000" stroke-width="0.9"/>
<circle cx="648.67" cy="74.67" r="1.9" fill="#fff" stroke="#000" stroke-width="0.9"/>
<circle cx="670.16" cy="70.50" r="1.9" fill="#fff" stroke="#000" stroke-width="0.9"/>
<line x1="552.00" y1="23.40" x2="552.00" y2="110.80" stroke="#333" stroke-width="1"/>
<line x1="551.50" y1="110.30" x2="680.90" y2="110.30" stroke="#333" stroke-width="1.1"/>
<line x1="548.80" y1="110.30" x2="552.00" y2="110.30" stroke="#111" stroke-width="0.9"/>
<text x="547.80" y="113.30" font-size="8.4" font-weight="bold" text-anchor="end" fill="#000">7</text>
<line x1="548.80" y1="92.92" x2="552.00" y2="92.92" stroke="#111" stroke-width="0.9"/>
<text x="547.80" y="95.92" font-size="8.4" font-weight="bold" text-anchor="end" fill="#000">8</text>
<line x1="548.80" y1="75.54" x2="552.00" y2="75.54" stroke="#111" stroke-width="0.9"/>
<text x="547.80" y="78.54" font-size="8.4" font-weight="bold" text-anchor="end" fill="#000">9</text>
<line x1="548.80" y1="58.16" x2="552.00" y2="58.16" stroke="#111" stroke-width="0.9"/>
<text x="547.80" y="61.16" font-size="8.4" font-weight="bold" text-anchor="end" fill="#000">10</text>
<line x1="548.80" y1="40.78" x2="552.00" y2="40.78" stroke="#111" stroke-width="0.9"/>
<text x="547.80" y="43.78" font-size="8.4" font-weight="bold" text-anchor="end" fill="#000">11</text>
<line x1="548.80" y1="23.40" x2="552.00" y2="23.40" stroke="#111" stroke-width="0.9"/>
<text x="547.80" y="26.40" font-size="8.4" font-weight="bold" text-anchor="end" fill="#000">12</text>
<line x1="562.74" y1="110.30" x2="562.74" y2="113.90" stroke="#111" stroke-width="0.9"/>
<text x="562.74" y="123.70" font-size="9.3" font-weight="bold" text-anchor="middle" fill="#000" textLength="4.45" lengthAdjust="spacingAndGlyphs">0</text>
<line x1="584.23" y1="110.30" x2="584.23" y2="113.90" stroke="#111" stroke-width="0.9"/>
<text x="584.23" y="123.70" font-size="9.3" font-weight="bold" text-anchor="middle" fill="#000" textLength="4.45" lengthAdjust="spacingAndGlyphs">4</text>
<line x1="605.71" y1="110.30" x2="605.71" y2="113.90" stroke="#111" stroke-width="0.9"/>
<text x="605.71" y="123.70" font-size="9.3" font-weight="bold" text-anchor="middle" fill="#000" textLength="4.45" lengthAdjust="spacingAndGlyphs">8</text>
<line x1="627.19" y1="110.30" x2="627.19" y2="113.90" stroke="#111" stroke-width="0.9"/>
<text x="627.19" y="123.70" font-size="9.3" font-weight="bold" text-anchor="middle" fill="#000" textLength="8.90" lengthAdjust="spacingAndGlyphs">12</text>
<line x1="648.67" y1="110.30" x2="648.67" y2="113.90" stroke="#111" stroke-width="0.9"/>
<text x="648.67" y="123.70" font-size="9.3" font-weight="bold" text-anchor="middle" fill="#000" textLength="8.90" lengthAdjust="spacingAndGlyphs">16</text>
<line x1="670.16" y1="110.30" x2="670.16" y2="113.90" stroke="#111" stroke-width="0.9"/>
<text x="670.16" y="123.70" font-size="9.3" font-weight="bold" text-anchor="middle" fill="#000" textLength="8.90" lengthAdjust="spacingAndGlyphs">20</text>
<text x="616.45" y="133.70" font-size="9.6" font-weight="bold" text-anchor="middle" fill="#000" textLength="103.00" lengthAdjust="spacingAndGlyphs">Zeitgeber time (hours)</text>
<text x="533.64" y="65.15" font-size="9.3" font-weight="bold" text-anchor="middle" textLength="59.94" lengthAdjust="spacingAndGlyphs" transform="rotate(-90 533.64 65.15)"><tspan font-style="italic">Clock</tspan> (fpkm)</text>
<line x1="563.00" y1="92.20" x2="572.00" y2="92.20" stroke="#222" stroke-width="0.7"/>
<circle cx="567.60" cy="92.20" r="1.9" fill="#fff" stroke="#000" stroke-width="0.9"/>
<text x="573.40" y="94.90" font-size="7.3" font-weight="bold" text-anchor="start" fill="#1a1a1a">#</text>
<line x1="563.00" y1="102.40" x2="572.00" y2="102.40" stroke="#c0392f" stroke-width="0.7"/>
<circle cx="567.60" cy="102.40" r="2.1" fill="#b8191c"/>
<text x="573.40" y="105.10" font-size="7.3" font-weight="bold" text-anchor="start" fill="#1a1a1a">n.s.</text>
<rect x="231.70" y="149.40" width="10.69" height="86.90" fill="#a19fa5"/>
<rect x="306.54" y="149.40" width="53.46" height="86.90" fill="#a19fa5"/>
<line x1="242.39" y1="149.80" x2="360.00" y2="149.80" stroke="#bdbdbd" stroke-width="0.8"/>
<line x1="242.39" y1="219.50" x2="242.39" y2="197.20" stroke="#3a3a3a" stroke-width="0.6"/>
<line x1="240.79" y1="219.50" x2="243.99" y2="219.50" stroke="#3a3a3a" stroke-width="0.6"/>
<line x1="240.79" y1="197.20" x2="243.99" y2="197.20" stroke="#3a3a3a" stroke-width="0.6"/>
<line x1="263.77" y1="213.13" x2="263.77" y2="205.89" stroke="#3a3a3a" stroke-width="0.6"/>
<line x1="262.17" y1="213.13" x2="265.38" y2="213.13" stroke="#3a3a3a" stroke-width="0.6"/>
<line x1="262.17" y1="205.89" x2="265.38" y2="205.89" stroke="#3a3a3a" stroke-width="0.6"/>
<line x1="285.16" y1="191.69" x2="285.16" y2="172.72" stroke="#3a3a3a" stroke-width="0.6"/>
<line x1="283.56" y1="191.69" x2="286.76" y2="191.69" stroke="#3a3a3a" stroke-width="0.6"/>
<line x1="283.56" y1="172.72" x2="286.76" y2="172.72" stroke="#3a3a3a" stroke-width="0.6"/>
<line x1="306.54" y1="209.51" x2="306.54" y2="192.56" stroke="#3a3a3a" stroke-width="0.6"/>
<line x1="304.94" y1="209.51" x2="308.14" y2="209.51" stroke="#3a3a3a" stroke-width="0.6"/>
<line x1="304.94" y1="192.56" x2="308.14" y2="192.56" stroke="#3a3a3a" stroke-width="0.6"/>
<line x1="327.93" y1="223.27" x2="327.93" y2="214.58" stroke="#3a3a3a" stroke-width="0.6"/>
<line x1="326.32" y1="223.27" x2="329.53" y2="223.27" stroke="#3a3a3a" stroke-width="0.6"/>
<line x1="326.32" y1="214.58" x2="329.53" y2="214.58" stroke="#3a3a3a" stroke-width="0.6"/>
<line x1="242.39" y1="207.48" x2="242.39" y2="196.62" stroke="#c0392f" stroke-width="0.6"/>
<line x1="240.79" y1="207.48" x2="243.99" y2="207.48" stroke="#c0392f" stroke-width="0.6"/>
<line x1="240.79" y1="196.62" x2="243.99" y2="196.62" stroke="#c0392f" stroke-width="0.6"/>
<line x1="263.77" y1="189.08" x2="263.77" y2="161.13" stroke="#c0392f" stroke-width="0.6"/>
<line x1="262.17" y1="189.08" x2="265.38" y2="189.08" stroke="#c0392f" stroke-width="0.6"/>
<line x1="262.17" y1="161.13" x2="265.38" y2="161.13" stroke="#c0392f" stroke-width="0.6"/>
<line x1="285.16" y1="196.04" x2="285.16" y2="188.94" stroke="#c0392f" stroke-width="0.6"/>
<line x1="283.56" y1="196.04" x2="286.76" y2="196.04" stroke="#c0392f" stroke-width="0.6"/>
<line x1="283.56" y1="188.94" x2="286.76" y2="188.94" stroke="#c0392f" stroke-width="0.6"/>
<line x1="306.54" y1="209.51" x2="306.54" y2="186.33" stroke="#c0392f" stroke-width="0.6"/>
<line x1="304.94" y1="209.51" x2="308.14" y2="209.51" stroke="#c0392f" stroke-width="0.6"/>
<line x1="304.94" y1="186.33" x2="308.14" y2="186.33" stroke="#c0392f" stroke-width="0.6"/>
<line x1="327.93" y1="231.38" x2="327.93" y2="168.08" stroke="#c0392f" stroke-width="0.6"/>
<line x1="326.32" y1="231.38" x2="329.53" y2="231.38" stroke="#c0392f" stroke-width="0.6"/>
<line x1="326.32" y1="168.08" x2="329.53" y2="168.08" stroke="#c0392f" stroke-width="0.6"/>
<line x1="349.31" y1="209.51" x2="349.31" y2="189.08" stroke="#c0392f" stroke-width="0.6"/>
<line x1="347.71" y1="209.51" x2="350.91" y2="209.51" stroke="#c0392f" stroke-width="0.6"/>
<line x1="347.71" y1="189.08" x2="350.91" y2="189.08" stroke="#c0392f" stroke-width="0.6"/>
<polyline points="242.39,201.97 263.77,175.18 285.16,192.56 306.54,198.35 327.93,200.09 349.31,200.09" fill="none" stroke="#c0392f" stroke-width="0.7"/>
<polyline points="242.39,208.49 263.77,209.51 285.16,182.13 306.54,201.11 327.93,219.35 349.31,214.00" fill="none" stroke="#222" stroke-width="0.7"/>
<circle cx="242.39" cy="201.97" r="2.1" fill="#b8191c"/>
<circle cx="263.77" cy="175.18" r="2.1" fill="#b8191c"/>
<circle cx="285.16" cy="192.56" r="2.1" fill="#b8191c"/>
<circle cx="306.54" cy="198.35" r="2.1" fill="#b8191c"/>
<circle cx="327.93" cy="200.09" r="2.1" fill="#b8191c"/>
<circle cx="349.31" cy="200.09" r="2.1" fill="#b8191c"/>
<circle cx="242.39" cy="208.49" r="1.9" fill="#fff" stroke="#000" stroke-width="0.9"/>
<circle cx="263.77" cy="209.51" r="1.9" fill="#fff" stroke="#000" stroke-width="0.9"/>
<circle cx="285.16" cy="182.13" r="1.9" fill="#fff" stroke="#000" stroke-width="0.9"/>
<circle cx="306.54" cy="201.11" r="1.9" fill="#fff" stroke="#000" stroke-width="0.9"/>
<circle cx="327.93" cy="219.35" r="1.9" fill="#fff" stroke="#000" stroke-width="0.9"/>
<circle cx="349.31" cy="214.00" r="1.9" fill="#fff" stroke="#000" stroke-width="0.9"/>
<line x1="231.70" y1="149.40" x2="231.70" y2="236.80" stroke="#333" stroke-width="1"/>
<line x1="231.20" y1="236.30" x2="360.00" y2="236.30" stroke="#333" stroke-width="1.1"/>
<line x1="228.50" y1="236.30" x2="231.70" y2="236.30" stroke="#111" stroke-width="0.9"/>
<text x="227.50" y="239.30" font-size="8.4" font-weight="bold" text-anchor="end" fill="#000">6</text>
<line x1="228.50" y1="207.33" x2="231.70" y2="207.33" stroke="#111" stroke-width="0.9"/>
<text x="227.50" y="210.33" font-size="8.4" font-weight="bold" text-anchor="end" fill="#000">8</text>
<line x1="228.50" y1="178.37" x2="231.70" y2="178.37" stroke="#111" stroke-width="0.9"/>
<text x="227.50" y="181.37" font-size="8.4" font-weight="bold" text-anchor="end" fill="#000">10</text>
<line x1="228.50" y1="149.40" x2="231.70" y2="149.40" stroke="#111" stroke-width="0.9"/>
<text x="227.50" y="152.40" font-size="8.4" font-weight="bold" text-anchor="end" fill="#000">12</text>
<line x1="242.39" y1="236.30" x2="242.39" y2="239.90" stroke="#111" stroke-width="0.9"/>
<text x="242.39" y="249.70" font-size="9.3" font-weight="bold" text-anchor="middle" fill="#000" textLength="4.45" lengthAdjust="spacingAndGlyphs">0</text>
<line x1="263.77" y1="236.30" x2="263.77" y2="239.90" stroke="#111" stroke-width="0.9"/>
<text x="263.77" y="249.70" font-size="9.3" font-weight="bold" text-anchor="middle" fill="#000" textLength="4.45" lengthAdjust="spacingAndGlyphs">4</text>
<line x1="285.16" y1="236.30" x2="285.16" y2="239.90" stroke="#111" stroke-width="0.9"/>
<text x="285.16" y="249.70" font-size="9.3" font-weight="bold" text-anchor="middle" fill="#000" textLength="4.45" lengthAdjust="spacingAndGlyphs">8</text>
<line x1="306.54" y1="236.30" x2="306.54" y2="239.90" stroke="#111" stroke-width="0.9"/>
<text x="306.54" y="249.70" font-size="9.3" font-weight="bold" text-anchor="middle" fill="#000" textLength="8.90" lengthAdjust="spacingAndGlyphs">12</text>
<line x1="327.93" y1="236.30" x2="327.93" y2="239.90" stroke="#111" stroke-width="0.9"/>
<text x="327.93" y="249.70" font-size="9.3" font-weight="bold" text-anchor="middle" fill="#000" textLength="8.90" lengthAdjust="spacingAndGlyphs">16</text>
<line x1="349.31" y1="236.30" x2="349.31" y2="239.90" stroke="#111" stroke-width="0.9"/>
<text x="349.31" y="249.70" font-size="9.3" font-weight="bold" text-anchor="middle" fill="#000" textLength="8.90" lengthAdjust="spacingAndGlyphs">20</text>
<text x="295.85" y="259.70" font-size="9.6" font-weight="bold" text-anchor="middle" fill="#000" textLength="103.00" lengthAdjust="spacingAndGlyphs">Zeitgeber time (hours)</text>
<text x="213.34" y="191.15" font-size="9.3" font-weight="bold" text-anchor="middle" textLength="54.46" lengthAdjust="spacingAndGlyphs" transform="rotate(-90 213.34 191.15)"><tspan font-style="italic">Per1</tspan> (fpkm)</text>
<line x1="242.70" y1="221.90" x2="251.70" y2="221.90" stroke="#222" stroke-width="0.7"/>
<circle cx="247.30" cy="221.90" r="1.9" fill="#fff" stroke="#000" stroke-width="0.9"/>
<text x="253.10" y="224.60" font-size="7.3" font-weight="bold" text-anchor="start" fill="#1a1a1a">#</text>
<line x1="242.70" y1="230.10" x2="251.70" y2="230.10" stroke="#c0392f" stroke-width="0.7"/>
<circle cx="247.30" cy="230.10" r="2.1" fill="#b8191c"/>
<text x="253.10" y="232.80" font-size="7.3" font-weight="bold" text-anchor="start" fill="#1a1a1a">n.s.</text>
<rect x="393.50" y="150.40" width="10.79" height="86.40" fill="#a19fa5"/>
<rect x="469.04" y="150.40" width="53.96" height="86.40" fill="#a19fa5"/>
<line x1="404.29" y1="150.80" x2="523.00" y2="150.80" stroke="#bdbdbd" stroke-width="0.8"/>
<line x1="404.29" y1="206.56" x2="404.29" y2="202.67" stroke="#3a3a3a" stroke-width="0.6"/>
<line x1="402.69" y1="206.56" x2="405.89" y2="206.56" stroke="#3a3a3a" stroke-width="0.6"/>
<line x1="402.69" y1="202.67" x2="405.89" y2="202.67" stroke="#3a3a3a" stroke-width="0.6"/>
<line x1="425.88" y1="205.26" x2="425.88" y2="191.66" stroke="#3a3a3a" stroke-width="0.6"/>
<line x1="424.27" y1="205.26" x2="427.48" y2="205.26" stroke="#3a3a3a" stroke-width="0.6"/>
<line x1="424.27" y1="191.66" x2="427.48" y2="191.66" stroke="#3a3a3a" stroke-width="0.6"/>
<line x1="447.46" y1="202.46" x2="447.46" y2="182.58" stroke="#3a3a3a" stroke-width="0.6"/>
<line x1="445.86" y1="202.46" x2="449.06" y2="202.46" stroke="#3a3a3a" stroke-width="0.6"/>
<line x1="445.86" y1="182.58" x2="449.06" y2="182.58" stroke="#3a3a3a" stroke-width="0.6"/>
<line x1="469.04" y1="213.69" x2="469.04" y2="181.50" stroke="#3a3a3a" stroke-width="0.6"/>
<line x1="467.44" y1="213.69" x2="470.64" y2="213.69" stroke="#3a3a3a" stroke-width="0.6"/>
<line x1="467.44" y1="181.50" x2="470.64" y2="181.50" stroke="#3a3a3a" stroke-width="0.6"/>
<line x1="490.62" y1="205.70" x2="490.62" y2="182.80" stroke="#3a3a3a" stroke-width="0.6"/>
<line x1="489.02" y1="205.70" x2="492.23" y2="205.70" stroke="#3a3a3a" stroke-width="0.6"/>
<line x1="489.02" y1="182.80" x2="492.23" y2="182.80" stroke="#3a3a3a" stroke-width="0.6"/>
<line x1="512.21" y1="220.17" x2="512.21" y2="205.70" stroke="#3a3a3a" stroke-width="0.6"/>
<line x1="510.61" y1="220.17" x2="513.81" y2="220.17" stroke="#3a3a3a" stroke-width="0.6"/>
<line x1="510.61" y1="205.70" x2="513.81" y2="205.70" stroke="#3a3a3a" stroke-width="0.6"/>
<line x1="404.29" y1="211.96" x2="404.29" y2="203.10" stroke="#c0392f" stroke-width="0.6"/>
<line x1="402.69" y1="211.96" x2="405.89" y2="211.96" stroke="#c0392f" stroke-width="0.6"/>
<line x1="402.69" y1="203.10" x2="405.89" y2="203.10" stroke="#c0392f" stroke-width="0.6"/>
<line x1="425.88" y1="192.09" x2="425.88" y2="179.78" stroke="#c0392f" stroke-width="0.6"/>
<line x1="424.27" y1="192.09" x2="427.48" y2="192.09" stroke="#c0392f" stroke-width="0.6"/>
<line x1="424.27" y1="179.78" x2="427.48" y2="179.78" stroke="#c0392f" stroke-width="0.6"/>
<line x1="447.46" y1="190.14" x2="447.46" y2="157.31" stroke="#c0392f" stroke-width="0.6"/>
<line x1="445.86" y1="190.14" x2="449.06" y2="190.14" stroke="#c0392f" stroke-width="0.6"/>
<line x1="445.86" y1="157.31" x2="449.06" y2="157.31" stroke="#c0392f" stroke-width="0.6"/>
<line x1="469.04" y1="194.03" x2="469.04" y2="186.26" stroke="#c0392f" stroke-width="0.6"/>
<line x1="467.44" y1="194.03" x2="470.64" y2="194.03" stroke="#c0392f" stroke-width="0.6"/>
<line x1="467.44" y1="186.26" x2="470.64" y2="186.26" stroke="#c0392f" stroke-width="0.6"/>
<line x1="490.62" y1="205.70" x2="490.62" y2="200.08" stroke="#c0392f" stroke-width="0.6"/>
<line x1="489.02" y1="205.70" x2="492.23" y2="205.70" stroke="#c0392f" stroke-width="0.6"/>
<line x1="489.02" y1="200.08" x2="492.23" y2="200.08" stroke="#c0392f" stroke-width="0.6"/>
<line x1="512.21" y1="215.63" x2="512.21" y2="203.32" stroke="#c0392f" stroke-width="0.6"/>
<line x1="510.61" y1="215.63" x2="513.81" y2="215.63" stroke="#c0392f" stroke-width="0.6"/>
<line x1="510.61" y1="203.32" x2="513.81" y2="203.32" stroke="#c0392f" stroke-width="0.6"/>
<polyline points="404.29,207.42 425.88,185.82 447.46,173.94 469.04,190.14 490.62,202.46 512.21,209.58" fill="none" stroke="#c0392f" stroke-width="0.7"/>
<polyline points="404.29,204.62 425.88,198.35 447.46,192.52 469.04,197.49 490.62,194.03 512.21,212.39" fill="none" stroke="#222" stroke-width="0.7"/>
<circle cx="404.29" cy="207.42" r="2.1" fill="#b8191c"/>
<circle cx="425.88" cy="185.82" r="2.1" fill="#b8191c"/>
<circle cx="447.46" cy="173.94" r="2.1" fill="#b8191c"/>
<circle cx="469.04" cy="190.14" r="2.1" fill="#b8191c"/>
<circle cx="490.62" cy="202.46" r="2.1" fill="#b8191c"/>
<circle cx="512.21" cy="209.58" r="2.1" fill="#b8191c"/>
<circle cx="404.29" cy="204.62" r="1.9" fill="#fff" stroke="#000" stroke-width="0.9"/>
<circle cx="425.88" cy="198.35" r="1.9" fill="#fff" stroke="#000" stroke-width="0.9"/>
<circle cx="447.46" cy="192.52" r="1.9" fill="#fff" stroke="#000" stroke-width="0.9"/>
<circle cx="469.04" cy="197.49" r="1.9" fill="#fff" stroke="#000" stroke-width="0.9"/>
<circle cx="490.62" cy="194.03" r="1.9" fill="#fff" stroke="#000" stroke-width="0.9"/>
<circle cx="512.21" cy="212.39" r="1.9" fill="#fff" stroke="#000" stroke-width="0.9"/>
<line x1="393.50" y1="150.40" x2="393.50" y2="237.30" stroke="#333" stroke-width="1"/>
<line x1="393.00" y1="236.80" x2="523.00" y2="236.80" stroke="#333" stroke-width="1.1"/>
<line x1="390.30" y1="236.80" x2="393.50" y2="236.80" stroke="#111" stroke-width="0.9"/>
<text x="389.30" y="239.80" font-size="8.4" font-weight="bold" text-anchor="end" fill="#000">3</text>
<line x1="390.30" y1="215.20" x2="393.50" y2="215.20" stroke="#111" stroke-width="0.9"/>
<text x="389.30" y="218.20" font-size="8.4" font-weight="bold" text-anchor="end" fill="#000">4</text>
<line x1="390.30" y1="193.60" x2="393.50" y2="193.60" stroke="#111" stroke-width="0.9"/>
<text x="389.30" y="196.60" font-size="8.4" font-weight="bold" text-anchor="end" fill="#000">5</text>
<line x1="390.30" y1="172.00" x2="393.50" y2="172.00" stroke="#111" stroke-width="0.9"/>
<text x="389.30" y="175.00" font-size="8.4" font-weight="bold" text-anchor="end" fill="#000">6</text>
<line x1="390.30" y1="150.40" x2="393.50" y2="150.40" stroke="#111" stroke-width="0.9"/>
<text x="389.30" y="153.40" font-size="8.4" font-weight="bold" text-anchor="end" fill="#000">7</text>
<line x1="404.29" y1="236.80" x2="404.29" y2="240.40" stroke="#111" stroke-width="0.9"/>
<text x="404.29" y="250.20" font-size="9.3" font-weight="bold" text-anchor="middle" fill="#000" textLength="4.45" lengthAdjust="spacingAndGlyphs">0</text>
<line x1="425.88" y1="236.80" x2="425.88" y2="240.40" stroke="#111" stroke-width="0.9"/>
<text x="425.88" y="250.20" font-size="9.3" font-weight="bold" text-anchor="middle" fill="#000" textLength="4.45" lengthAdjust="spacingAndGlyphs">4</text>
<line x1="447.46" y1="236.80" x2="447.46" y2="240.40" stroke="#111" stroke-width="0.9"/>
<text x="447.46" y="250.20" font-size="9.3" font-weight="bold" text-anchor="middle" fill="#000" textLength="4.45" lengthAdjust="spacingAndGlyphs">8</text>
<line x1="469.04" y1="236.80" x2="469.04" y2="240.40" stroke="#111" stroke-width="0.9"/>
<text x="469.04" y="250.20" font-size="9.3" font-weight="bold" text-anchor="middle" fill="#000" textLength="8.90" lengthAdjust="spacingAndGlyphs">12</text>
<line x1="490.62" y1="236.80" x2="490.62" y2="240.40" stroke="#111" stroke-width="0.9"/>
<text x="490.62" y="250.20" font-size="9.3" font-weight="bold" text-anchor="middle" fill="#000" textLength="8.90" lengthAdjust="spacingAndGlyphs">16</text>
<line x1="512.21" y1="236.80" x2="512.21" y2="240.40" stroke="#111" stroke-width="0.9"/>
<text x="512.21" y="250.20" font-size="9.3" font-weight="bold" text-anchor="middle" fill="#000" textLength="8.90" lengthAdjust="spacingAndGlyphs">20</text>
<text x="458.25" y="260.20" font-size="9.6" font-weight="bold" text-anchor="middle" fill="#000" textLength="103.00" lengthAdjust="spacingAndGlyphs">Zeitgeber time (hours)</text>
<text x="379.92" y="191.90" font-size="9.3" font-weight="bold" text-anchor="middle" textLength="54.46" lengthAdjust="spacingAndGlyphs" transform="rotate(-90 379.92 191.90)"><tspan font-style="italic">Per2</tspan> (fpkm)</text>
<line x1="404.50" y1="220.60" x2="413.50" y2="220.60" stroke="#222" stroke-width="0.7"/>
<circle cx="409.10" cy="220.60" r="1.9" fill="#fff" stroke="#000" stroke-width="0.9"/>
<text x="414.90" y="223.30" font-size="7.3" font-weight="bold" text-anchor="start" fill="#1a1a1a">n.s.</text>
<line x1="404.50" y1="230.10" x2="413.50" y2="230.10" stroke="#c0392f" stroke-width="0.7"/>
<circle cx="409.10" cy="230.10" r="2.1" fill="#b8191c"/>
<text x="414.90" y="232.80" font-size="7.3" font-weight="bold" text-anchor="start" fill="#1a1a1a">#</text>
<rect x="552.00" y="149.00" width="10.74" height="86.70" fill="#a19fa5"/>
<rect x="627.19" y="149.00" width="53.71" height="86.70" fill="#a19fa5"/>
<line x1="562.74" y1="149.40" x2="680.90" y2="149.40" stroke="#bdbdbd" stroke-width="0.8"/>
<line x1="562.74" y1="181.22" x2="562.74" y2="177.90" stroke="#3a3a3a" stroke-width="0.6"/>
<line x1="561.14" y1="181.22" x2="564.34" y2="181.22" stroke="#3a3a3a" stroke-width="0.6"/>
<line x1="561.14" y1="177.90" x2="564.34" y2="177.90" stroke="#3a3a3a" stroke-width="0.6"/>
<line x1="584.23" y1="183.25" x2="584.23" y2="171.11" stroke="#3a3a3a" stroke-width="0.6"/>
<line x1="582.62" y1="183.25" x2="585.83" y2="183.25" stroke="#3a3a3a" stroke-width="0.6"/>
<line x1="582.62" y1="171.11" x2="585.83" y2="171.11" stroke="#3a3a3a" stroke-width="0.6"/>
<line x1="605.71" y1="191.63" x2="605.71" y2="171.11" stroke="#3a3a3a" stroke-width="0.6"/>
<line x1="604.11" y1="191.63" x2="607.31" y2="191.63" stroke="#3a3a3a" stroke-width="0.6"/>
<line x1="604.11" y1="171.11" x2="607.31" y2="171.11" stroke="#3a3a3a" stroke-width="0.6"/>
<line x1="627.19" y1="179.63" x2="627.19" y2="167.50" stroke="#3a3a3a" stroke-width="0.6"/>
<line x1="625.59" y1="179.63" x2="628.79" y2="179.63" stroke="#3a3a3a" stroke-width="0.6"/>
<line x1="625.59" y1="167.50" x2="628.79" y2="167.50" stroke="#3a3a3a" stroke-width="0.6"/>
<line x1="648.67" y1="186.14" x2="648.67" y2="171.69" stroke="#3a3a3a" stroke-width="0.6"/>
<line x1="647.07" y1="186.14" x2="650.27" y2="186.14" stroke="#3a3a3a" stroke-width="0.6"/>
<line x1="647.07" y1="171.69" x2="650.27" y2="171.69" stroke="#3a3a3a" stroke-width="0.6"/>
<line x1="562.74" y1="182.67" x2="562.74" y2="173.13" stroke="#c0392f" stroke-width="0.6"/>
<line x1="561.14" y1="182.67" x2="564.34" y2="182.67" stroke="#c0392f" stroke-width="0.6"/>
<line x1="561.14" y1="173.13" x2="564.34" y2="173.13" stroke="#c0392f" stroke-width="0.6"/>
<line x1="584.23" y1="174.00" x2="584.23" y2="169.23" stroke="#c0392f" stroke-width="0.6"/>
<line x1="582.62" y1="174.00" x2="585.83" y2="174.00" stroke="#c0392f" stroke-width="0.6"/>
<line x1="582.62" y1="169.23" x2="585.83" y2="169.23" stroke="#c0392f" stroke-width="0.6"/>
<line x1="605.71" y1="182.67" x2="605.71" y2="158.39" stroke="#c0392f" stroke-width="0.6"/>
<line x1="604.11" y1="182.67" x2="607.31" y2="182.67" stroke="#c0392f" stroke-width="0.6"/>
<line x1="604.11" y1="158.39" x2="607.31" y2="158.39" stroke="#c0392f" stroke-width="0.6"/>
<line x1="627.19" y1="179.63" x2="627.19" y2="171.69" stroke="#c0392f" stroke-width="0.6"/>
<line x1="625.59" y1="179.63" x2="628.79" y2="179.63" stroke="#c0392f" stroke-width="0.6"/>
<line x1="625.59" y1="171.69" x2="628.79" y2="171.69" stroke="#c0392f" stroke-width="0.6"/>
<line x1="648.67" y1="189.89" x2="648.67" y2="175.44" stroke="#c0392f" stroke-width="0.6"/>
<line x1="647.07" y1="189.89" x2="650.27" y2="189.89" stroke="#c0392f" stroke-width="0.6"/>
<line x1="647.07" y1="175.44" x2="650.27" y2="175.44" stroke="#c0392f" stroke-width="0.6"/>
<line x1="670.16" y1="185.56" x2="670.16" y2="172.41" stroke="#c0392f" stroke-width="0.6"/>
<line x1="668.56" y1="185.56" x2="671.76" y2="185.56" stroke="#c0392f" stroke-width="0.6"/>
<line x1="668.56" y1="172.41" x2="671.76" y2="172.41" stroke="#c0392f" stroke-width="0.6"/>
<polyline points="562.74,177.61 584.23,171.69 605.71,171.11 627.19,174.72 648.67,182.52 670.16,179.06" fill="none" stroke="#c0392f" stroke-width="0.7"/>
<polyline points="562.74,179.34 584.23,177.18 605.71,180.79 627.19,173.56 648.67,178.33 670.16,189.17" fill="none" stroke="#222" stroke-width="0.7"/>
<circle cx="562.74" cy="177.61" r="2.1" fill="#b8191c"/>
<circle cx="584.23" cy="171.69" r="2.1" fill="#b8191c"/>
<circle cx="605.71" cy="171.11" r="2.1" fill="#b8191c"/>
<circle cx="627.19" cy="174.72" r="2.1" fill="#b8191c"/>
<circle cx="648.67" cy="182.52" r="2.1" fill="#b8191c"/>
<circle cx="670.16" cy="179.06" r="2.1" fill="#b8191c"/>
<circle cx="562.74" cy="179.34" r="1.9" fill="#fff" stroke="#000" stroke-width="0.9"/>
<circle cx="584.23" cy="177.18" r="1.9" fill="#fff" stroke="#000" stroke-width="0.9"/>
<circle cx="605.71" cy="180.79" r="1.9" fill="#fff" stroke="#000" stroke-width="0.9"/>
<circle cx="627.19" cy="173.56" r="1.9" fill="#fff" stroke="#000" stroke-width="0.9"/>
<circle cx="648.67" cy="178.33" r="1.9" fill="#fff" stroke="#000" stroke-width="0.9"/>
<circle cx="670.16" cy="189.17" r="1.9" fill="#fff" stroke="#000" stroke-width="0.9"/>
<line x1="552.00" y1="149.00" x2="552.00" y2="236.20" stroke="#333" stroke-width="1"/>
<line x1="551.50" y1="235.70" x2="680.90" y2="235.70" stroke="#333" stroke-width="1.1"/>
<line x1="548.80" y1="235.70" x2="552.00" y2="235.70" stroke="#111" stroke-width="0.9"/>
<text x="547.80" y="238.70" font-size="8.4" font-weight="bold" text-anchor="end" fill="#000">0</text>
<line x1="548.80" y1="206.80" x2="552.00" y2="206.80" stroke="#111" stroke-width="0.9"/>
<text x="547.80" y="209.80" font-size="8.4" font-weight="bold" text-anchor="end" fill="#000">2</text>
<line x1="548.80" y1="177.90" x2="552.00" y2="177.90" stroke="#111" stroke-width="0.9"/>
<text x="547.80" y="180.90" font-size="8.4" font-weight="bold" text-anchor="end" fill="#000">4</text>
<line x1="548.80" y1="149.00" x2="552.00" y2="149.00" stroke="#111" stroke-width="0.9"/>
<text x="547.80" y="152.00" font-size="8.4" font-weight="bold" text-anchor="end" fill="#000">6</text>
<line x1="562.74" y1="235.70" x2="562.74" y2="239.30" stroke="#111" stroke-width="0.9"/>
<text x="562.74" y="249.10" font-size="9.3" font-weight="bold" text-anchor="middle" fill="#000" textLength="4.45" lengthAdjust="spacingAndGlyphs">0</text>
<line x1="584.23" y1="235.70" x2="584.23" y2="239.30" stroke="#111" stroke-width="0.9"/>
<text x="584.23" y="249.10" font-size="9.3" font-weight="bold" text-anchor="middle" fill="#000" textLength="4.45" lengthAdjust="spacingAndGlyphs">4</text>
<line x1="605.71" y1="235.70" x2="605.71" y2="239.30" stroke="#111" stroke-width="0.9"/>
<text x="605.71" y="249.10" font-size="9.3" font-weight="bold" text-anchor="middle" fill="#000" textLength="4.45" lengthAdjust="spacingAndGlyphs">8</text>
<line x1="627.19" y1="235.70" x2="627.19" y2="239.30" stroke="#111" stroke-width="0.9"/>
<text x="627.19" y="249.10" font-size="9.3" font-weight="bold" text-anchor="middle" fill="#000" textLength="8.90" lengthAdjust="spacingAndGlyphs">12</text>
<line x1="648.67" y1="235.70" x2="648.67" y2="239.30" stroke="#111" stroke-width="0.9"/>
<text x="648.67" y="249.10" font-size="9.3" font-weight="bold" text-anchor="middle" fill="#000" textLength="8.90" lengthAdjust="spacingAndGlyphs">16</text>
<line x1="670.16" y1="235.70" x2="670.16" y2="239.30" stroke="#111" stroke-width="0.9"/>
<text x="670.16" y="249.10" font-size="9.3" font-weight="bold" text-anchor="middle" fill="#000" textLength="8.90" lengthAdjust="spacingAndGlyphs">20</text>
<text x="616.45" y="259.10" font-size="9.6" font-weight="bold" text-anchor="middle" fill="#000" textLength="103.00" lengthAdjust="spacingAndGlyphs">Zeitgeber time (hours)</text>
<text x="538.42" y="190.65" font-size="9.3" font-weight="bold" text-anchor="middle" textLength="54.46" lengthAdjust="spacingAndGlyphs" transform="rotate(-90 538.42 190.65)"><tspan font-style="italic">Per3</tspan> (fpkm)</text>
<line x1="563.00" y1="216.40" x2="572.00" y2="216.40" stroke="#222" stroke-width="0.7"/>
<circle cx="567.60" cy="216.40" r="1.9" fill="#fff" stroke="#000" stroke-width="0.9"/>
<text x="573.40" y="219.10" font-size="7.3" font-weight="bold" text-anchor="start" fill="#1a1a1a">n.s.</text>
<line x1="563.00" y1="226.50" x2="572.00" y2="226.50" stroke="#c0392f" stroke-width="0.7"/>
<circle cx="567.60" cy="226.50" r="2.1" fill="#b8191c"/>
<text x="573.40" y="229.20" font-size="7.3" font-weight="bold" text-anchor="start" fill="#1a1a1a">n.s.</text>
<rect x="231.20" y="273.70" width="10.70" height="86.10" fill="#a19fa5"/>
<rect x="306.10" y="273.70" width="53.50" height="86.10" fill="#a19fa5"/>
<line x1="241.90" y1="274.10" x2="359.60" y2="274.10" stroke="#bdbdbd" stroke-width="0.8"/>
<line x1="241.90" y1="311.30" x2="241.90" y2="306.70" stroke="#3a3a3a" stroke-width="0.6"/>
<line x1="240.30" y1="311.30" x2="243.50" y2="311.30" stroke="#3a3a3a" stroke-width="0.6"/>
<line x1="240.30" y1="306.70" x2="243.50" y2="306.70" stroke="#3a3a3a" stroke-width="0.6"/>
<line x1="263.30" y1="316.32" x2="263.30" y2="306.70" stroke="#3a3a3a" stroke-width="0.6"/>
<line x1="261.70" y1="316.32" x2="264.90" y2="316.32" stroke="#3a3a3a" stroke-width="0.6"/>
<line x1="261.70" y1="306.70" x2="264.90" y2="306.70" stroke="#3a3a3a" stroke-width="0.6"/>
<line x1="284.70" y1="308.86" x2="284.70" y2="305.27" stroke="#3a3a3a" stroke-width="0.6"/>
<line x1="283.10" y1="308.86" x2="286.30" y2="308.86" stroke="#3a3a3a" stroke-width="0.6"/>
<line x1="283.10" y1="305.27" x2="286.30" y2="305.27" stroke="#3a3a3a" stroke-width="0.6"/>
<line x1="306.10" y1="303.12" x2="306.10" y2="299.53" stroke="#3a3a3a" stroke-width="0.6"/>
<line x1="304.50" y1="303.12" x2="307.70" y2="303.12" stroke="#3a3a3a" stroke-width="0.6"/>
<line x1="304.50" y1="299.53" x2="307.70" y2="299.53" stroke="#3a3a3a" stroke-width="0.6"/>
<line x1="327.50" y1="302.40" x2="327.50" y2="299.24" stroke="#3a3a3a" stroke-width="0.6"/>
<line x1="325.90" y1="302.40" x2="329.10" y2="302.40" stroke="#3a3a3a" stroke-width="0.6"/>
<line x1="325.90" y1="299.24" x2="329.10" y2="299.24" stroke="#3a3a3a" stroke-width="0.6"/>
<line x1="348.90" y1="303.40" x2="348.90" y2="289.92" stroke="#3a3a3a" stroke-width="0.6"/>
<line x1="347.30" y1="303.40" x2="350.50" y2="303.40" stroke="#3a3a3a" stroke-width="0.6"/>
<line x1="347.30" y1="289.92" x2="350.50" y2="289.92" stroke="#3a3a3a" stroke-width="0.6"/>
<line x1="241.90" y1="316.75" x2="241.90" y2="310.15" stroke="#c0392f" stroke-width="0.6"/>
<line x1="240.30" y1="316.75" x2="243.50" y2="316.75" stroke="#c0392f" stroke-width="0.6"/>
<line x1="240.30" y1="310.15" x2="243.50" y2="310.15" stroke="#c0392f" stroke-width="0.6"/>
<line x1="284.70" y1="312.73" x2="284.70" y2="305.27" stroke="#c0392f" stroke-width="0.6"/>
<line x1="283.10" y1="312.73" x2="286.30" y2="312.73" stroke="#c0392f" stroke-width="0.6"/>
<line x1="283.10" y1="305.27" x2="286.30" y2="305.27" stroke="#c0392f" stroke-width="0.6"/>
<line x1="306.10" y1="300.97" x2="306.10" y2="297.38" stroke="#c0392f" stroke-width="0.6"/>
<line x1="304.50" y1="300.97" x2="307.70" y2="300.97" stroke="#c0392f" stroke-width="0.6"/>
<line x1="304.50" y1="297.38" x2="307.70" y2="297.38" stroke="#c0392f" stroke-width="0.6"/>
<line x1="327.50" y1="302.97" x2="327.50" y2="280.44" stroke="#c0392f" stroke-width="0.6"/>
<line x1="325.90" y1="302.97" x2="329.10" y2="302.97" stroke="#c0392f" stroke-width="0.6"/>
<line x1="325.90" y1="280.44" x2="329.10" y2="280.44" stroke="#c0392f" stroke-width="0.6"/>
<line x1="348.90" y1="309.72" x2="348.90" y2="304.70" stroke="#c0392f" stroke-width="0.6"/>
<line x1="347.30" y1="309.72" x2="350.50" y2="309.72" stroke="#c0392f" stroke-width="0.6"/>
<line x1="347.30" y1="304.70" x2="350.50" y2="304.70" stroke="#c0392f" stroke-width="0.6"/>
<polyline points="241.90,313.45 263.30,300.97 284.70,309.00 306.10,298.53 327.50,292.36 348.90,306.70" fill="none" stroke="#c0392f" stroke-width="0.7"/>
<polyline points="241.90,309.14 263.30,311.44 284.70,307.14 306.10,301.25 327.50,300.68 348.90,296.80" fill="none" stroke="#222" stroke-width="0.7"/>
<circle cx="241.90" cy="313.45" r="2.1" fill="#b8191c"/>
<circle cx="263.30" cy="300.97" r="2.1" fill="#b8191c"/>
<circle cx="284.70" cy="309.00" r="2.1" fill="#b8191c"/>
<circle cx="306.10" cy="298.53" r="2.1" fill="#b8191c"/>
<circle cx="327.50" cy="292.36" r="2.1" fill="#b8191c"/>
<circle cx="348.90" cy="306.70" r="2.1" fill="#b8191c"/>
<circle cx="241.90" cy="309.14" r="1.9" fill="#fff" stroke="#000" stroke-width="0.9"/>
<circle cx="263.30" cy="311.44" r="1.9" fill="#fff" stroke="#000" stroke-width="0.9"/>
<circle cx="284.70" cy="307.14" r="1.9" fill="#fff" stroke="#000" stroke-width="0.9"/>
<circle cx="306.10" cy="301.25" r="1.9" fill="#fff" stroke="#000" stroke-width="0.9"/>
<circle cx="327.50" cy="300.68" r="1.9" fill="#fff" stroke="#000" stroke-width="0.9"/>
<circle cx="348.90" cy="296.80" r="1.9" fill="#fff" stroke="#000" stroke-width="0.9"/>
<line x1="231.20" y1="273.70" x2="231.20" y2="360.30" stroke="#333" stroke-width="1"/>
<line x1="230.70" y1="359.80" x2="359.60" y2="359.80" stroke="#333" stroke-width="1.1"/>
<line x1="228.00" y1="359.80" x2="231.20" y2="359.80" stroke="#111" stroke-width="0.9"/>
<text x="227.00" y="362.80" font-size="8.4" font-weight="bold" text-anchor="end" fill="#000">0</text>
<line x1="228.00" y1="331.10" x2="231.20" y2="331.10" stroke="#111" stroke-width="0.9"/>
<text x="227.00" y="334.10" font-size="8.4" font-weight="bold" text-anchor="end" fill="#000">2</text>
<line x1="228.00" y1="302.40" x2="231.20" y2="302.40" stroke="#111" stroke-width="0.9"/>
<text x="227.00" y="305.40" font-size="8.4" font-weight="bold" text-anchor="end" fill="#000">4</text>
<line x1="228.00" y1="273.70" x2="231.20" y2="273.70" stroke="#111" stroke-width="0.9"/>
<text x="227.00" y="276.70" font-size="8.4" font-weight="bold" text-anchor="end" fill="#000">6</text>
<line x1="241.90" y1="359.80" x2="241.90" y2="363.40" stroke="#111" stroke-width="0.9"/>
<text x="241.90" y="373.20" font-size="9.3" font-weight="bold" text-anchor="middle" fill="#000" textLength="4.45" lengthAdjust="spacingAndGlyphs">0</text>
<line x1="263.30" y1="359.80" x2="263.30" y2="363.40" stroke="#111" stroke-width="0.9"/>
<text x="263.30" y="373.20" font-size="9.3" font-weight="bold" text-anchor="middle" fill="#000" textLength="4.45" lengthAdjust="spacingAndGlyphs">4</text>
<line x1="284.70" y1="359.80" x2="284.70" y2="363.40" stroke="#111" stroke-width="0.9"/>
<text x="284.70" y="373.20" font-size="9.3" font-weight="bold" text-anchor="middle" fill="#000" textLength="4.45" lengthAdjust="spacingAndGlyphs">8</text>
<line x1="306.10" y1="359.80" x2="306.10" y2="363.40" stroke="#111" stroke-width="0.9"/>
<text x="306.10" y="373.20" font-size="9.3" font-weight="bold" text-anchor="middle" fill="#000" textLength="8.90" lengthAdjust="spacingAndGlyphs">12</text>
<line x1="327.50" y1="359.80" x2="327.50" y2="363.40" stroke="#111" stroke-width="0.9"/>
<text x="327.50" y="373.20" font-size="9.3" font-weight="bold" text-anchor="middle" fill="#000" textLength="8.90" lengthAdjust="spacingAndGlyphs">16</text>
<line x1="348.90" y1="359.80" x2="348.90" y2="363.40" stroke="#111" stroke-width="0.9"/>
<text x="348.90" y="373.20" font-size="9.3" font-weight="bold" text-anchor="middle" fill="#000" textLength="8.90" lengthAdjust="spacingAndGlyphs">20</text>
<text x="295.40" y="383.20" font-size="9.6" font-weight="bold" text-anchor="middle" fill="#000" textLength="103.00" lengthAdjust="spacingAndGlyphs">Zeitgeber time (hours)</text>
<text x="217.62" y="315.05" font-size="9.3" font-weight="bold" text-anchor="middle" textLength="55.01" lengthAdjust="spacingAndGlyphs" transform="rotate(-90 217.62 315.05)"><tspan font-style="italic">Cry1</tspan> (fpkm)</text>
<line x1="242.20" y1="338.70" x2="251.20" y2="338.70" stroke="#222" stroke-width="0.7"/>
<circle cx="246.80" cy="338.70" r="1.9" fill="#fff" stroke="#000" stroke-width="0.9"/>
<text x="252.60" y="341.40" font-size="7.3" font-weight="bold" text-anchor="start" fill="#1a1a1a">n.s.</text>
<line x1="242.20" y1="347.70" x2="251.20" y2="347.70" stroke="#c0392f" stroke-width="0.7"/>
<circle cx="246.80" cy="347.70" r="2.1" fill="#b8191c"/>
<text x="252.60" y="350.40" font-size="7.3" font-weight="bold" text-anchor="start" fill="#1a1a1a">n.s.</text>
<rect x="394.00" y="273.20" width="10.73" height="86.80" fill="#a19fa5"/>
<rect x="469.13" y="273.20" width="53.67" height="86.80" fill="#a19fa5"/>
<line x1="404.73" y1="273.60" x2="522.80" y2="273.60" stroke="#bdbdbd" stroke-width="0.8"/>
<line x1="404.73" y1="303.87" x2="404.73" y2="301.27" stroke="#3a3a3a" stroke-width="0.6"/>
<line x1="403.13" y1="303.87" x2="406.33" y2="303.87" stroke="#3a3a3a" stroke-width="0.6"/>
<line x1="403.13" y1="301.27" x2="406.33" y2="301.27" stroke="#3a3a3a" stroke-width="0.6"/>
<line x1="426.20" y1="304.16" x2="426.20" y2="298.66" stroke="#3a3a3a" stroke-width="0.6"/>
<line x1="424.60" y1="304.16" x2="427.80" y2="304.16" stroke="#3a3a3a" stroke-width="0.6"/>
<line x1="424.60" y1="298.66" x2="427.80" y2="298.66" stroke="#3a3a3a" stroke-width="0.6"/>
<line x1="447.67" y1="299.82" x2="447.67" y2="293.45" stroke="#3a3a3a" stroke-width="0.6"/>
<line x1="446.07" y1="299.82" x2="449.27" y2="299.82" stroke="#3a3a3a" stroke-width="0.6"/>
<line x1="446.07" y1="293.45" x2="449.27" y2="293.45" stroke="#3a3a3a" stroke-width="0.6"/>
<line x1="469.13" y1="305.61" x2="469.13" y2="303.29" stroke="#3a3a3a" stroke-width="0.6"/>
<line x1="467.53" y1="305.61" x2="470.73" y2="305.61" stroke="#3a3a3a" stroke-width="0.6"/>
<line x1="467.53" y1="303.29" x2="470.73" y2="303.29" stroke="#3a3a3a" stroke-width="0.6"/>
<line x1="490.60" y1="313.42" x2="490.60" y2="304.45" stroke="#3a3a3a" stroke-width="0.6"/>
<line x1="489.00" y1="313.42" x2="492.20" y2="313.42" stroke="#3a3a3a" stroke-width="0.6"/>
<line x1="489.00" y1="304.45" x2="492.20" y2="304.45" stroke="#3a3a3a" stroke-width="0.6"/>
<line x1="512.07" y1="302.71" x2="512.07" y2="299.82" stroke="#3a3a3a" stroke-width="0.6"/>
<line x1="510.47" y1="302.71" x2="513.67" y2="302.71" stroke="#3a3a3a" stroke-width="0.6"/>
<line x1="510.47" y1="299.82" x2="513.67" y2="299.82" stroke="#3a3a3a" stroke-width="0.6"/>
<line x1="404.73" y1="304.74" x2="404.73" y2="294.32" stroke="#c0392f" stroke-width="0.6"/>
<line x1="403.13" y1="304.74" x2="406.33" y2="304.74" stroke="#c0392f" stroke-width="0.6"/>
<line x1="403.13" y1="294.32" x2="406.33" y2="294.32" stroke="#c0392f" stroke-width="0.6"/>
<line x1="426.20" y1="298.37" x2="426.20" y2="288.53" stroke="#c0392f" stroke-width="0.6"/>
<line x1="424.60" y1="298.37" x2="427.80" y2="298.37" stroke="#c0392f" stroke-width="0.6"/>
<line x1="424.60" y1="288.53" x2="427.80" y2="288.53" stroke="#c0392f" stroke-width="0.6"/>
<line x1="447.67" y1="301.27" x2="447.67" y2="298.95" stroke="#c0392f" stroke-width="0.6"/>
<line x1="446.07" y1="301.27" x2="449.27" y2="301.27" stroke="#c0392f" stroke-width="0.6"/>
<line x1="446.07" y1="298.95" x2="449.27" y2="298.95" stroke="#c0392f" stroke-width="0.6"/>
<line x1="469.13" y1="305.89" x2="469.13" y2="297.21" stroke="#c0392f" stroke-width="0.6"/>
<line x1="467.53" y1="305.89" x2="470.73" y2="305.89" stroke="#c0392f" stroke-width="0.6"/>
<line x1="467.53" y1="297.21" x2="470.73" y2="297.21" stroke="#c0392f" stroke-width="0.6"/>
<line x1="490.60" y1="321.52" x2="490.60" y2="290.27" stroke="#c0392f" stroke-width="0.6"/>
<line x1="489.00" y1="321.52" x2="492.20" y2="321.52" stroke="#c0392f" stroke-width="0.6"/>
<line x1="489.00" y1="290.27" x2="492.20" y2="290.27" stroke="#c0392f" stroke-width="0.6"/>
<line x1="512.07" y1="305.03" x2="512.07" y2="297.79" stroke="#c0392f" stroke-width="0.6"/>
<line x1="510.47" y1="305.03" x2="513.67" y2="305.03" stroke="#c0392f" stroke-width="0.6"/>
<line x1="510.47" y1="297.79" x2="513.67" y2="297.79" stroke="#c0392f" stroke-width="0.6"/>
<polyline points="404.73,299.24 426.20,293.45 447.67,300.11 469.13,301.84 490.60,305.89 512.07,301.55" fill="none" stroke="#c0392f" stroke-width="0.7"/>
<polyline points="404.73,303.00 426.20,301.27 447.67,296.35 469.13,304.45 490.60,309.08 512.07,301.27" fill="none" stroke="#222" stroke-width="0.7"/>
<circle cx="404.73" cy="299.24" r="2.1" fill="#b8191c"/>
<circle cx="426.20" cy="293.45" r="2.1" fill="#b8191c"/>
<circle cx="447.67" cy="300.11" r="2.1" fill="#b8191c"/>
<circle cx="469.13" cy="301.84" r="2.1" fill="#b8191c"/>
<circle cx="490.60" cy="305.89" r="2.1" fill="#b8191c"/>
<circle cx="512.07" cy="301.55" r="2.1" fill="#b8191c"/>
<circle cx="404.73" cy="303.00" r="1.9" fill="#fff" stroke="#000" stroke-width="0.9"/>
<circle cx="426.20" cy="301.27" r="1.9" fill="#fff" stroke="#000" stroke-width="0.9"/>
<circle cx="447.67" cy="296.35" r="1.9" fill="#fff" stroke="#000" stroke-width="0.9"/>
<circle cx="469.13" cy="304.45" r="1.9" fill="#fff" stroke="#000" stroke-width="0.9"/>
<circle cx="490.60" cy="309.08" r="1.9" fill="#fff" stroke="#000" stroke-width="0.9"/>
<circle cx="512.07" cy="301.27" r="1.9" fill="#fff" stroke="#000" stroke-width="0.9"/>
<line x1="394.00" y1="273.20" x2="394.00" y2="360.50" stroke="#333" stroke-width="1"/>
<line x1="393.50" y1="360.00" x2="522.80" y2="360.00" stroke="#333" stroke-width="1.1"/>
<line x1="390.80" y1="360.00" x2="394.00" y2="360.00" stroke="#111" stroke-width="0.9"/>
<text x="389.80" y="363.00" font-size="8.4" font-weight="bold" text-anchor="end" fill="#000">10</text>
<line x1="390.80" y1="331.07" x2="394.00" y2="331.07" stroke="#111" stroke-width="0.9"/>
<text x="389.80" y="334.07" font-size="8.4" font-weight="bold" text-anchor="end" fill="#000">20</text>
<line x1="390.80" y1="302.13" x2="394.00" y2="302.13" stroke="#111" stroke-width="0.9"/>
<text x="389.80" y="305.13" font-size="8.4" font-weight="bold" text-anchor="end" fill="#000">30</text>
<line x1="390.80" y1="273.20" x2="394.00" y2="273.20" stroke="#111" stroke-width="0.9"/>
<text x="389.80" y="276.20" font-size="8.4" font-weight="bold" text-anchor="end" fill="#000">40</text>
<line x1="404.73" y1="360.00" x2="404.73" y2="363.60" stroke="#111" stroke-width="0.9"/>
<text x="404.73" y="373.40" font-size="9.3" font-weight="bold" text-anchor="middle" fill="#000" textLength="4.45" lengthAdjust="spacingAndGlyphs">0</text>
<line x1="426.20" y1="360.00" x2="426.20" y2="363.60" stroke="#111" stroke-width="0.9"/>
<text x="426.20" y="373.40" font-size="9.3" font-weight="bold" text-anchor="middle" fill="#000" textLength="4.45" lengthAdjust="spacingAndGlyphs">4</text>
<line x1="447.67" y1="360.00" x2="447.67" y2="363.60" stroke="#111" stroke-width="0.9"/>
<text x="447.67" y="373.40" font-size="9.3" font-weight="bold" text-anchor="middle" fill="#000" textLength="4.45" lengthAdjust="spacingAndGlyphs">8</text>
<line x1="469.13" y1="360.00" x2="469.13" y2="363.60" stroke="#111" stroke-width="0.9"/>
<text x="469.13" y="373.40" font-size="9.3" font-weight="bold" text-anchor="middle" fill="#000" textLength="8.90" lengthAdjust="spacingAndGlyphs">12</text>
<line x1="490.60" y1="360.00" x2="490.60" y2="363.60" stroke="#111" stroke-width="0.9"/>
<text x="490.60" y="373.40" font-size="9.3" font-weight="bold" text-anchor="middle" fill="#000" textLength="8.90" lengthAdjust="spacingAndGlyphs">16</text>
<line x1="512.07" y1="360.00" x2="512.07" y2="363.60" stroke="#111" stroke-width="0.9"/>
<text x="512.07" y="373.40" font-size="9.3" font-weight="bold" text-anchor="middle" fill="#000" textLength="8.90" lengthAdjust="spacingAndGlyphs">20</text>
<text x="458.40" y="383.40" font-size="9.6" font-weight="bold" text-anchor="middle" fill="#000" textLength="103.00" lengthAdjust="spacingAndGlyphs">Zeitgeber time (hours)</text>
<text x="375.64" y="314.90" font-size="9.3" font-weight="bold" text-anchor="middle" textLength="55.01" lengthAdjust="spacingAndGlyphs" transform="rotate(-90 375.64 314.90)"><tspan font-style="italic">Cry2</tspan> (fpkm)</text>
<line x1="405.00" y1="336.50" x2="414.00" y2="336.50" stroke="#222" stroke-width="0.7"/>
<circle cx="409.60" cy="336.50" r="1.9" fill="#fff" stroke="#000" stroke-width="0.9"/>
<text x="415.40" y="339.20" font-size="7.3" font-weight="bold" text-anchor="start" fill="#1a1a1a">n.s.</text>
<line x1="405.00" y1="346.40" x2="414.00" y2="346.40" stroke="#c0392f" stroke-width="0.7"/>
<circle cx="409.60" cy="346.40" r="2.1" fill="#b8191c"/>
<text x="415.40" y="349.10" font-size="7.3" font-weight="bold" text-anchor="start" fill="#1a1a1a">n.s.</text>
<rect x="551.30" y="271.70" width="10.80" height="86.70" fill="#a19fa5"/>
<rect x="626.90" y="271.70" width="54.00" height="86.70" fill="#a19fa5"/>
<line x1="562.10" y1="272.10" x2="680.90" y2="272.10" stroke="#bdbdbd" stroke-width="0.8"/>
<line x1="583.70" y1="322.27" x2="583.70" y2="319.38" stroke="#3a3a3a" stroke-width="0.6"/>
<line x1="582.10" y1="322.27" x2="585.30" y2="322.27" stroke="#3a3a3a" stroke-width="0.6"/>
<line x1="582.10" y1="319.38" x2="585.30" y2="319.38" stroke="#3a3a3a" stroke-width="0.6"/>
<line x1="605.30" y1="324.88" x2="605.30" y2="321.41" stroke="#3a3a3a" stroke-width="0.6"/>
<line x1="603.70" y1="324.88" x2="606.90" y2="324.88" stroke="#3a3a3a" stroke-width="0.6"/>
<line x1="603.70" y1="321.41" x2="606.90" y2="321.41" stroke="#3a3a3a" stroke-width="0.6"/>
<line x1="626.90" y1="325.74" x2="626.90" y2="322.85" stroke="#3a3a3a" stroke-width="0.6"/>
<line x1="625.30" y1="325.74" x2="628.50" y2="325.74" stroke="#3a3a3a" stroke-width="0.6"/>
<line x1="625.30" y1="322.85" x2="628.50" y2="322.85" stroke="#3a3a3a" stroke-width="0.6"/>
<line x1="648.50" y1="324.59" x2="648.50" y2="322.27" stroke="#3a3a3a" stroke-width="0.6"/>
<line x1="646.90" y1="324.59" x2="650.10" y2="324.59" stroke="#3a3a3a" stroke-width="0.6"/>
<line x1="646.90" y1="322.27" x2="650.10" y2="322.27" stroke="#3a3a3a" stroke-width="0.6"/>
<line x1="670.10" y1="322.27" x2="670.10" y2="310.14" stroke="#3a3a3a" stroke-width="0.6"/>
<line x1="668.50" y1="322.27" x2="671.70" y2="322.27" stroke="#3a3a3a" stroke-width="0.6"/>
<line x1="668.50" y1="310.14" x2="671.70" y2="310.14" stroke="#3a3a3a" stroke-width="0.6"/>
<line x1="605.30" y1="322.85" x2="605.30" y2="319.38" stroke="#c0392f" stroke-width="0.6"/>
<line x1="603.70" y1="322.85" x2="606.90" y2="322.85" stroke="#c0392f" stroke-width="0.6"/>
<line x1="603.70" y1="319.38" x2="606.90" y2="319.38" stroke="#c0392f" stroke-width="0.6"/>
<line x1="648.50" y1="320.83" x2="648.50" y2="318.52" stroke="#c0392f" stroke-width="0.6"/>
<line x1="646.90" y1="320.83" x2="650.10" y2="320.83" stroke="#c0392f" stroke-width="0.6"/>
<line x1="646.90" y1="318.52" x2="650.10" y2="318.52" stroke="#c0392f" stroke-width="0.6"/>
<line x1="670.10" y1="317.94" x2="670.10" y2="313.03" stroke="#c0392f" stroke-width="0.6"/>
<line x1="668.50" y1="317.94" x2="671.70" y2="317.94" stroke="#c0392f" stroke-width="0.6"/>
<line x1="668.50" y1="313.03" x2="671.70" y2="313.03" stroke="#c0392f" stroke-width="0.6"/>
<polyline points="562.10,323.43 583.70,321.99 605.30,321.12 626.90,322.85 648.50,319.67 670.10,315.63" fill="none" stroke="#c0392f" stroke-width="0.7"/>
<polyline points="562.10,317.94 583.70,320.83 605.30,323.14 626.90,324.30 648.50,323.43 670.10,315.92" fill="none" stroke="#222" stroke-width="0.7"/>
<circle cx="562.10" cy="323.43" r="2.1" fill="#b8191c"/>
<circle cx="583.70" cy="321.99" r="2.1" fill="#b8191c"/>
<circle cx="605.30" cy="321.12" r="2.1" fill="#b8191c"/>
<circle cx="626.90" cy="322.85" r="2.1" fill="#b8191c"/>
<circle cx="648.50" cy="319.67" r="2.1" fill="#b8191c"/>
<circle cx="670.10" cy="315.63" r="2.1" fill="#b8191c"/>
<circle cx="562.10" cy="317.94" r="1.9" fill="#fff" stroke="#000" stroke-width="0.9"/>
<circle cx="583.70" cy="320.83" r="1.9" fill="#fff" stroke="#000" stroke-width="0.9"/>
<circle cx="605.30" cy="323.14" r="1.9" fill="#fff" stroke="#000" stroke-width="0.9"/>
<circle cx="626.90" cy="324.30" r="1.9" fill="#fff" stroke="#000" stroke-width="0.9"/>
<circle cx="648.50" cy="323.43" r="1.9" fill="#fff" stroke="#000" stroke-width="0.9"/>
<circle cx="670.10" cy="315.92" r="1.9" fill="#fff" stroke="#000" stroke-width="0.9"/>
<line x1="551.30" y1="271.70" x2="551.30" y2="358.90" stroke="#333" stroke-width="1"/>
<line x1="550.80" y1="358.40" x2="680.90" y2="358.40" stroke="#333" stroke-width="1.1"/>
<line x1="548.10" y1="358.40" x2="551.30" y2="358.40" stroke="#111" stroke-width="0.9"/>
<text x="547.10" y="361.40" font-size="8.4" font-weight="bold" text-anchor="end" fill="#000">0</text>
<line x1="548.10" y1="329.50" x2="551.30" y2="329.50" stroke="#111" stroke-width="0.9"/>
<text x="547.10" y="332.50" font-size="8.4" font-weight="bold" text-anchor="end" fill="#000">1</text>
<line x1="548.10" y1="300.60" x2="551.30" y2="300.60" stroke="#111" stroke-width="0.9"/>
<text x="547.10" y="303.60" font-size="8.4" font-weight="bold" text-anchor="end" fill="#000">2</text>
<line x1="548.10" y1="271.70" x2="551.30" y2="271.70" stroke="#111" stroke-width="0.9"/>
<text x="547.10" y="274.70" font-size="8.4" font-weight="bold" text-anchor="end" fill="#000">3</text>
<line x1="562.10" y1="358.40" x2="562.10" y2="362.00" stroke="#111" stroke-width="0.9"/>
<text x="562.10" y="371.80" font-size="9.3" font-weight="bold" text-anchor="middle" fill="#000" textLength="4.45" lengthAdjust="spacingAndGlyphs">0</text>
<line x1="583.70" y1="358.40" x2="583.70" y2="362.00" stroke="#111" stroke-width="0.9"/>
<text x="583.70" y="371.80" font-size="9.3" font-weight="bold" text-anchor="middle" fill="#000" textLength="4.45" lengthAdjust="spacingAndGlyphs">4</text>
<line x1="605.30" y1="358.40" x2="605.30" y2="362.00" stroke="#111" stroke-width="0.9"/>
<text x="605.30" y="371.80" font-size="9.3" font-weight="bold" text-anchor="middle" fill="#000" textLength="4.45" lengthAdjust="spacingAndGlyphs">8</text>
<line x1="626.90" y1="358.40" x2="626.90" y2="362.00" stroke="#111" stroke-width="0.9"/>
<text x="626.90" y="371.80" font-size="9.3" font-weight="bold" text-anchor="middle" fill="#000" textLength="8.90" lengthAdjust="spacingAndGlyphs">12</text>
<line x1="648.50" y1="358.40" x2="648.50" y2="362.00" stroke="#111" stroke-width="0.9"/>
<text x="648.50" y="371.80" font-size="9.3" font-weight="bold" text-anchor="middle" fill="#000" textLength="8.90" lengthAdjust="spacingAndGlyphs">16</text>
<line x1="670.10" y1="358.40" x2="670.10" y2="362.00" stroke="#111" stroke-width="0.9"/>
<text x="670.10" y="371.80" font-size="9.3" font-weight="bold" text-anchor="middle" fill="#000" textLength="8.90" lengthAdjust="spacingAndGlyphs">20</text>
<text x="616.10" y="381.80" font-size="9.6" font-weight="bold" text-anchor="middle" fill="#000" textLength="103.00" lengthAdjust="spacingAndGlyphs">Zeitgeber time (hours)</text>
<text x="537.72" y="313.35" font-size="9.3" font-weight="bold" text-anchor="middle" textLength="56.08" lengthAdjust="spacingAndGlyphs" transform="rotate(-90 537.72 313.35)"><tspan font-style="italic">Arntl</tspan> (fpkm)</text>
<line x1="562.30" y1="340.40" x2="571.30" y2="340.40" stroke="#222" stroke-width="0.7"/>
<circle cx="566.90" cy="340.40" r="1.9" fill="#fff" stroke="#000" stroke-width="0.9"/>
<text x="572.70" y="343.10" font-size="7.3" font-weight="bold" text-anchor="start" fill="#1a1a1a">n.s.</text>
<line x1="562.30" y1="350.50" x2="571.30" y2="350.50" stroke="#c0392f" stroke-width="0.7"/>
<circle cx="566.90" cy="350.50" r="2.1" fill="#b8191c"/>
<text x="572.70" y="353.20" font-size="7.3" font-weight="bold" text-anchor="start" fill="#1a1a1a">n.s.</text>
<circle cx="603.8" cy="16.9" r="2.6" fill="#fff" stroke="#000" stroke-width="1.1"/>
<text x="610.30" y="19.90" font-size="8.5" font-weight="bold" text-anchor="start" fill="#000">Control</text>
<circle cx="650.8" cy="16.9" r="2.9" fill="#b8191c" stroke="#000" stroke-width="0.6"/>
<text x="657.80" y="19.90" font-size="8.5" font-weight="bold" text-anchor="start" fill="#000">dLAN</text>
<text x="1.15" y="444.50" font-size="12.7" font-weight="bold" text-anchor="start" fill="#000">C</text>
<text x="103.00" y="461.90" font-size="8.6" text-anchor="middle" fill="#000">Comparison of Amplitude</text>
<line x1="49.10" y1="466.60" x2="49.10" y2="615.50" stroke="#ececec" stroke-width="0.5"/>
<line x1="30.50" y1="596.89" x2="179.30" y2="596.89" stroke="#ececec" stroke-width="0.5"/>
<line x1="67.70" y1="466.60" x2="67.70" y2="615.50" stroke="#ececec" stroke-width="0.7"/>
<line x1="30.50" y1="578.27" x2="179.30" y2="578.27" stroke="#ececec" stroke-width="0.7"/>
<line x1="86.30" y1="466.60" x2="86.30" y2="615.50" stroke="#ececec" stroke-width="0.5"/>
<line x1="30.50" y1="559.66" x2="179.30" y2="559.66" stroke="#ececec" stroke-width="0.5"/>
<line x1="104.90" y1="466.60" x2="104.90" y2="615.50" stroke="#ececec" stroke-width="0.7"/>
<line x1="30.50" y1="541.05" x2="179.30" y2="541.05" stroke="#ececec" stroke-width="0.7"/>
<line x1="123.50" y1="466.60" x2="123.50" y2="615.50" stroke="#ececec" stroke-width="0.5"/>
<line x1="30.50" y1="522.44" x2="179.30" y2="522.44" stroke="#ececec" stroke-width="0.5"/>
<line x1="142.10" y1="466.60" x2="142.10" y2="615.50" stroke="#ececec" stroke-width="0.7"/>
<line x1="30.50" y1="503.83" x2="179.30" y2="503.83" stroke="#ececec" stroke-width="0.7"/>
<line x1="160.70" y1="466.60" x2="160.70" y2="615.50" stroke="#ececec" stroke-width="0.5"/>
<line x1="30.50" y1="485.21" x2="179.30" y2="485.21" stroke="#ececec" stroke-width="0.5"/>
<polygon points="30.50,614.64 32.36,612.98 34.22,611.29 36.08,609.55 37.94,607.78 39.80,605.97 41.66,604.13 43.52,602.27 45.38,600.40 47.24,598.52 49.10,596.63 50.96,594.74 52.82,592.85 54.68,590.95 56.54,589.05 58.40,587.15 60.26,585.24 62.12,583.34 63.98,581.44 65.84,579.53 67.70,577.62 69.56,575.72 71.42,573.81 73.28,571.90 75.14,569.99 77.00,568.09 78.86,566.18 80.72,564.27 82.58,562.36 84.44,560.45 86.30,558.54 88.16,556.63 90.02,554.72 91.88,552.82 93.74,550.91 95.60,549.00 97.46,547.09 99.32,545.18 101.18,543.27 103.04,541.36 104.90,539.45 106.76,537.54 108.62,535.63 110.48,533.72 112.34,531.81 114.20,529.90 116.06,527.99 117.92,526.07 119.78,524.16 121.64,522.25 123.50,520.34 125.36,518.43 127.22,516.52 129.08,514.61 130.94,512.70 132.80,510.79 134.66,508.88 136.52,506.97 138.38,505.06 140.24,503.15 142.10,501.24 143.96,499.33 145.82,497.42 147.68,495.51 149.54,493.60 151.40,491.68 153.26,489.77 155.12,487.86 156.98,485.95 158.84,484.04 160.70,482.13 162.56,480.22 164.42,478.31 166.28,476.40 168.14,474.49 170.00,472.58 171.86,470.67 172.98,469.52 172.98,496.30 171.86,497.23 170.00,498.78 168.14,500.33 166.28,501.88 164.42,503.43 162.56,504.98 160.70,506.53 158.84,508.09 156.98,509.64 155.12,511.19 153.26,512.74 151.40,514.29 149.54,515.84 147.68,517.39 145.82,518.94 143.96,520.50 142.10,522.05 140.24,523.60 138.38,525.15 136.52,526.70 134.66,528.25 132.80,529.80 130.94,531.35 129.08,532.91 127.22,534.46 125.36,536.01 123.50,537.56 121.64,539.11 119.78,540.66 117.92,542.21 116.06,543.77 114.20,545.32 112.34,546.87 110.48,548.42 108.62,549.97 106.76,551.52 104.90,553.08 103.04,554.63 101.18,556.18 99.32,557.73 97.46,559.28 95.60,560.84 93.74,562.39 91.88,563.94 90.02,565.49 88.16,567.05 86.30,568.60 84.44,570.15 82.58,571.71 80.72,573.26 78.86,574.81 77.00,576.37 75.14,577.92 73.28,579.47 71.42,581.03 69.56,582.58 67.70,584.14 65.84,585.69 63.98,587.25 62.12,588.81 60.26,590.37 58.40,591.92 56.54,593.49 54.68,595.05 52.82,596.61 50.96,598.18 49.10,599.75 47.24,601.32 45.38,602.91 43.52,604.50 41.66,606.10 39.80,607.72 37.94,609.37 36.08,611.06 34.22,612.79 32.36,614.56 30.50,616.36" fill="#d6d6d6"/>
<line x1="30.50" y1="615.50" x2="175.21" y2="470.69" stroke="#bdbdbd" stroke-width="0.7" stroke-dasharray="2.5 2.5"/>
<line x1="30.50" y1="615.50" x2="179.30" y2="477.02" stroke="#e0523f" stroke-width="1.2" stroke-dasharray="2.6 2.4"/>
<circle cx="50.07" cy="592.42" r="1.6" fill="#000" fill-opacity="0.6"/>
<circle cx="56.91" cy="592.16" r="1.6" fill="#000" fill-opacity="0.6"/>
<circle cx="45.64" cy="603.18" r="1.6" fill="#000" fill-opacity="0.6"/>
<circle cx="37.72" cy="603.44" r="1.6" fill="#000" fill-opacity="0.6"/>
<circle cx="42.55" cy="607.38" r="1.6" fill="#000" fill-opacity="0.6"/>
<circle cx="40.80" cy="606.68" r="1.6" fill="#000" fill-opacity="0.6"/>
<circle cx="35.97" cy="606.23" r="1.6" fill="#000" fill-opacity="0.6"/>
<circle cx="34.96" cy="608.43" r="1.6" fill="#000" fill-opacity="0.6"/>
<circle cx="33.19" cy="611.67" r="1.6" fill="#000" fill-opacity="0.6"/>
<circle cx="33.27" cy="612.36" r="1.6" fill="#000" fill-opacity="0.6"/>
<circle cx="31.60" cy="613.96" r="1.6" fill="#000" fill-opacity="0.6"/>
<circle cx="35.22" cy="612.87" r="1.6" fill="#000" fill-opacity="0.6"/>
<circle cx="31.04" cy="614.25" r="1.6" fill="#000" fill-opacity="0.6"/>
<circle cx="30.75" cy="614.08" r="1.6" fill="#000" fill-opacity="0.6"/>
<circle cx="34.39" cy="611.61" r="1.6" fill="#000" fill-opacity="0.6"/>
<circle cx="30.59" cy="615.50" r="1.6" fill="#000" fill-opacity="0.6"/>
<circle cx="31.63" cy="615.35" r="1.6" fill="#000" fill-opacity="0.6"/>
<circle cx="33.26" cy="612.08" r="1.6" fill="#000" fill-opacity="0.6"/>
<circle cx="33.59" cy="611.79" r="1.6" fill="#000" fill-opacity="0.6"/>
<circle cx="34.44" cy="611.95" r="1.6" fill="#000" fill-opacity="0.6"/>
<circle cx="36.44" cy="609.92" r="1.6" fill="#000" fill-opacity="0.6"/>
<circle cx="34.71" cy="612.38" r="1.6" fill="#000" fill-opacity="0.6"/>
<circle cx="32.22" cy="613.84" r="1.6" fill="#000" fill-opacity="0.6"/>
<circle cx="32.88" cy="612.31" r="1.6" fill="#000" fill-opacity="0.6"/>
<circle cx="36.20" cy="609.92" r="1.6" fill="#000" fill-opacity="0.6"/>
<circle cx="31.75" cy="613.61" r="1.6" fill="#000" fill-opacity="0.6"/>
<circle cx="36.34" cy="610.87" r="1.6" fill="#000" fill-opacity="0.6"/>
<circle cx="34.25" cy="610.95" r="1.6" fill="#000" fill-opacity="0.6"/>
<circle cx="31.02" cy="614.02" r="1.6" fill="#000" fill-opacity="0.6"/>
<circle cx="35.01" cy="613.00" r="1.6" fill="#000" fill-opacity="0.6"/>
<circle cx="31.10" cy="614.42" r="1.6" fill="#000" fill-opacity="0.6"/>
<circle cx="31.56" cy="614.29" r="1.6" fill="#000" fill-opacity="0.6"/>
<circle cx="31.63" cy="614.60" r="1.6" fill="#000" fill-opacity="0.6"/>
<circle cx="34.33" cy="613.10" r="1.6" fill="#000" fill-opacity="0.6"/>
<circle cx="31.77" cy="613.46" r="1.6" fill="#000" fill-opacity="0.6"/>
<circle cx="35.28" cy="610.75" r="1.6" fill="#000" fill-opacity="0.6"/>
<circle cx="31.75" cy="613.53" r="1.6" fill="#000" fill-opacity="0.6"/>
<circle cx="34.32" cy="612.11" r="1.6" fill="#000" fill-opacity="0.6"/>
<circle cx="31.77" cy="613.84" r="1.6" fill="#000" fill-opacity="0.6"/>
<circle cx="32.46" cy="614.55" r="1.6" fill="#000" fill-opacity="0.6"/>
<circle cx="31.04" cy="615.21" r="1.6" fill="#000" fill-opacity="0.6"/>
<circle cx="34.08" cy="612.28" r="1.6" fill="#000" fill-opacity="0.6"/>
<circle cx="36.21" cy="609.92" r="1.6" fill="#000" fill-opacity="0.6"/>
<circle cx="35.66" cy="612.43" r="1.6" fill="#000" fill-opacity="0.6"/>
<circle cx="35.91" cy="609.92" r="1.6" fill="#000" fill-opacity="0.6"/>
<circle cx="31.63" cy="613.09" r="1.6" fill="#000" fill-opacity="0.6"/>
<circle cx="31.67" cy="612.90" r="1.6" fill="#000" fill-opacity="0.6"/>
<circle cx="34.09" cy="612.74" r="1.6" fill="#000" fill-opacity="0.6"/>
<circle cx="30.73" cy="615.46" r="1.6" fill="#000" fill-opacity="0.6"/>
<circle cx="34.69" cy="611.53" r="1.6" fill="#000" fill-opacity="0.6"/>
<circle cx="34.05" cy="613.10" r="1.6" fill="#000" fill-opacity="0.6"/>
<circle cx="34.79" cy="613.38" r="1.6" fill="#000" fill-opacity="0.6"/>
<circle cx="33.83" cy="610.60" r="1.6" fill="#000" fill-opacity="0.6"/>
<rect x="30.50" y="466.60" width="148.80" height="148.90" fill="none" stroke="#4a4a4a" stroke-width="0.9"/>
<text x="27.00" y="618.50" font-size="8.6" text-anchor="end" fill="#222">0</text>
<text x="30.50" y="625.90" font-size="8.6" text-anchor="middle" fill="#222">0</text>
<text x="27.00" y="581.27" font-size="8.6" text-anchor="end" fill="#222">10</text>
<text x="67.70" y="625.90" font-size="8.6" text-anchor="middle" fill="#222">10</text>
<text x="27.00" y="544.05" font-size="8.6" text-anchor="end" fill="#222">20</text>
<text x="104.90" y="625.90" font-size="8.6" text-anchor="middle" fill="#222">20</text>
<text x="27.00" y="506.83" font-size="8.6" text-anchor="end" fill="#222">30</text>
<text x="142.10" y="625.90" font-size="8.6" text-anchor="middle" fill="#222">30</text>
<text x="27.00" y="469.60" font-size="8.6" text-anchor="end" fill="#222">40</text>
<text x="179.30" y="625.90" font-size="8.6" text-anchor="middle" fill="#222">40</text>
<text x="102.90" y="637.60" font-size="8.7" text-anchor="middle" fill="#000">Control Amplitude</text>
<text x="13.30" y="541.10" font-size="8.7" text-anchor="middle" fill="#000" transform="rotate(-90 13.30 541.10)">dLAN Amplitude</text>
<text x="157.70" y="576.10" font-size="8.5" text-anchor="end" fill="#d0594a">Slope = 0.93</text>
<text x="157.70" y="588.60" font-size="8.5" text-anchor="end" fill="#d0594a">p = 2.417e−20</text>
<text x="200.70" y="444.10" font-size="12.7" font-weight="bold" text-anchor="start" fill="#000">D</text>
<text x="303.90" y="459.20" font-size="8.58" text-anchor="middle" fill="#000">Common rhythmic transcripts</text>
<text x="303.90" y="468.40" font-size="8.58" text-anchor="middle" fill="#000">at Control</text>
<circle cx="303.4" cy="541.2" r="15" fill="none" stroke="#c4c4c4" stroke-width="0.6"/>
<circle cx="303.4" cy="541.2" r="30" fill="none" stroke="#c4c4c4" stroke-width="0.6"/>
<circle cx="303.4" cy="541.2" r="45" fill="none" stroke="#c4c4c4" stroke-width="0.6"/>
<circle cx="303.4" cy="541.2" r="60" fill="none" stroke="#c4c4c4" stroke-width="0.6"/>
<circle cx="303.4" cy="541.2" r="67.5" fill="none" stroke="#c4c4c4" stroke-width="0.6"/>
<line x1="303.40" y1="541.20" x2="303.40" y2="473.70" stroke="#c4c4c4" stroke-width="0.6"/>
<line x1="303.40" y1="541.20" x2="337.15" y2="482.74" stroke="#c4c4c4" stroke-width="0.6"/>
<line x1="303.40" y1="541.20" x2="361.86" y2="507.45" stroke="#c4c4c4" stroke-width="0.6"/>
<line x1="303.40" y1="541.20" x2="370.90" y2="541.20" stroke="#c4c4c4" stroke-width="0.6"/>
<line x1="303.40" y1="541.20" x2="361.86" y2="574.95" stroke="#c4c4c4" stroke-width="0.6"/>
<line x1="303.40" y1="541.20" x2="337.15" y2="599.66" stroke="#c4c4c4" stroke-width="0.6"/>
<line x1="303.40" y1="541.20" x2="303.40" y2="608.70" stroke="#c4c4c4" stroke-width="0.6"/>
<line x1="303.40" y1="541.20" x2="269.65" y2="599.66" stroke="#c4c4c4" stroke-width="0.6"/>
<line x1="303.40" y1="541.20" x2="244.94" y2="574.95" stroke="#c4c4c4" stroke-width="0.6"/>
<line x1="303.40" y1="541.20" x2="235.90" y2="541.20" stroke="#c4c4c4" stroke-width="0.6"/>
<line x1="303.40" y1="541.20" x2="244.94" y2="507.45" stroke="#c4c4c4" stroke-width="0.6"/>
<line x1="303.40" y1="541.20" x2="269.65" y2="482.74" stroke="#c4c4c4" stroke-width="0.6"/>
<path d="M303.4,541.2 L298.40,522.56 A19.3,19.3 0 0 1 308.40,522.56 Z" fill="#acd9e1" stroke="#fff" stroke-width="0.5"/>
<path d="M303.4,541.2 L313.88,502.08 A40.5,40.5 0 0 1 332.04,512.56 Z" fill="#acd9e1" stroke="#fff" stroke-width="0.5"/>
<path d="M303.4,541.2 L321.78,522.82 A26,26 0 0 1 328.51,534.47 Z" fill="#acd9e1" stroke="#fff" stroke-width="0.5"/>
<path d="M303.4,541.2 L306.30,540.42 A3,3 0 0 1 306.30,541.98 Z" fill="#acd9e1" stroke="#fff" stroke-width="0.5"/>
<path d="M303.4,541.2 L306.30,541.98 A3,3 0 0 1 305.52,543.32 Z" fill="#acd9e1" stroke="#fff" stroke-width="0.5"/>
<path d="M303.4,541.2 L306.23,544.03 A4,4 0 0 1 304.44,545.06 Z" fill="#acd9e1" stroke="#fff" stroke-width="0.5"/>
<path d="M303.4,541.2 L309.74,564.87 A24.5,24.5 0 0 1 297.06,564.87 Z" fill="#acd9e1" stroke="#fff" stroke-width="0.5"/>
<path d="M303.4,541.2 L301.85,547.00 A6,6 0 0 1 299.16,545.44 Z" fill="#acd9e1" stroke="#fff" stroke-width="0.5"/>
<path d="M303.4,541.2 L297.74,546.86 A8,8 0 0 1 295.67,543.27 Z" fill="#acd9e1" stroke="#fff" stroke-width="0.5"/>
<path d="M303.4,541.2 L289.20,545.00 A14.7,14.7 0 0 1 289.20,537.40 Z" fill="#acd9e1" stroke="#fff" stroke-width="0.5"/>
<path d="M303.4,541.2 L273.94,533.31 A30.5,30.5 0 0 1 281.83,519.63 Z" fill="#acd9e1" stroke="#fff" stroke-width="0.5"/>
<path d="M303.4,541.2 L296.33,534.13 A10,10 0 0 1 300.81,531.54 Z" fill="#acd9e1" stroke="#fff" stroke-width="0.5"/>
<circle cx="303.4" cy="541.2" r="1.3" fill="#fff"/>
<text x="303.40" y="476.00" font-size="7.9" text-anchor="middle" fill="#1a1a1a">0</text>
<text x="337.40" y="485.11" font-size="7.9" text-anchor="middle" fill="#1a1a1a">2</text>
<text x="362.29" y="510.00" font-size="7.9" text-anchor="middle" fill="#1a1a1a">4</text>
<text x="371.40" y="544.00" font-size="7.9" text-anchor="middle" fill="#1a1a1a">6</text>
<text x="362.29" y="578.00" font-size="7.9" text-anchor="middle" fill="#1a1a1a">8</text>
<text x="337.40" y="602.89" font-size="7.9" text-anchor="middle" fill="#1a1a1a">10</text>
<text x="303.40" y="612.00" font-size="7.9" text-anchor="middle" fill="#1a1a1a">12</text>
<text x="269.40" y="602.89" font-size="7.9" text-anchor="middle" fill="#1a1a1a">14</text>
<text x="244.51" y="578.00" font-size="7.9" text-anchor="middle" fill="#1a1a1a">16</text>
<text x="235.40" y="544.00" font-size="7.9" text-anchor="middle" fill="#1a1a1a">18</text>
<text x="244.51" y="510.00" font-size="7.9" text-anchor="middle" fill="#1a1a1a">20</text>
<text x="269.40" y="485.11" font-size="7.9" text-anchor="middle" fill="#1a1a1a">22</text>
<text x="303.40" y="619.90" font-size="7.9" text-anchor="middle" fill="#1a1a1a">ZT</text>
<text x="225.80" y="501.50" font-size="7.7" text-anchor="end" fill="#1a1a1a">12 -</text>
<text x="225.80" y="514.10" font-size="7.7" text-anchor="end" fill="#1a1a1a">9 -</text>
<text x="225.80" y="526.90" font-size="7.7" text-anchor="end" fill="#1a1a1a">6 -</text>
<text x="225.80" y="539.50" font-size="7.7" text-anchor="end" fill="#1a1a1a">3 -</text>
<text x="225.80" y="551.20" font-size="7.7" text-anchor="end" fill="#1a1a1a">0 -</text>
<text x="207.30" y="523.65" font-size="8.0" text-anchor="middle" fill="#000" transform="rotate(-90 207.30 523.65)"># of transcripts</text>
<text x="497.10" y="464.20" font-size="8.58" text-anchor="middle" fill="#000">Common rhythmic transcripts</text>
<text x="497.10" y="473.40" font-size="8.58" text-anchor="middle" fill="#000">at dLAN</text>
<circle cx="491.5" cy="546.7" r="15" fill="none" stroke="#c4c4c4" stroke-width="0.6"/>
<circle cx="491.5" cy="546.7" r="30" fill="none" stroke="#c4c4c4" stroke-width="0.6"/>
<circle cx="491.5" cy="546.7" r="45" fill="none" stroke="#c4c4c4" stroke-width="0.6"/>
<circle cx="491.5" cy="546.7" r="60" fill="none" stroke="#c4c4c4" stroke-width="0.6"/>
<circle cx="491.5" cy="546.7" r="67.5" fill="none" stroke="#c4c4c4" stroke-width="0.6"/>
<line x1="491.50" y1="546.70" x2="491.50" y2="479.20" stroke="#c4c4c4" stroke-width="0.6"/>
<line x1="491.50" y1="546.70" x2="525.25" y2="488.24" stroke="#c4c4c4" stroke-width="0.6"/>
<line x1="491.50" y1="546.70" x2="549.96" y2="512.95" stroke="#c4c4c4" stroke-width="0.6"/>
<line x1="491.50" y1="546.70" x2="559.00" y2="546.70" stroke="#c4c4c4" stroke-width="0.6"/>
<line x1="491.50" y1="546.70" x2="549.96" y2="580.45" stroke="#c4c4c4" stroke-width="0.6"/>
<line x1="491.50" y1="546.70" x2="525.25" y2="605.16" stroke="#c4c4c4" stroke-width="0.6"/>
<line x1="491.50" y1="546.70" x2="491.50" y2="614.20" stroke="#c4c4c4" stroke-width="0.6"/>
<line x1="491.50" y1="546.70" x2="457.75" y2="605.16" stroke="#c4c4c4" stroke-width="0.6"/>
<line x1="491.50" y1="546.70" x2="433.04" y2="580.45" stroke="#c4c4c4" stroke-width="0.6"/>
<line x1="491.50" y1="546.70" x2="424.00" y2="546.70" stroke="#c4c4c4" stroke-width="0.6"/>
<line x1="491.50" y1="546.70" x2="433.04" y2="512.95" stroke="#c4c4c4" stroke-width="0.6"/>
<line x1="491.50" y1="546.70" x2="457.75" y2="488.24" stroke="#c4c4c4" stroke-width="0.6"/>
<path d="M491.5,546.7 L490.46,542.84 A4,4 0 0 1 492.54,542.84 Z" fill="#f1b7c9" stroke="#fff" stroke-width="0.5"/>
<path d="M491.5,546.7 L493.96,537.52 A9.5,9.5 0 0 1 498.22,539.98 Z" fill="#f1b7c9" stroke="#fff" stroke-width="0.5"/>
<path d="M491.5,546.7 L530.39,507.81 A55,55 0 0 1 544.63,532.46 Z" fill="#f1b7c9" stroke="#fff" stroke-width="0.5"/>
<path d="M491.5,546.7 L510.82,541.52 A20,20 0 0 1 510.82,551.88 Z" fill="#f1b7c9" stroke="#fff" stroke-width="0.5"/>
<path d="M491.5,546.7 L494.40,547.48 A3,3 0 0 1 493.62,548.82 Z" fill="#f1b7c9" stroke="#fff" stroke-width="0.5"/>
<path d="M491.5,546.7 L493.62,548.82 A3,3 0 0 1 492.28,549.60 Z" fill="#f1b7c9" stroke="#fff" stroke-width="0.5"/>
<path d="M491.5,546.7 L495.25,560.71 A14.5,14.5 0 0 1 487.75,560.71 Z" fill="#f1b7c9" stroke="#fff" stroke-width="0.5"/>
<path d="M491.5,546.7 L487.67,561.00 A14.8,14.8 0 0 1 481.03,557.17 Z" fill="#f1b7c9" stroke="#fff" stroke-width="0.5"/>
<path d="M491.5,546.7 L452.61,585.59 A55,55 0 0 1 438.37,560.94 Z" fill="#f1b7c9" stroke="#fff" stroke-width="0.5"/>
<path d="M491.5,546.7 L487.64,547.74 A4,4 0 0 1 487.64,545.66 Z" fill="#f1b7c9" stroke="#fff" stroke-width="0.5"/>
<path d="M491.5,546.7 L480.87,543.85 A11,11 0 0 1 483.72,538.92 Z" fill="#f1b7c9" stroke="#fff" stroke-width="0.5"/>
<path d="M491.5,546.7 L489.38,544.58 A3,3 0 0 1 490.72,543.80 Z" fill="#f1b7c9" stroke="#fff" stroke-width="0.5"/>
<circle cx="491.5" cy="546.7" r="1.3" fill="#fff"/>
<text x="491.50" y="481.50" font-size="7.9" text-anchor="middle" fill="#1a1a1a">0</text>
<text x="525.50" y="490.61" font-size="7.9" text-anchor="middle" fill="#1a1a1a">2</text>
<text x="550.39" y="515.50" font-size="7.9" text-anchor="middle" fill="#1a1a1a">4</text>
<text x="559.50" y="549.50" font-size="7.9" text-anchor="middle" fill="#1a1a1a">6</text>
<text x="550.39" y="583.50" font-size="7.9" text-anchor="middle" fill="#1a1a1a">8</text>
<text x="525.50" y="608.39" font-size="7.9" text-anchor="middle" fill="#1a1a1a">10</text>
<text x="491.50" y="617.50" font-size="7.9" text-anchor="middle" fill="#1a1a1a">12</text>
<text x="457.50" y="608.39" font-size="7.9" text-anchor="middle" fill="#1a1a1a">14</text>
<text x="432.61" y="583.50" font-size="7.9" text-anchor="middle" fill="#1a1a1a">16</text>
<text x="423.50" y="549.50" font-size="7.9" text-anchor="middle" fill="#1a1a1a">18</text>
<text x="432.61" y="515.50" font-size="7.9" text-anchor="middle" fill="#1a1a1a">20</text>
<text x="457.50" y="490.61" font-size="7.9" text-anchor="middle" fill="#1a1a1a">22</text>
<text x="491.50" y="625.40" font-size="7.9" text-anchor="middle" fill="#1a1a1a">ZT</text>
<text x="413.40" y="509.10" font-size="7.7" text-anchor="end" fill="#1a1a1a">12 -</text>
<text x="413.40" y="521.10" font-size="7.7" text-anchor="end" fill="#1a1a1a">9 -</text>
<text x="413.40" y="533.10" font-size="7.7" text-anchor="end" fill="#1a1a1a">6 -</text>
<text x="413.40" y="545.10" font-size="7.7" text-anchor="end" fill="#1a1a1a">3 -</text>
<text x="413.40" y="557.00" font-size="7.7" text-anchor="end" fill="#1a1a1a">0 -</text>
<text x="392.70" y="530.35" font-size="8.0" text-anchor="middle" fill="#000" transform="rotate(-90 392.70 530.35)"># of transcripts</text>
<path d="M629.50,495.40 L657.68,447.94 A55.2,55.2 0 1 1 606.52,445.21 Z" fill="#b4b4b4" stroke="#fff" stroke-width="1.6" stroke-linejoin="miter"/>
<path d="M629.80,489.10 L607.07,439.46 A54.6,54.6 0 0 1 657.68,442.15 Z" fill="#5b5b5b" stroke="#fff" stroke-width="1.2"/>
<line x1="575.30" y1="495.40" x2="600.90" y2="609.10" stroke="#333" stroke-width="0.7"/>
<line x1="683.70" y1="495.40" x2="657.50" y2="608.70" stroke="#333" stroke-width="0.7"/>
<text x="629.70" y="453.70" font-size="6.05" font-weight="bold" text-anchor="middle" fill="#fff">in phase</text>
<text x="629.70" y="461.20" font-size="6.05" font-weight="bold" text-anchor="middle" fill="#fff">15%</text>
<text x="630.00" y="508.70" font-size="6.0" font-weight="bold" text-anchor="middle" fill="#111">phase shift</text>
<text x="630.00" y="515.60" font-size="6.0" font-weight="bold" text-anchor="middle" fill="#111">85%</text>
<path d="M629.20,609.40 L631.67,581.21 A28.3,28.3 0 1 1 603.15,620.46 Z" fill="#6cb545"/>
<path d="M629.20,609.40 L603.15,620.46 A28.3,28.3 0 0 1 631.67,581.21 Z" fill="#ebc031"/>
<text x="616.80" y="602.90" font-size="6.5" text-anchor="middle" fill="#111">advanced</text>
<text x="620.10" y="609.90" font-size="6.5" text-anchor="middle" fill="#111">33%</text>
<text x="643.50" y="611.90" font-size="6.5" text-anchor="middle" fill="#111">delayed</text>
<text x="644.20" y="619.20" font-size="6.5" text-anchor="middle" fill="#111">67%</text>
<text x="1.10" y="684.70" font-size="12.7" font-weight="bold" text-anchor="start" fill="#000">E</text>
<text x="156.3" y="703.3" font-size="8.06" style="white-space:pre">Control 18 total terms</text>
<line x1="150.50" y1="794.10" x2="150.50" y2="796.60" stroke="#cfcfcf" stroke-width="0.6"/>
<text x="150.50" y="805.50" font-size="10.9" text-anchor="middle" fill="#222">0</text>
<line x1="181.24" y1="705.60" x2="181.24" y2="794.10" stroke="#dcdcdc" stroke-width="0.6"/>
<line x1="181.24" y1="794.10" x2="181.24" y2="796.60" stroke="#cfcfcf" stroke-width="0.6"/>
<text x="181.24" y="805.50" font-size="10.9" text-anchor="middle" fill="#222">1</text>
<line x1="211.98" y1="705.60" x2="211.98" y2="794.10" stroke="#dcdcdc" stroke-width="0.6"/>
<line x1="211.98" y1="794.10" x2="211.98" y2="796.60" stroke="#cfcfcf" stroke-width="0.6"/>
<text x="211.98" y="805.50" font-size="10.9" text-anchor="middle" fill="#222">2</text>
<line x1="242.72" y1="705.60" x2="242.72" y2="794.10" stroke="#dcdcdc" stroke-width="0.6"/>
<line x1="242.72" y1="794.10" x2="242.72" y2="796.60" stroke="#cfcfcf" stroke-width="0.6"/>
<text x="242.72" y="805.50" font-size="10.9" text-anchor="middle" fill="#222">3</text>
<line x1="273.46" y1="705.60" x2="273.46" y2="794.10" stroke="#dcdcdc" stroke-width="0.6"/>
<line x1="273.46" y1="794.10" x2="273.46" y2="796.60" stroke="#cfcfcf" stroke-width="0.6"/>
<text x="273.46" y="805.50" font-size="10.9" text-anchor="middle" fill="#222">4</text>
<line x1="304.20" y1="705.60" x2="304.20" y2="794.10" stroke="#dcdcdc" stroke-width="0.6"/>
<line x1="304.20" y1="794.10" x2="304.20" y2="796.60" stroke="#cfcfcf" stroke-width="0.6"/>
<text x="304.20" y="805.50" font-size="10.9" text-anchor="middle" fill="#222">5</text>
<line x1="150.50" y1="711.45" x2="313.40" y2="711.45" stroke="#dcdcdc" stroke-width="0.6"/>
<line x1="142.70" y1="711.45" x2="149.70" y2="711.45" stroke="#cfcfcf" stroke-width="0.6"/>
<line x1="150.50" y1="720.15" x2="313.40" y2="720.15" stroke="#dcdcdc" stroke-width="0.6"/>
<line x1="142.70" y1="720.15" x2="149.70" y2="720.15" stroke="#cfcfcf" stroke-width="0.6"/>
<line x1="150.50" y1="728.85" x2="313.40" y2="728.85" stroke="#dcdcdc" stroke-width="0.6"/>
<line x1="142.70" y1="728.85" x2="149.70" y2="728.85" stroke="#cfcfcf" stroke-width="0.6"/>
<line x1="150.50" y1="737.55" x2="313.40" y2="737.55" stroke="#dcdcdc" stroke-width="0.6"/>
<line x1="142.70" y1="737.55" x2="149.70" y2="737.55" stroke="#cfcfcf" stroke-width="0.6"/>
<line x1="150.50" y1="746.25" x2="313.40" y2="746.25" stroke="#dcdcdc" stroke-width="0.6"/>
<line x1="142.70" y1="746.25" x2="149.70" y2="746.25" stroke="#cfcfcf" stroke-width="0.6"/>
<line x1="150.50" y1="754.95" x2="313.40" y2="754.95" stroke="#dcdcdc" stroke-width="0.6"/>
<line x1="142.70" y1="754.95" x2="149.70" y2="754.95" stroke="#cfcfcf" stroke-width="0.6"/>
<line x1="150.50" y1="763.65" x2="313.40" y2="763.65" stroke="#dcdcdc" stroke-width="0.6"/>
<line x1="142.70" y1="763.65" x2="149.70" y2="763.65" stroke="#cfcfcf" stroke-width="0.6"/>
<line x1="150.50" y1="772.35" x2="313.40" y2="772.35" stroke="#dcdcdc" stroke-width="0.6"/>
<line x1="142.70" y1="772.35" x2="149.70" y2="772.35" stroke="#cfcfcf" stroke-width="0.6"/>
<line x1="150.50" y1="781.05" x2="313.40" y2="781.05" stroke="#dcdcdc" stroke-width="0.6"/>
<line x1="142.70" y1="781.05" x2="149.70" y2="781.05" stroke="#cfcfcf" stroke-width="0.6"/>
<line x1="150.50" y1="789.75" x2="313.40" y2="789.75" stroke="#dcdcdc" stroke-width="0.6"/>
<line x1="142.70" y1="789.75" x2="149.70" y2="789.75" stroke="#cfcfcf" stroke-width="0.6"/>
<rect x="150.50" y="707.65" width="155.60" height="7.60" fill="#91ce50"/>
<text x="141.10" y="714.35" font-size="8.72" text-anchor="end" fill="#1a1a1a" textLength="60.52" lengthAdjust="spacingAndGlyphs">Circadian rhythm</text>
<text x="305.80" y="714.85" font-size="9.4" font-style="italic" text-anchor="end" fill="#111">8</text>
<rect x="150.50" y="716.35" width="67.10" height="7.60" fill="#91ce50"/>
<text x="141.10" y="723.05" font-size="8.72" text-anchor="end" fill="#1a1a1a" textLength="43.17" lengthAdjust="spacingAndGlyphs">Proteasome</text>
<text x="217.30" y="723.55" font-size="9.4" font-style="italic" text-anchor="end" fill="#111">7</text>
<rect x="150.50" y="725.05" width="66.50" height="7.60" fill="#91ce50"/>
<text x="141.10" y="731.75" font-size="8.72" text-anchor="end" fill="#1a1a1a" textLength="49.84" lengthAdjust="spacingAndGlyphs">Protein export</text>
<text x="216.70" y="732.25" font-size="9.4" font-style="italic" text-anchor="end" fill="#111">5</text>
<rect x="150.50" y="733.75" width="66.50" height="7.60" fill="#91ce50"/>
<text x="141.10" y="740.45" font-size="8.72" text-anchor="end" fill="#1a1a1a" textLength="87.66" lengthAdjust="spacingAndGlyphs">Diabetic cardiomyopathy</text>
<text x="216.70" y="740.95" font-size="9.4" font-style="italic" text-anchor="end" fill="#111">18</text>
<rect x="150.50" y="742.45" width="64.40" height="7.60" fill="#91ce50"/>
<text x="141.10" y="749.15" font-size="8.72" text-anchor="end" fill="#1a1a1a" textLength="36.19" lengthAdjust="spacingAndGlyphs">Lysosome</text>
<text x="214.60" y="749.65" font-size="9.4" font-style="italic" text-anchor="end" fill="#111">10</text>
<rect x="150.50" y="751.15" width="62.20" height="7.60" fill="#91ce50"/>
<text x="141.10" y="757.85" font-size="8.72" text-anchor="end" fill="#1a1a1a" textLength="94.33" lengthAdjust="spacingAndGlyphs">NF-kappa B signaling pa...</text>
<text x="212.40" y="758.35" font-size="9.4" font-style="italic" text-anchor="end" fill="#111">8</text>
<rect x="150.50" y="759.85" width="62.00" height="7.60" fill="#91ce50"/>
<text x="141.10" y="766.55" font-size="8.72" text-anchor="end" fill="#1a1a1a" textLength="60.08" lengthAdjust="spacingAndGlyphs">RNA polymerase</text>
<text x="212.20" y="767.05" font-size="9.4" font-style="italic" text-anchor="end" fill="#111">5</text>
<rect x="150.50" y="768.55" width="58.60" height="7.60" fill="#91ce50"/>
<text x="141.10" y="775.25" font-size="8.72" text-anchor="end" fill="#1a1a1a" textLength="67.36" lengthAdjust="spacingAndGlyphs">Lysine degradation</text>
<text x="208.80" y="775.75" font-size="9.4" font-style="italic" text-anchor="end" fill="#111">6</text>
<rect x="150.50" y="777.25" width="55.20" height="7.60" fill="#91ce50"/>
<text x="141.10" y="783.95" font-size="8.72" text-anchor="end" fill="#1a1a1a" textLength="45.84" lengthAdjust="spacingAndGlyphs">Spliceosome</text>
<text x="205.40" y="784.45" font-size="9.4" font-style="italic" text-anchor="end" fill="#111">15</text>
<rect x="150.50" y="785.95" width="51.70" height="7.60" fill="#91ce50"/>
<text x="141.10" y="792.65" font-size="8.72" text-anchor="end" fill="#1a1a1a" textLength="69.42" lengthAdjust="spacingAndGlyphs">Carbon metabolism</text>
<text x="201.90" y="793.15" font-size="9.4" font-style="italic" text-anchor="end" fill="#111">11</text>
<rect x="78.1" y="705.6" width="65.40" height="9.60" fill="none" stroke="#c8474f" stroke-width="0.8"/>
<text x="231.60" y="816.20" font-size="8.95" text-anchor="middle" fill="#111">-log10(P-value)</text>
<text x="29.20" y="753.50" font-size="8.0" text-anchor="middle" fill="#111" transform="rotate(-90 29.20 753.50)">KEGG</text>
<text x="347.00" y="684.00" font-size="12.7" font-weight="bold" text-anchor="start" fill="#000">F</text>
<text x="497.2" y="701.9" font-size="7.39" style="white-space:pre">dLAN  32 total terms</text>
<line x1="489.20" y1="799.30" x2="489.20" y2="801.80" stroke="#cfcfcf" stroke-width="0.6"/>
<text x="489.20" y="809.80" font-size="10.9" text-anchor="middle" fill="#222">0</text>
<line x1="534.50" y1="704.20" x2="534.50" y2="799.30" stroke="#dcdcdc" stroke-width="0.6"/>
<line x1="534.50" y1="799.30" x2="534.50" y2="801.80" stroke="#cfcfcf" stroke-width="0.6"/>
<text x="534.50" y="809.80" font-size="10.9" text-anchor="middle" fill="#222">1</text>
<line x1="579.80" y1="704.20" x2="579.80" y2="799.30" stroke="#dcdcdc" stroke-width="0.6"/>
<line x1="579.80" y1="799.30" x2="579.80" y2="801.80" stroke="#cfcfcf" stroke-width="0.6"/>
<text x="579.80" y="809.80" font-size="10.9" text-anchor="middle" fill="#222">2</text>
<line x1="625.10" y1="704.20" x2="625.10" y2="799.30" stroke="#dcdcdc" stroke-width="0.6"/>
<line x1="625.10" y1="799.30" x2="625.10" y2="801.80" stroke="#cfcfcf" stroke-width="0.6"/>
<text x="625.10" y="809.80" font-size="10.9" text-anchor="middle" fill="#222">3</text>
<line x1="489.20" y1="710.38" x2="658.90" y2="710.38" stroke="#dcdcdc" stroke-width="0.6"/>
<line x1="481.10" y1="710.38" x2="488.40" y2="710.38" stroke="#cfcfcf" stroke-width="0.6"/>
<line x1="489.20" y1="719.74" x2="658.90" y2="719.74" stroke="#dcdcdc" stroke-width="0.6"/>
<line x1="481.10" y1="719.74" x2="488.40" y2="719.74" stroke="#cfcfcf" stroke-width="0.6"/>
<line x1="489.20" y1="729.10" x2="658.90" y2="729.10" stroke="#dcdcdc" stroke-width="0.6"/>
<line x1="481.10" y1="729.10" x2="488.40" y2="729.10" stroke="#cfcfcf" stroke-width="0.6"/>
<line x1="489.20" y1="738.46" x2="658.90" y2="738.46" stroke="#dcdcdc" stroke-width="0.6"/>
<line x1="481.10" y1="738.46" x2="488.40" y2="738.46" stroke="#cfcfcf" stroke-width="0.6"/>
<line x1="489.20" y1="747.82" x2="658.90" y2="747.82" stroke="#dcdcdc" stroke-width="0.6"/>
<line x1="481.10" y1="747.82" x2="488.40" y2="747.82" stroke="#cfcfcf" stroke-width="0.6"/>
<line x1="489.20" y1="757.18" x2="658.90" y2="757.18" stroke="#dcdcdc" stroke-width="0.6"/>
<line x1="481.10" y1="757.18" x2="488.40" y2="757.18" stroke="#cfcfcf" stroke-width="0.6"/>
<line x1="489.20" y1="766.54" x2="658.90" y2="766.54" stroke="#dcdcdc" stroke-width="0.6"/>
<line x1="481.10" y1="766.54" x2="488.40" y2="766.54" stroke="#cfcfcf" stroke-width="0.6"/>
<line x1="489.20" y1="775.90" x2="658.90" y2="775.90" stroke="#dcdcdc" stroke-width="0.6"/>
<line x1="481.10" y1="775.90" x2="488.40" y2="775.90" stroke="#cfcfcf" stroke-width="0.6"/>
<line x1="489.20" y1="785.26" x2="658.90" y2="785.26" stroke="#dcdcdc" stroke-width="0.6"/>
<line x1="481.10" y1="785.26" x2="488.40" y2="785.26" stroke="#cfcfcf" stroke-width="0.6"/>
<line x1="489.20" y1="794.62" x2="658.90" y2="794.62" stroke="#dcdcdc" stroke-width="0.6"/>
<line x1="481.10" y1="794.62" x2="488.40" y2="794.62" stroke="#cfcfcf" stroke-width="0.6"/>
<rect x="489.20" y="706.28" width="162.30" height="8.20" fill="#91ce50"/>
<text x="479.50" y="713.28" font-size="8.120500000000002" text-anchor="end" fill="#1a1a1a" textLength="86.03" lengthAdjust="spacingAndGlyphs">TGF-beta signaling path...</text>
<text x="651.20" y="713.78" font-size="9.4" font-style="italic" text-anchor="end" fill="#111">13</text>
<rect x="489.20" y="715.64" width="152.90" height="8.20" fill="#91ce50"/>
<text x="479.50" y="722.64" font-size="8.120500000000002" text-anchor="end" fill="#1a1a1a" textLength="81.92" lengthAdjust="spacingAndGlyphs">Apelin signaling pathway</text>
<text x="641.80" y="723.14" font-size="9.4" font-style="italic" text-anchor="end" fill="#111">16</text>
<rect x="489.20" y="725.00" width="143.80" height="8.20" fill="#91ce50"/>
<text x="479.50" y="732.00" font-size="8.120500000000002" text-anchor="end" fill="#1a1a1a" textLength="80.69" lengthAdjust="spacingAndGlyphs">Hippo signaling pathway</text>
<text x="632.70" y="732.50" font-size="9.4" font-style="italic" text-anchor="end" fill="#111">17</text>
<rect x="489.20" y="734.36" width="126.00" height="8.20" fill="#91ce50"/>
<text x="479.50" y="741.36" font-size="8.120500000000002" text-anchor="end" fill="#1a1a1a" textLength="87.28" lengthAdjust="spacingAndGlyphs">Signaling pathways regu...</text>
<text x="614.90" y="741.86" font-size="9.4" font-style="italic" text-anchor="end" fill="#111">14</text>
<rect x="489.20" y="743.72" width="126.00" height="8.20" fill="#91ce50"/>
<text x="479.50" y="750.72" font-size="8.120500000000002" text-anchor="end" fill="#1a1a1a" textLength="74.03" lengthAdjust="spacingAndGlyphs">N-Glycan biosynthesis</text>
<text x="614.90" y="751.22" font-size="9.4" font-style="italic" text-anchor="end" fill="#111">7</text>
<rect x="489.20" y="753.08" width="119.90" height="8.20" fill="#91ce50"/>
<text x="479.50" y="760.08" font-size="8.120500000000002" text-anchor="end" fill="#1a1a1a" textLength="82.30" lengthAdjust="spacingAndGlyphs">AMPK signaling pathway</text>
<text x="608.80" y="760.58" font-size="9.4" font-style="italic" text-anchor="end" fill="#111">13</text>
<rect x="489.20" y="762.44" width="119.90" height="8.20" fill="#91ce50"/>
<text x="479.50" y="769.44" font-size="8.120500000000002" text-anchor="end" fill="#1a1a1a" textLength="79.41" lengthAdjust="spacingAndGlyphs">Phosphatidylinositol si...</text>
<text x="608.80" y="769.94" font-size="9.4" font-style="italic" text-anchor="end" fill="#111">11</text>
<rect x="489.20" y="771.80" width="109.00" height="8.20" fill="#91ce50"/>
<text x="479.50" y="778.80" font-size="8.120500000000002" text-anchor="end" fill="#1a1a1a" textLength="87.70" lengthAdjust="spacingAndGlyphs">Human papillomavirus in...</text>
<text x="597.90" y="779.30" font-size="9.4" font-style="italic" text-anchor="end" fill="#111">27</text>
<rect x="489.20" y="781.16" width="104.80" height="8.20" fill="#91ce50"/>
<text x="479.50" y="788.16" font-size="8.120500000000002" text-anchor="end" fill="#1a1a1a" textLength="50.48" lengthAdjust="spacingAndGlyphs">Focal adhesion</text>
<text x="593.70" y="788.66" font-size="9.4" font-style="italic" text-anchor="end" fill="#111">18</text>
<rect x="489.20" y="790.52" width="96.90" height="8.20" fill="#91ce50"/>
<text x="479.50" y="797.52" font-size="8.120500000000002" text-anchor="end" fill="#1a1a1a" textLength="75.27" lengthAdjust="spacingAndGlyphs">Fatty acid biosynthesis</text>
<text x="585.80" y="798.02" font-size="9.4" font-style="italic" text-anchor="end" fill="#111">4</text>
<rect x="391.2" y="703.9" width="90.40" height="10.00" fill="none" stroke="#c8474f" stroke-width="0.8"/>
<text x="563.20" y="821.40" font-size="9.05" text-anchor="middle" fill="#111">-log10(P-value)</text>
<text x="370.70" y="759.50" font-size="8.0" text-anchor="middle" fill="#111" transform="rotate(-90 370.70 759.50)">KEGG</text>
</svg></body></html>
